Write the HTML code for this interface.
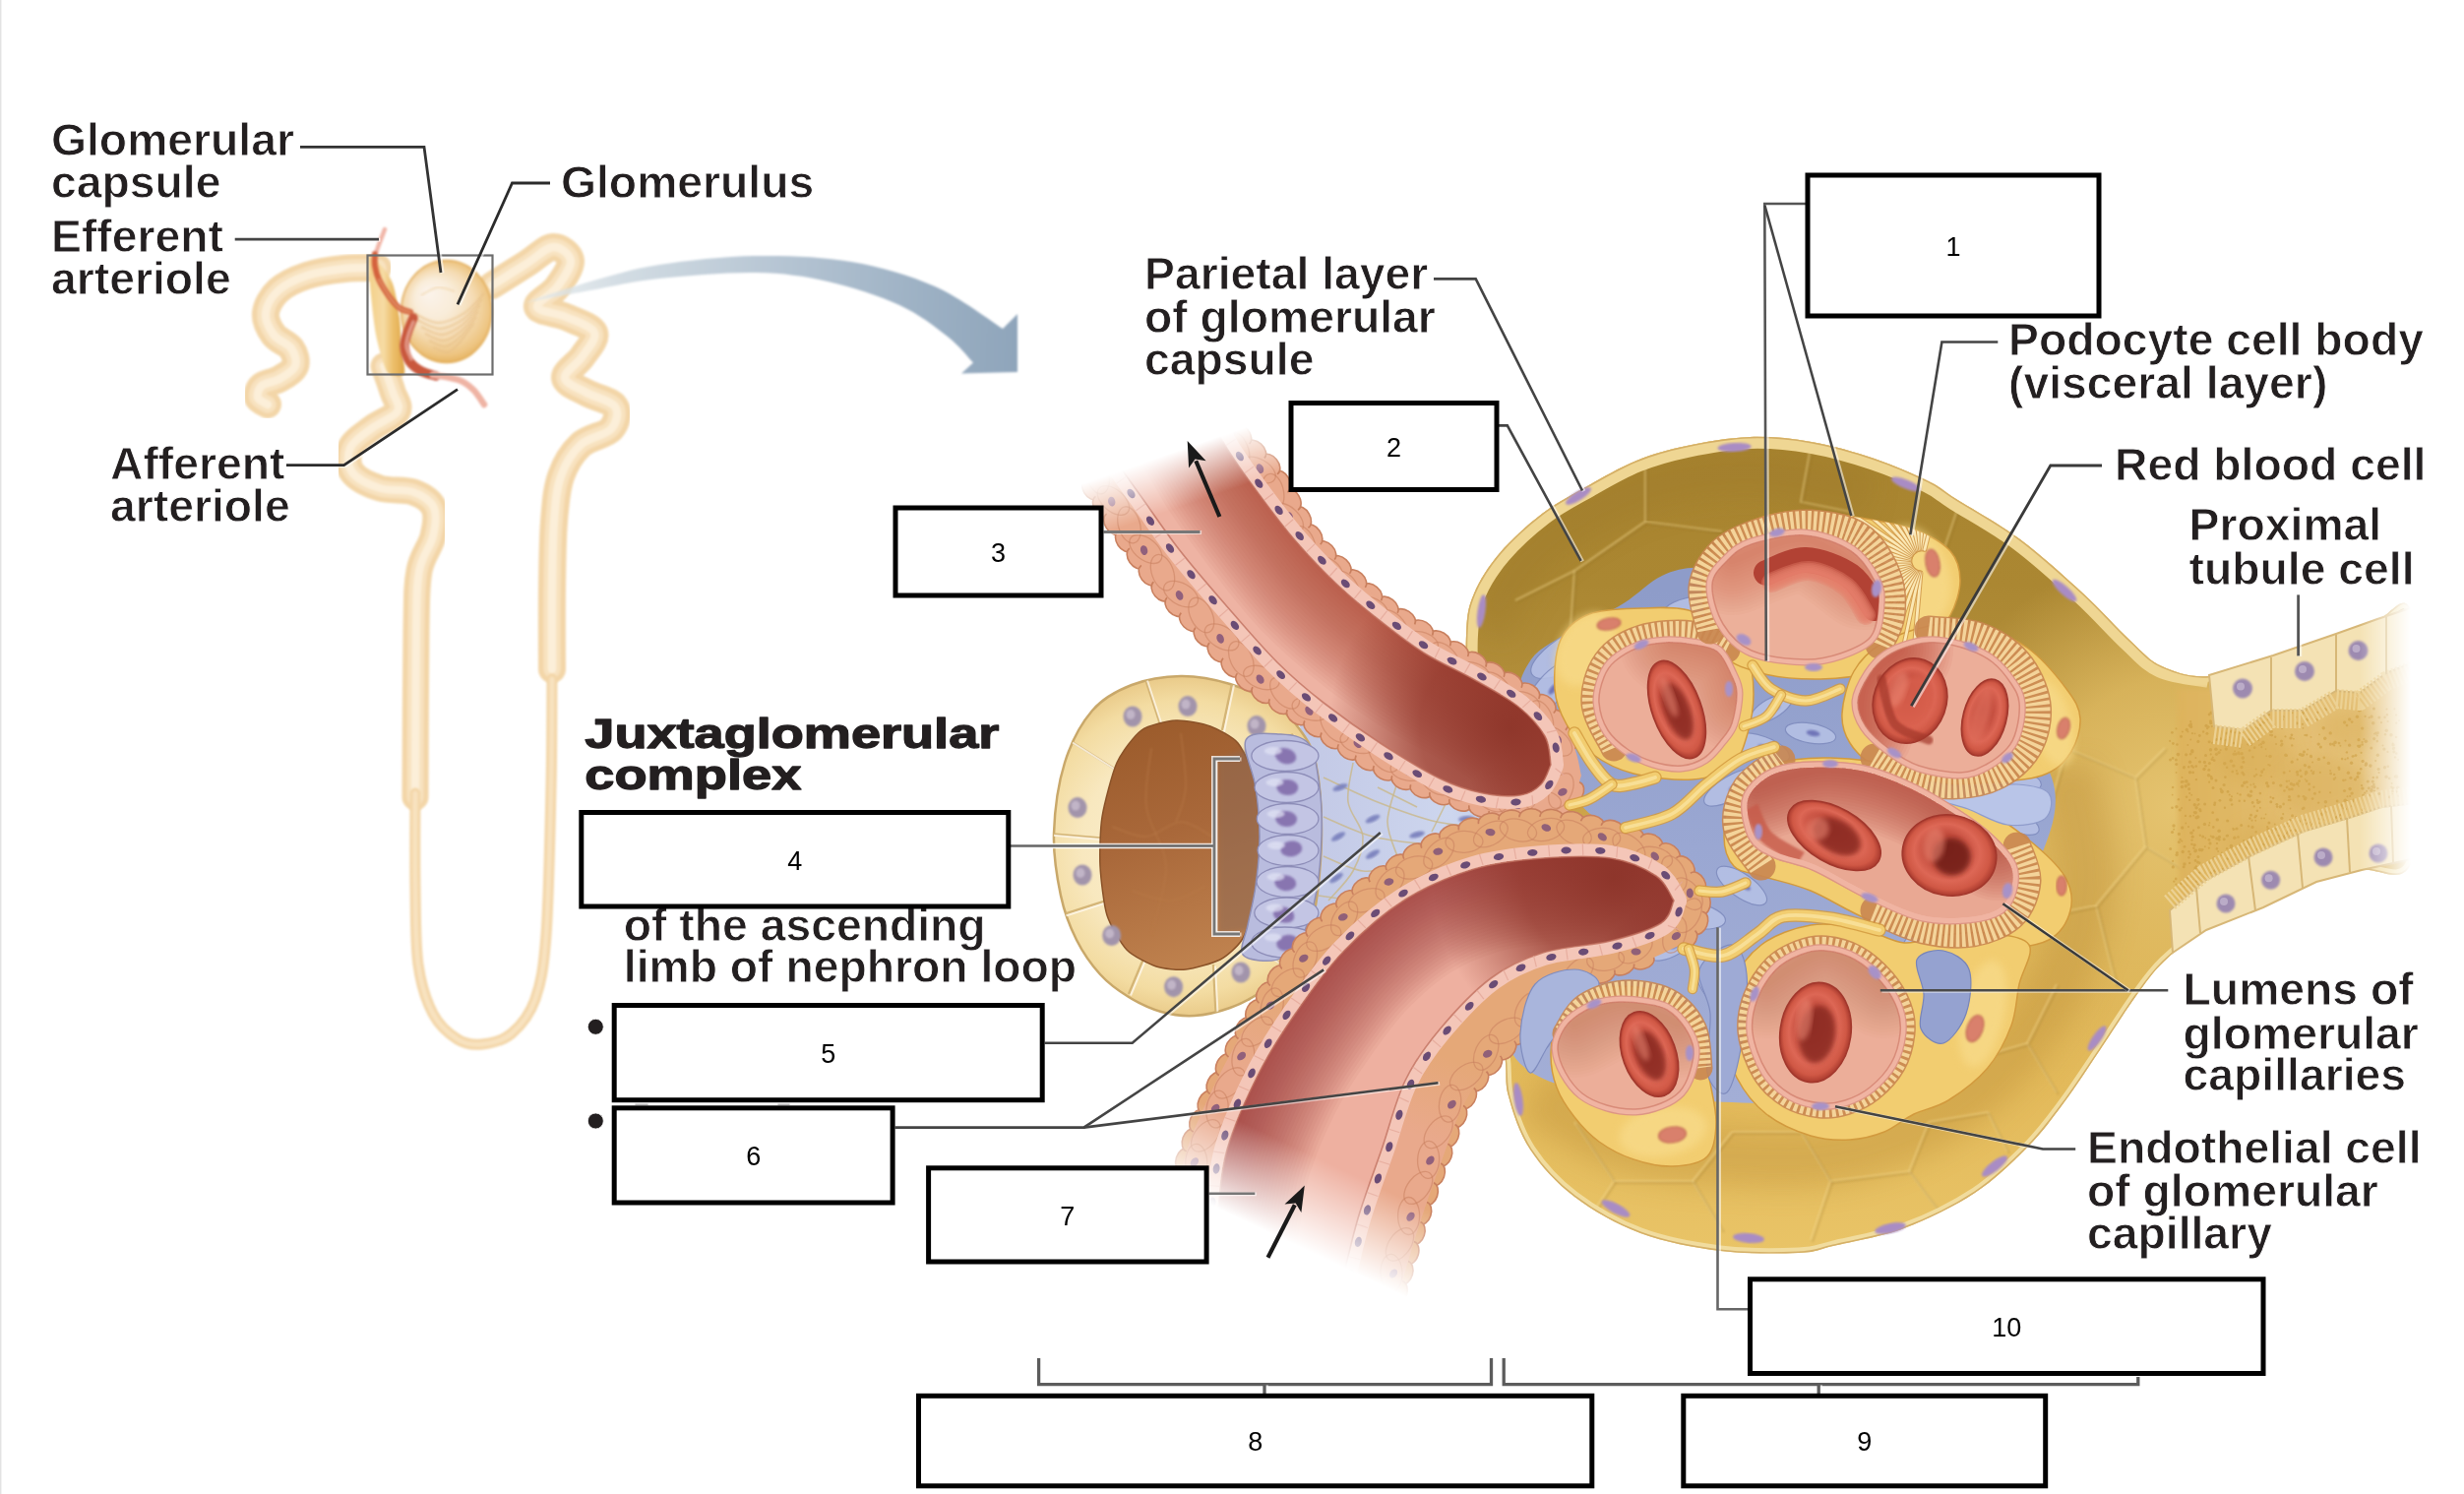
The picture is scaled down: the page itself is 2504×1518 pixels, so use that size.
<!DOCTYPE html><html><head><meta charset="utf-8"><title>Juxtaglomerular complex</title><style>html,body{margin:0;padding:0;background:#fff}svg{display:block}</style></head><body><svg width="2504" height="1518" viewBox="0 0 2504 1518" font-family="'Liberation Sans', Arial, Helvetica, sans-serif"><defs><filter id="b1" x="-10%" y="-10%" width="120%" height="120%"><feGaussianBlur stdDeviation="1.2"/></filter><filter id="b2" x="-10%" y="-10%" width="120%" height="120%"><feGaussianBlur stdDeviation="2.5"/></filter><filter id="b4" x="-20%" y="-20%" width="140%" height="140%"><feGaussianBlur stdDeviation="4"/></filter><filter id="b8" x="-30%" y="-30%" width="160%" height="160%"><feGaussianBlur stdDeviation="8"/></filter><filter id="b14" x="-40%" y="-40%" width="180%" height="180%"><feGaussianBlur stdDeviation="14"/></filter><linearGradient id="bladeg" gradientUnits="userSpaceOnUse" x1="376" y1="300" x2="410" y2="300"><stop offset="0" stop-color="#f3d08a"/><stop offset="0.4" stop-color="#f6dba4"/><stop offset="0.7" stop-color="#ecbe6a"/><stop offset="1" stop-color="#e0a94c"/></linearGradient><radialGradient id="sphg" gradientUnits="userSpaceOnUse" cx="454" cy="316" r="56" fx="434" fy="296"><stop offset="0" stop-color="#fbf4ec"/><stop offset="0.35" stop-color="#f9ecd9"/><stop offset="0.62" stop-color="#f5dcb4"/><stop offset="0.85" stop-color="#eec582"/><stop offset="1" stop-color="#e2ab52"/></radialGradient><linearGradient id="arrg" gradientUnits="userSpaceOnUse" x1="532" y1="300" x2="1034" y2="330"><stop offset="0" stop-color="#dfe6ea" stop-opacity="0.6"/><stop offset="0.2" stop-color="#d2dce3"/><stop offset="0.5" stop-color="#b7c6d4"/><stop offset="0.8" stop-color="#9db1c4"/><stop offset="1" stop-color="#8fa5bb"/></linearGradient><clipPath id="capclip"><path d="M1490,645C1491,622.2 1492.3,616.8 1498,603C1503.7,589.2 1512.5,575.5 1524,562C1535.5,548.5 1552.2,533.3 1567,522C1581.8,510.7 1597,503 1613,494C1629,485 1646.2,474.8 1663,468C1679.8,461.2 1694.8,457 1714,453C1733.2,449 1756.8,444.7 1778,444C1799.2,443.3 1819.8,445.3 1841,449C1862.2,452.7 1885.2,459.3 1905,466C1924.8,472.7 1946.2,482.2 1960,489C1973.8,495.8 1972.5,497.2 1988,507C2003.5,516.8 2031.5,532 2053,548C2074.5,564 2098.3,585.8 2117,603C2135.7,620.2 2151.7,638.7 2165,651C2178.3,663.3 2183.7,671 2197,677C2210.3,683 2226.2,688.7 2245,687C2263.8,685.3 2288.5,674 2310,667C2331.5,660 2356.3,651.2 2374,645C2391.7,638.8 2403.3,634.2 2416,630C2428.7,625.8 2442.7,600 2450,620C2457.3,640 2460,707 2460,750C2460,793 2460,855.7 2450,878C2440,900.3 2416,881 2400,884C2384,887 2370.7,889.7 2354,896C2337.3,902.3 2318.7,914 2300,922C2281.3,930 2258.8,934.8 2242,944C2225.2,953.2 2211,965.5 2199,977C2187,988.5 2180.8,998 2170,1013C2159.2,1028 2146.2,1049 2134,1067C2121.8,1085 2109.2,1104.7 2097,1121C2084.8,1137.3 2076,1149.8 2061,1165C2046,1180.2 2028,1198.2 2007,1212C1986,1225.8 1959,1239 1935,1248C1911,1257 1880.8,1261.8 1863,1266C1845.2,1270.2 1847.2,1272.2 1828,1273C1808.8,1273.8 1774.8,1274.3 1748,1271C1721.2,1267.7 1691.7,1262.2 1667,1253C1642.3,1243.8 1618.7,1230.2 1600,1216C1581.3,1201.8 1566.2,1185 1555,1168C1543.8,1151 1537.3,1130.2 1533,1114C1528.7,1097.8 1532,1093.3 1529,1071C1526,1048.7 1519.8,1015.2 1515,980C1510.2,944.8 1503.8,900 1500,860C1496.2,820 1493.7,775.8 1492,740C1490.3,704.2 1489,667.8 1490,645Z"/></clipPath><linearGradient id="capg" gradientUnits="userSpaceOnUse" x1="0" y1="445" x2="0" y2="1275"><stop offset="0" stop-color="#a8842f"/><stop offset="0.18" stop-color="#ab8732"/><stop offset="0.32" stop-color="#b38f3b"/><stop offset="0.46" stop-color="#cda449"/><stop offset="0.62" stop-color="#deb557"/><stop offset="0.8" stop-color="#e3ba5b"/><stop offset="1" stop-color="#e9c467"/></linearGradient><linearGradient id="fadeR" gradientUnits="userSpaceOnUse" x1="2398" y1="0" x2="2450" y2="0"><stop offset="0" stop-color="#fff" stop-opacity="1"/><stop offset="1" stop-color="#000" stop-opacity="1"/></linearGradient><mask id="mfadeR" maskUnits="userSpaceOnUse" x="1400" y="400" width="1104" height="950"><rect x="1400" y="400" width="1104" height="950" fill="url(#fadeR)"/></mask><radialGradient id="capR" gradientUnits="userSpaceOnUse" cx="2210" cy="820" r="260"><stop offset="0" stop-color="#e6c572" stop-opacity="0.95"/><stop offset="0.5" stop-color="#e0bb62" stop-opacity="0.8"/><stop offset="1" stop-color="#dcb65c" stop-opacity="0"/></radialGradient><linearGradient id="ptg" gradientUnits="userSpaceOnUse" x1="2200" y1="0" x2="2450" y2="0"><stop offset="0" stop-color="#ddb25a"/><stop offset="0.3" stop-color="#e0b866"/><stop offset="1" stop-color="#e8c886"/></linearGradient><linearGradient id="wedgeg" gradientUnits="userSpaceOnUse" x1="1330" y1="0" x2="1620" y2="0"><stop offset="0" stop-color="#c3c9e6"/><stop offset="0.5" stop-color="#cdd6ee"/><stop offset="1" stop-color="#a9b5da"/></linearGradient><radialGradient id="dtcell" gradientUnits="userSpaceOnUse" cx="1205" cy="860" r="175"><stop offset="0" stop-color="#fbf1d4"/><stop offset="0.6" stop-color="#f8e8bf"/><stop offset="0.85" stop-color="#f3dca2"/><stop offset="1" stop-color="#e9c987"/></radialGradient><clipPath id="dtclip"><path d="M1200,687C1183.3,687.2 1165,690.2 1150,696C1135,701.8 1121.3,708.8 1110,722C1098.7,735.2 1088.5,754.2 1082,775C1075.5,795.8 1071.7,824.5 1071,847C1070.3,869.5 1074.2,892 1078,910C1081.8,928 1087.3,941.7 1094,955C1100.7,968.3 1109.2,980.3 1118,990C1126.8,999.7 1136.7,1006.7 1147,1013C1157.3,1019.3 1168.8,1024.8 1180,1028C1191.2,1031.2 1202.3,1032.7 1214,1032C1225.7,1031.3 1238.8,1028 1250,1024C1261.2,1020 1271.8,1014.5 1281,1008C1290.2,1001.5 1298.5,993 1305,985C1311.5,977 1314.8,970 1320,960C1325.2,950 1332.2,943.8 1336,925C1339.8,906.2 1342.8,872 1343,847C1343.2,822 1340.8,792.8 1337,775C1333.2,757.2 1327,749.8 1320,740C1313,730.2 1306.7,723.5 1295,716C1283.3,708.5 1265.8,699.8 1250,695C1234.2,690.2 1216.7,686.8 1200,687Z"/></clipPath><linearGradient id="dtlum" gradientUnits="userSpaceOnUse" x1="1150" y1="732" x2="1240" y2="985"><stop offset="0" stop-color="#9b5b2b"/><stop offset="0.45" stop-color="#a9683a"/><stop offset="1" stop-color="#c18450"/></linearGradient><linearGradient id="tuftg" gradientUnits="userSpaceOnUse" x1="0" y1="600" x2="0" y2="1120"><stop offset="0" stop-color="#8e9cc9"/><stop offset="0.5" stop-color="#9aa7d2"/><stop offset="1" stop-color="#a3aed6"/></linearGradient><linearGradient id="efff" gradientUnits="userSpaceOnUse" x1="1209" y1="512" x2="1191" y2="460"><stop offset="0" stop-color="#fff" stop-opacity="1"/><stop offset="1" stop-color="#000" stop-opacity="1"/></linearGradient><mask id="meff" maskUnits="userSpaceOnUse" x="1000" y="380" width="900" height="1000"><rect x="1000" y="380" width="900" height="1000" fill="url(#efff)"/></mask><clipPath id="ceff"><path d="M1135,470C1139.2,475.8 1149.5,490.3 1160,505C1170.5,519.7 1183.8,539.8 1198,558C1212.2,576.2 1228.3,594.8 1245,614C1261.7,633.2 1281.3,656.3 1298,673C1314.7,689.7 1327.3,700.2 1345,714C1362.7,727.8 1384.3,743.2 1404,756C1423.7,768.8 1445.8,782.7 1463,791C1480.2,799.3 1493.3,803.2 1507,806C1520.7,808.8 1535.2,809.5 1545,808C1554.8,806.5 1560.8,802.2 1566,797C1571.2,791.8 1574.3,780.3 1576,777C1575,772.2 1575.5,757.8 1570,748C1564.5,738.2 1554.8,727.5 1543,718C1531.2,708.5 1514.8,700 1499,691C1483.2,682 1463.8,673.8 1448,664C1432.2,654.2 1418.7,643.5 1404,632C1389.3,620.5 1374.7,608.8 1360,595C1345.3,581.2 1329.3,564.3 1316,549C1302.7,533.7 1290.8,517.5 1280,503C1269.2,488.5 1259,474.2 1251,462C1243,449.8 1235.2,435.3 1232,430Z"/></clipPath><clipPath id="coeff"><path d="M1085,455C1089,462 1100,482.2 1109,497C1118,511.8 1127.7,527.3 1139,544C1150.3,560.7 1163.3,580.3 1177,597C1190.7,613.7 1205.8,627.8 1221,644C1236.2,660.2 1251.3,679.8 1268,694C1284.7,708.2 1303.3,717.2 1321,729C1338.7,740.8 1355.3,753.7 1374,765C1392.7,776.3 1413.3,788.2 1433,797C1452.7,805.8 1474.3,812.7 1492,818C1509.7,823.3 1525.2,827.7 1539,829C1552.8,830.3 1565.2,829.2 1575,826C1584.8,822.8 1592.7,816.3 1598,810C1603.3,803.7 1605.5,791.7 1607,788C1605.5,782.5 1603.7,766.7 1598,755C1592.3,743.3 1582.7,728 1573,718C1563.3,708 1551,702 1540,695C1529,688 1519.8,683.5 1507,676C1494.2,668.5 1478.2,659.3 1463,650C1447.8,640.7 1430.8,630.8 1416,620C1401.2,609.2 1386.8,596.7 1374,585C1361.2,573.3 1349.2,562.8 1339,550C1328.8,537.2 1320.8,520.8 1313,508C1305.2,495.2 1299.5,482.8 1292,473C1284.5,463.2 1275.8,457.8 1268,449C1260.2,440.2 1248.8,424.8 1245,420Z"/></clipPath><path id="ss1" d="M1232,420C1237,428.7 1250.7,454.5 1262,472C1273.3,489.5 1286.2,507 1300,525C1313.8,543 1327.7,562.2 1345,580C1362.3,597.8 1384.8,617 1404,632C1423.2,647 1440.7,658.2 1460,670C1479.3,681.8 1502.3,691.3 1520,703C1537.7,714.7 1555.3,726.3 1566,740C1576.7,753.7 1581,777.5 1584,785"/><radialGradient id="efftip" gradientUnits="userSpaceOnUse" cx="1535" cy="740" r="185"><stop offset="0" stop-color="#8a3126" stop-opacity="0.9"/><stop offset="0.5" stop-color="#8e3328" stop-opacity="0.7"/><stop offset="1" stop-color="#8e3328" stop-opacity="0"/></radialGradient><linearGradient id="afff" gradientUnits="userSpaceOnUse" x1="1330" y1="1172" x2="1291.6" y2="1253.4"><stop offset="0" stop-color="#fff" stop-opacity="1"/><stop offset="1" stop-color="#000" stop-opacity="1"/></linearGradient><mask id="maff" maskUnits="userSpaceOnUse" x="1000" y="380" width="900" height="1000"><rect x="1000" y="380" width="900" height="1000" fill="url(#afff)"/></mask><clipPath id="caff"><path d="M1232,1290C1232.8,1281.3 1234.5,1258.3 1237,1238C1239.5,1217.7 1240,1192.5 1247,1168C1254,1143.5 1267.3,1114.2 1279,1091C1290.7,1067.8 1302.5,1049.8 1317,1029C1331.5,1008.2 1347.5,985.2 1366,966C1384.5,946.8 1406,927.8 1428,914C1450,900.2 1474.7,890 1498,883C1521.3,876 1544.8,873.8 1568,872C1591.2,870.2 1617.8,869 1637,872C1656.2,875 1672.3,882.8 1683,890C1693.7,897.2 1698,910.8 1701,915C1698.8,918.8 1698.7,931.2 1688,938C1677.3,944.8 1657,951 1637,956C1617,961 1588.3,961.7 1568,968C1547.7,974.3 1532.5,981 1515,994C1497.5,1007 1477.5,1028.7 1463,1046C1448.5,1063.3 1437.8,1077.7 1428,1098C1418.2,1118.3 1412,1144.7 1404,1168C1396,1191.3 1387,1214.3 1380,1238C1373,1261.7 1365,1298 1362,1310Z"/></clipPath><clipPath id="coaff"><path d="M1185,1245C1187.8,1234.5 1196.2,1200.7 1202,1182C1207.8,1163.3 1211.3,1152.7 1220,1133C1228.7,1113.3 1241.3,1087.2 1254,1064C1266.7,1040.8 1280.8,1015.5 1296,994C1311.2,972.5 1325.8,953.5 1345,935C1364.2,916.5 1388.3,898.2 1411,883C1433.7,867.8 1457.8,852.8 1481,844C1504.2,835.2 1526.8,831.2 1550,830C1573.2,828.8 1596.7,831.7 1620,837C1643.3,842.3 1672.3,851.5 1690,862C1707.7,872.5 1719.7,887.8 1726,900C1732.3,912.2 1730.3,925.3 1728,935C1725.7,944.7 1714.7,954.2 1712,958C1705.8,960.8 1687.5,970.2 1675,975C1662.5,979.8 1652,980.3 1637,987C1622,993.7 1602.3,1002.2 1585,1015C1567.7,1027.8 1548.7,1047.2 1533,1064C1517.3,1080.8 1502.7,1095.8 1491,1116C1479.3,1136.2 1471.7,1161.8 1463,1185C1454.3,1208.2 1446.2,1232.5 1439,1255C1431.8,1277.5 1423.2,1309.2 1420,1320Z"/></clipPath><linearGradient id="affsm" gradientUnits="userSpaceOnUse" x1="1300" y1="1010" x2="1270" y2="1090"><stop offset="0" stop-color="#e9a98c" stop-opacity="0"/><stop offset="1" stop-color="#e9a98c" stop-opacity="1"/></linearGradient><path id="ss2" d="M1225,1300C1226.7,1288.3 1231.3,1252 1235,1230C1238.7,1208 1239.7,1191.2 1247,1168C1254.3,1144.8 1267.3,1114.2 1279,1091C1290.7,1067.8 1302.5,1049.8 1317,1029C1331.5,1008.2 1347.5,985.2 1366,966C1384.5,946.8 1406,927.8 1428,914C1450,900.2 1474.7,890 1498,883C1521.3,876 1544.8,873.8 1568,872C1591.2,870.2 1616.7,868.7 1637,872C1657.3,875.3 1678.5,883.2 1690,892C1701.5,900.8 1703.3,919.5 1706,925"/><radialGradient id="afftip" gradientUnits="userSpaceOnUse" cx="1640" cy="892" r="185"><stop offset="0" stop-color="#8a3126" stop-opacity="0.9"/><stop offset="0.5" stop-color="#8e3328" stop-opacity="0.7"/><stop offset="1" stop-color="#8e3328" stop-opacity="0"/></radialGradient><clipPath id="p1clip"><path d="M1730,600C1729.5,582.7 1734,567.7 1742,556C1750,544.3 1763.3,536.2 1778,530C1792.7,523.8 1811.3,519.7 1830,519C1848.7,518.3 1870.8,522.8 1890,526C1909.2,529.2 1929.7,532.3 1945,538C1960.3,543.7 1974.2,551.3 1982,560C1989.8,568.7 1992,579.2 1992,590C1992,600.8 1987.3,615.3 1982,625C1976.7,634.7 1968.7,641.3 1960,648C1951.3,654.7 1939.2,659.3 1930,665C1920.8,670.7 1918.3,677.8 1905,682C1891.7,686.2 1869.2,689.7 1850,690C1830.8,690.3 1807.5,689 1790,684C1772.5,679 1755,674 1745,660C1735,646 1730.5,617.3 1730,600Z"/></clipPath><clipPath id="clc2"><path d="M1625,714C1624.3,705 1627.3,695 1630,688C1632.7,681 1635.2,677 1641,672C1646.8,667 1656.5,661.2 1665,658C1673.5,654.8 1682.8,653.5 1692,653C1701.2,652.5 1711.2,653.5 1720,655C1728.8,656.5 1738.5,657 1745,662C1751.5,667 1755.7,678 1759,685C1762.3,692 1764.8,695.7 1765,704C1765.2,712.3 1762.7,727 1760,735C1757.3,743 1753.7,746.2 1749,752C1744.3,757.8 1738.7,765.7 1732,770C1725.3,774.3 1717.7,777.3 1709,778C1700.3,778.7 1689,776.7 1680,774C1671,771.3 1662.7,767.3 1655,762C1647.3,756.7 1639,750 1634,742C1629,734 1625.7,723 1625,714Z"/></clipPath><path id="ss3" d="M1700,652C1708.3,654.7 1738.7,658.3 1750,668C1761.3,677.7 1765,703 1768,710"/><radialGradient id="rbc1" gradientUnits="objectBoundingBox" cx="0.5" cy="0.5" r="0.5" fx="0.4" fy="0.4"><stop offset="0" stop-color="#a83a2f"/><stop offset="0.4" stop-color="#c24c3d"/><stop offset="0.7" stop-color="#dd6755"/><stop offset="0.88" stop-color="#d05845"/><stop offset="1" stop-color="#a93a2e"/></radialGradient><clipPath id="clc1"><path d="M1740,594C1740.7,583.3 1748.3,576.8 1755,570C1761.7,563.2 1766.8,557.3 1780,553C1793.2,548.7 1817.2,542.8 1834,544C1850.8,545.2 1869.2,552.3 1881,560C1892.8,567.7 1900.3,580.8 1905,590C1909.7,599.2 1909.7,605.5 1909,615C1908.3,624.5 1907.5,638.8 1901,647C1894.5,655.2 1881.2,660.2 1870,664C1858.8,667.8 1849,670.5 1834,670C1819,669.5 1793.8,667 1780,661C1766.2,655 1757.7,645.2 1751,634C1744.3,622.8 1739.3,604.7 1740,594Z"/></clipPath><path id="ss4" d="M1760,570C1772.3,566.3 1811.5,545.5 1834,548C1856.5,550.5 1884.8,578.8 1895,585"/><path id="ss5" d="M1800,592C1806.3,590 1825.3,579.3 1838,580C1850.7,580.7 1866.3,588.5 1876,596C1885.7,603.5 1892.7,620.2 1896,625"/><clipPath id="clc3"><path d="M1888,712C1888.7,703.2 1895.2,692.5 1900,685C1904.8,677.5 1910,671.8 1917,667C1924,662.2 1933.5,658.3 1942,656C1950.5,653.7 1958.3,652.3 1968,653C1977.7,653.7 1990.5,656.7 2000,660C2009.5,663.3 2017.7,667.2 2025,673C2032.3,678.8 2039.5,688.2 2044,695C2048.5,701.8 2051.2,706.2 2052,714C2052.8,721.8 2051,734.3 2049,742C2047,749.7 2045.2,754.2 2040,760C2034.8,765.8 2026,772.8 2018,777C2010,781.2 2003.3,784.8 1992,785C1980.7,785.2 1962,782 1950,778C1938,774 1929,767.7 1920,761C1911,754.3 1901.3,746.2 1896,738C1890.7,729.8 1887.3,720.8 1888,712Z"/></clipPath><path id="ss6" d="M1890,740C1890.8,732.5 1888.3,708.3 1895,695C1901.7,681.7 1924.2,665.8 1930,660"/><radialGradient id="rbc2" gradientUnits="objectBoundingBox" cx="0.5" cy="0.5" r="0.5" fx="0.4" fy="0.4"><stop offset="0" stop-color="#a83a2f"/><stop offset="0.4" stop-color="#c24c3d"/><stop offset="0.7" stop-color="#dd6755"/><stop offset="0.88" stop-color="#d05845"/><stop offset="1" stop-color="#a93a2e"/></radialGradient><radialGradient id="rbc3" gradientUnits="objectBoundingBox" cx="0.5" cy="0.5" r="0.5" fx="0.4" fy="0.4"><stop offset="0" stop-color="#a83a2f"/><stop offset="0.4" stop-color="#c24c3d"/><stop offset="0.7" stop-color="#dd6755"/><stop offset="0.88" stop-color="#d05845"/><stop offset="1" stop-color="#a93a2e"/></radialGradient><clipPath id="clc4"><path d="M1776,814C1777.7,804.3 1785.8,797.3 1793,792C1800.2,786.7 1807.8,784 1819,782C1830.2,780 1846.7,779.5 1860,780C1873.3,780.5 1884.8,781.2 1899,785C1913.2,788.8 1930,795.7 1945,803C1960,810.3 1976.5,820.8 1989,829C2001.5,837.2 2011,843.7 2020,852C2029,860.3 2039,870.5 2043,879C2047,887.5 2045.8,895.7 2044,903C2042.2,910.3 2039.3,918.2 2032,923C2024.7,927.8 2013.2,930.8 2000,932C1986.8,933.2 1969.7,934 1953,930C1936.3,926 1918,916.5 1900,908C1882,899.5 1860.8,886 1845,879C1829.2,872 1815.3,870.8 1805,866C1794.7,861.2 1787.8,858.7 1783,850C1778.2,841.3 1774.3,823.7 1776,814Z"/></clipPath><path id="ss7" d="M1785,800C1797.5,797 1832.5,781 1860,782C1887.5,783 1921.7,793 1950,806C1978.3,819 2016.7,851 2030,860"/><path id="ss8" d="M1785,800C1797.5,797 1832.5,781 1860,782C1887.5,783 1921.7,793 1950,806C1978.3,819 2016.7,851 2030,860"/><radialGradient id="rbc4" gradientUnits="objectBoundingBox" cx="0.5" cy="0.5" r="0.5" fx="0.4" fy="0.4"><stop offset="0" stop-color="#a83a2f"/><stop offset="0.4" stop-color="#c24c3d"/><stop offset="0.7" stop-color="#dd6755"/><stop offset="0.88" stop-color="#d05845"/><stop offset="1" stop-color="#a93a2e"/></radialGradient><radialGradient id="rbc5" gradientUnits="objectBoundingBox" cx="0.5" cy="0.5" r="0.5" fx="0.4" fy="0.4"><stop offset="0" stop-color="#a83a2f"/><stop offset="0.4" stop-color="#c24c3d"/><stop offset="0.7" stop-color="#dd6755"/><stop offset="0.88" stop-color="#d05845"/><stop offset="1" stop-color="#a93a2e"/></radialGradient><clipPath id="clc5"><path d="M1781,1049C1779.5,1036.8 1782,1025.7 1786,1015C1790,1004.3 1797.7,992.5 1805,985C1812.3,977.5 1821.7,973.2 1830,970C1838.3,966.8 1845.8,965.2 1855,966C1864.2,966.8 1875.5,969.7 1885,975C1894.5,980.3 1904.8,989.7 1912,998C1919.2,1006.3 1924.8,1016.3 1928,1025C1931.2,1033.7 1932,1040.8 1931,1050C1930,1059.2 1927.2,1070.8 1922,1080C1916.8,1089.2 1907.8,1098.7 1900,1105C1892.2,1111.3 1883.3,1115.3 1875,1118C1866.7,1120.7 1859.2,1122 1850,1121C1840.8,1120 1829.2,1117.5 1820,1112C1810.8,1106.5 1801.5,1098.5 1795,1088C1788.5,1077.5 1782.5,1061.2 1781,1049Z"/></clipPath><path id="ss9" d="M1795,1000C1805,994.7 1835,968 1855,968C1875,968 1905,994.7 1915,1000"/><radialGradient id="rbc6" gradientUnits="objectBoundingBox" cx="0.5" cy="0.5" r="0.5" fx="0.4" fy="0.4"><stop offset="0" stop-color="#a83a2f"/><stop offset="0.4" stop-color="#c24c3d"/><stop offset="0.7" stop-color="#dd6755"/><stop offset="0.88" stop-color="#d05845"/><stop offset="1" stop-color="#a93a2e"/></radialGradient><clipPath id="clc6"><path d="M1583,1066C1582.5,1059 1585.2,1053.3 1588,1048C1590.8,1042.7 1594.3,1038.3 1600,1034C1605.7,1029.7 1614.3,1024.7 1622,1022C1629.7,1019.3 1637.7,1018.3 1646,1018C1654.3,1017.7 1664,1018.7 1672,1020C1680,1021.3 1687.3,1022 1694,1026C1700.7,1030 1707.5,1037.3 1712,1044C1716.5,1050.7 1720.2,1058.3 1721,1066C1721.8,1073.7 1719.3,1082.8 1717,1090C1714.7,1097.2 1711.8,1103.8 1707,1109C1702.2,1114.2 1695.5,1118 1688,1121C1680.5,1124 1671.2,1126.7 1662,1127C1652.8,1127.3 1642,1125.7 1633,1123C1624,1120.3 1615,1116.5 1608,1111C1601,1105.5 1595.2,1097.5 1591,1090C1586.8,1082.5 1583.5,1073 1583,1066Z"/></clipPath><path id="ss10" d="M1600,1040C1608.3,1036.7 1632.5,1020 1650,1020C1667.5,1020 1695.8,1036.7 1705,1040"/><radialGradient id="rbc7" gradientUnits="objectBoundingBox" cx="0.5" cy="0.5" r="0.5" fx="0.4" fy="0.4"><stop offset="0" stop-color="#a83a2f"/><stop offset="0.4" stop-color="#c24c3d"/><stop offset="0.7" stop-color="#dd6755"/><stop offset="0.88" stop-color="#d05845"/><stop offset="1" stop-color="#a93a2e"/></radialGradient></defs><rect x="0" y="0" width="1" height="1518" fill="#e3e3e3"/><rect x="1" y="0" width="1" height="1518" fill="#f3f3f3"/>
<g filter="url(#b1)">
<path d="M384,272C378.3,272.2 362,271.7 350,273C338,274.3 323.2,276.3 312,280C300.8,283.7 290,288.7 283,295C276,301.3 270.8,310.5 270,318C269.2,325.5 273.7,334 278,340C282.3,346 292.3,348.7 296,354C299.7,359.3 302,366.8 300,372C298,377.2 289.7,381.7 284,385C278.3,388.3 269.7,388.8 266,392C262.3,395.2 261,400.8 262,404C263,407.2 270.3,409.8 272,411" fill="none" stroke="#f3d6a8" stroke-width="28" stroke-linecap="round" stroke-linejoin="round"/>
<path d="M384,272C378.3,272.2 362,271.7 350,273C338,274.3 323.2,276.3 312,280C300.8,283.7 290,288.7 283,295C276,301.3 270.8,310.5 270,318C269.2,325.5 273.7,334 278,340C282.3,346 292.3,348.7 296,354C299.7,359.3 302,366.8 300,372C298,377.2 289.7,381.7 284,385C278.3,388.3 269.7,388.8 266,392C262.3,395.2 261,400.8 262,404C263,407.2 270.3,409.8 272,411" fill="none" stroke="#f8e2bf" stroke-width="17.4" stroke-linecap="round" stroke-linejoin="round"/>
<path d="M384,272C378.3,272.2 362,271.7 350,273C338,274.3 323.2,276.3 312,280C300.8,283.7 290,288.7 283,295C276,301.3 270.8,310.5 270,318C269.2,325.5 273.7,334 278,340C282.3,346 292.3,348.7 296,354C299.7,359.3 302,366.8 300,372C298,377.2 289.7,381.7 284,385C278.3,388.3 269.7,388.8 266,392C262.3,395.2 261,400.8 262,404C263,407.2 270.3,409.8 272,411" fill="none" stroke="#fcefd9" stroke-width="8.4" stroke-linecap="round" stroke-linejoin="round"/>
</g>
<g filter="url(#b1)">
<path d="M390,372C391.5,376.3 396.7,390.3 399,398C401.3,405.7 407.5,411.8 404,418C400.5,424.2 386,428.8 378,435C370,441.2 359.3,447.5 356,455C352.7,462.5 353,473.2 358,480C363,486.8 375.7,492.7 386,496C396.3,499.3 410.8,496.7 420,500C429.2,503.3 437.7,508.5 441,516C444.3,523.5 442.5,534.3 440,545C437.5,555.7 428.8,564.2 426,580C423.2,595.8 423.7,601.7 423,640C422.3,678.3 422.2,781.7 422,810" fill="none" stroke="#f3d6a8" stroke-width="27" stroke-linecap="round" stroke-linejoin="round"/>
<path d="M390,372C391.5,376.3 396.7,390.3 399,398C401.3,405.7 407.5,411.8 404,418C400.5,424.2 386,428.8 378,435C370,441.2 359.3,447.5 356,455C352.7,462.5 353,473.2 358,480C363,486.8 375.7,492.7 386,496C396.3,499.3 410.8,496.7 420,500C429.2,503.3 437.7,508.5 441,516C444.3,523.5 442.5,534.3 440,545C437.5,555.7 428.8,564.2 426,580C423.2,595.8 423.7,601.7 423,640C422.3,678.3 422.2,781.7 422,810" fill="none" stroke="#f8e2bf" stroke-width="16.7" stroke-linecap="round" stroke-linejoin="round"/>
<path d="M390,372C391.5,376.3 396.7,390.3 399,398C401.3,405.7 407.5,411.8 404,418C400.5,424.2 386,428.8 378,435C370,441.2 359.3,447.5 356,455C352.7,462.5 353,473.2 358,480C363,486.8 375.7,492.7 386,496C396.3,499.3 410.8,496.7 420,500C429.2,503.3 437.7,508.5 441,516C444.3,523.5 442.5,534.3 440,545C437.5,555.7 428.8,564.2 426,580C423.2,595.8 423.7,601.7 423,640C422.3,678.3 422.2,781.7 422,810" fill="none" stroke="#fcefd9" stroke-width="8.1" stroke-linecap="round" stroke-linejoin="round"/>
</g>
<g filter="url(#b1)">
<path d="M500,290C505.8,286.3 524.7,274.5 535,268C545.3,261.5 554.5,251.5 562,251C569.5,250.5 579.3,258.2 580,265C580.7,271.8 571.7,284.2 566,292C560.3,299.8 544.5,307 546,312C547.5,317 565.3,317.7 575,322C584.7,326.3 601.2,331.3 604,338C606.8,344.7 597,354.3 592,362C587,369.7 573.3,377.8 574,384C574.7,390.2 587.5,394.2 596,399C604.5,403.8 620.8,406.8 625,413C629.2,419.2 626.8,429.5 621,436C615.2,442.5 598.5,444 590,452C581.5,460 574.5,471 570,484C565.5,497 564.5,510.7 563,530C561.5,549.3 561.3,575 561,600C560.7,625 561,666.7 561,680" fill="none" stroke="#f3d6a8" stroke-width="28" stroke-linecap="round" stroke-linejoin="round"/>
<path d="M500,290C505.8,286.3 524.7,274.5 535,268C545.3,261.5 554.5,251.5 562,251C569.5,250.5 579.3,258.2 580,265C580.7,271.8 571.7,284.2 566,292C560.3,299.8 544.5,307 546,312C547.5,317 565.3,317.7 575,322C584.7,326.3 601.2,331.3 604,338C606.8,344.7 597,354.3 592,362C587,369.7 573.3,377.8 574,384C574.7,390.2 587.5,394.2 596,399C604.5,403.8 620.8,406.8 625,413C629.2,419.2 626.8,429.5 621,436C615.2,442.5 598.5,444 590,452C581.5,460 574.5,471 570,484C565.5,497 564.5,510.7 563,530C561.5,549.3 561.3,575 561,600C560.7,625 561,666.7 561,680" fill="none" stroke="#f8e2bf" stroke-width="17.4" stroke-linecap="round" stroke-linejoin="round"/>
<path d="M500,290C505.8,286.3 524.7,274.5 535,268C545.3,261.5 554.5,251.5 562,251C569.5,250.5 579.3,258.2 580,265C580.7,271.8 571.7,284.2 566,292C560.3,299.8 544.5,307 546,312C547.5,317 565.3,317.7 575,322C584.7,326.3 601.2,331.3 604,338C606.8,344.7 597,354.3 592,362C587,369.7 573.3,377.8 574,384C574.7,390.2 587.5,394.2 596,399C604.5,403.8 620.8,406.8 625,413C629.2,419.2 626.8,429.5 621,436C615.2,442.5 598.5,444 590,452C581.5,460 574.5,471 570,484C565.5,497 564.5,510.7 563,530C561.5,549.3 561.3,575 561,600C560.7,625 561,666.7 561,680" fill="none" stroke="#fcefd9" stroke-width="8.4" stroke-linecap="round" stroke-linejoin="round"/>
</g>
<g filter="url(#b1)">
<path d="M422,806C422,821.7 421.5,871 422,900C422.5,929 422,958.3 425,980C428,1001.7 433.3,1017.3 440,1030C446.7,1042.7 456.7,1050.8 465,1056C473.3,1061.2 480.8,1062 490,1061C499.2,1060 511,1057.7 520,1050C529,1042.3 538.2,1031.7 544,1015C549.8,998.3 552.3,985.8 555,950C557.7,914.2 559,843.3 560,800C561,756.7 560.8,708.3 561,690" fill="none" stroke="#f3d6a8" stroke-width="11" stroke-linecap="round"/>
<path d="M422,806C422,821.7 421.5,871 422,900C422.5,929 422,958.3 425,980C428,1001.7 433.3,1017.3 440,1030C446.7,1042.7 456.7,1050.8 465,1056C473.3,1061.2 480.8,1062 490,1061C499.2,1060 511,1057.7 520,1050C529,1042.3 538.2,1031.7 544,1015C549.8,998.3 552.3,985.8 555,950C557.7,914.2 559,843.3 560,800C561,756.7 560.8,708.3 561,690" fill="none" stroke="#f8e2bf" stroke-width="5" stroke-linecap="round"/>
</g>
<path d="M375,263C373.8,267.3 376.1,289.7 377,300C377.9,310.3 380.3,330.7 382,340C383.7,349.3 388.1,364.7 390,370C391.9,375.3 393.2,378.7 396,380C398.8,381.3 409.4,383.7 411,380C412.6,376.3 408.7,359.6 408,352C407.3,344.4 407.2,331.5 406,323C404.8,314.5 401.7,295.3 399,288C396.3,280.7 389.2,271.3 386,268C382.8,264.7 376.2,258.7 375,263Z" fill="url(#bladeg)" filter="url(#b1)"/>
<ellipse cx="453.7" cy="316.5" rx="46" ry="52" fill="url(#sphg)" stroke="#e2ad58" stroke-width="1.6" filter="url(#b1)"/>
<path d="M420,318C424.2,319.7 436.3,328 445,328C453.7,328 464.2,323 472,318C479.8,313 488.7,301.3 492,298" fill="none" stroke="#e6bd84" stroke-width="2" opacity="0.6" filter="url(#b1)"/>
<path d="M424,325C427.8,326.5 439.2,334.2 447,334C454.8,333.8 463.8,329 471,324C478.2,319 486.8,307.3 490,304" fill="none" stroke="#e6bd84" stroke-width="2" opacity="0.6" filter="url(#b1)"/>
<path d="M428,332C431.5,333.3 442,340.3 449,340C456,339.7 463.5,335 470,330C476.5,325 485,313.3 488,310" fill="none" stroke="#e6bd84" stroke-width="2" opacity="0.6" filter="url(#b1)"/>
<path d="M432,339C435.2,340.2 444.8,346.5 451,346C457.2,345.5 463.2,341 469,336C474.8,331 483.2,319.3 486,316" fill="none" stroke="#e6bd84" stroke-width="2" opacity="0.6" filter="url(#b1)"/>
<path d="M436,346C438.8,347 447.7,352.7 453,352C458.3,351.3 462.8,347 468,342C473.2,337 481.3,325.3 484,322" fill="none" stroke="#e6bd84" stroke-width="2" opacity="0.6" filter="url(#b1)"/>
<path d="M440,353C442.5,353.8 450.5,358.8 455,358C459.5,357.2 462.5,353 467,348C471.5,343 479.5,331.3 482,328" fill="none" stroke="#e6bd84" stroke-width="2" opacity="0.6" filter="url(#b1)"/>
<path d="M428,300C430.8,298.7 439.3,292.7 445,292C450.7,291.3 459.2,295.3 462,296" fill="none" stroke="#f0d4a8" stroke-width="2" opacity="0.6" filter="url(#b1)"/>
<g filter="url(#b1)" fill="none" stroke-linecap="round" stroke-linejoin="round">
<path d="M391,233C390.2,235.2 387.7,241.5 386,246C384.3,250.5 381.8,257.7 381,260" fill="none" stroke="#f1b6a8" stroke-width="4.5"/>
<path d="M381,258C381,260 380.3,265.7 381,270C381.7,274.3 382.5,278.7 385,284C387.5,289.3 392.5,297.2 396,302C399.5,306.8 402.5,310.5 406,313C409.5,315.5 415.2,316.3 417,317" fill="none" stroke="#d4623e" stroke-width="6"/>
<path d="M385,284C386.8,287 392.5,297.2 396,302C399.5,306.8 402.5,310.5 406,313C409.5,315.5 415.2,316.3 417,317" fill="none" stroke="#e08a60" stroke-width="2.2"/>
<path d="M420,323C419,325.5 415.5,333.2 414,338C412.5,342.8 410.7,347.2 411,352C411.3,356.8 413.2,362.8 416,367C418.8,371.2 423.5,374.5 428,377C432.5,379.5 440.5,381.2 443,382" fill="none" stroke="#c9583c" stroke-width="9.5"/>
<path d="M420,327C419.2,329.2 416.2,335.8 415,340C413.8,344.2 412.5,347.8 413,352C413.5,356.2 417.2,362.8 418,365" fill="none" stroke="#e39a88" stroke-width="3"/>
<path d="M440,381C444.3,381.8 459.2,383.5 466,386C472.8,388.5 476.7,391.8 481,396C485.3,400.2 490.2,408.5 492,411" fill="none" stroke="#efb4a4" stroke-width="6.5"/>
</g>
<rect x="373.5" y="259.5" width="127" height="121" fill="none" stroke="#6d6d6d" stroke-width="2.2"/>
<path d="M532,308C543.3,304.3 577,292.5 600,286C623,279.5 642,273.3 670,269C698,264.7 735.5,260.5 768,260C800.5,259.5 834.7,260.8 865,266C895.3,271.2 924.3,279.7 950,291C975.7,302.3 1007.5,326.8 1019,334 L1034,319 L1034,378 L977,379.5 L989,368.5C984.7,364.1 975.5,351.8 963,342C950.5,332.2 934.3,319.3 914,310C893.7,300.7 865.3,291.5 841,286C816.7,280.5 796.5,277.5 768,277C739.5,276.5 698,280 670,283C642,286 623,290.8 600,295C577,299.2 543.3,305.8 532,308Z" fill="url(#arrg)" filter="url(#b1)"/>
<g mask="url(#mfadeR)">
<g clip-path="url(#capclip)">
<path d="M1490,645C1491,622.2 1492.3,616.8 1498,603C1503.7,589.2 1512.5,575.5 1524,562C1535.5,548.5 1552.2,533.3 1567,522C1581.8,510.7 1597,503 1613,494C1629,485 1646.2,474.8 1663,468C1679.8,461.2 1694.8,457 1714,453C1733.2,449 1756.8,444.7 1778,444C1799.2,443.3 1819.8,445.3 1841,449C1862.2,452.7 1885.2,459.3 1905,466C1924.8,472.7 1946.2,482.2 1960,489C1973.8,495.8 1972.5,497.2 1988,507C2003.5,516.8 2031.5,532 2053,548C2074.5,564 2098.3,585.8 2117,603C2135.7,620.2 2151.7,638.7 2165,651C2178.3,663.3 2183.7,671 2197,677C2210.3,683 2226.2,688.7 2245,687C2263.8,685.3 2288.5,674 2310,667C2331.5,660 2356.3,651.2 2374,645C2391.7,638.8 2403.3,634.2 2416,630C2428.7,625.8 2442.7,600 2450,620C2457.3,640 2460,707 2460,750C2460,793 2460,855.7 2450,878C2440,900.3 2416,881 2400,884C2384,887 2370.7,889.7 2354,896C2337.3,902.3 2318.7,914 2300,922C2281.3,930 2258.8,934.8 2242,944C2225.2,953.2 2211,965.5 2199,977C2187,988.5 2180.8,998 2170,1013C2159.2,1028 2146.2,1049 2134,1067C2121.8,1085 2109.2,1104.7 2097,1121C2084.8,1137.3 2076,1149.8 2061,1165C2046,1180.2 2028,1198.2 2007,1212C1986,1225.8 1959,1239 1935,1248C1911,1257 1880.8,1261.8 1863,1266C1845.2,1270.2 1847.2,1272.2 1828,1273C1808.8,1273.8 1774.8,1274.3 1748,1271C1721.2,1267.7 1691.7,1262.2 1667,1253C1642.3,1243.8 1618.7,1230.2 1600,1216C1581.3,1201.8 1566.2,1185 1555,1168C1543.8,1151 1537.3,1130.2 1533,1114C1528.7,1097.8 1532,1093.3 1529,1071C1526,1048.7 1519.8,1015.2 1515,980C1510.2,944.8 1503.8,900 1500,860C1496.2,820 1493.7,775.8 1492,740C1490.3,704.2 1489,667.8 1490,645Z" fill="url(#capg)"/>
<rect x="1900" y="500" width="600" height="700" fill="url(#capR)"/>
<path d="M1560,1110C1575,1118.3 1616.7,1149.2 1650,1160C1683.3,1170.8 1721.7,1173.3 1760,1175C1798.3,1176.7 1841.7,1179.2 1880,1170C1918.3,1160.8 1956.7,1145 1990,1120C2023.3,1095 2058.3,1056.7 2080,1020C2101.7,983.3 2116.7,940 2120,900C2123.3,860 2103.3,800 2100,780" fill="none" stroke="#b98a34" stroke-width="60" opacity="0.35" filter="url(#b14)"/>
<path d="M1510,640C1518.3,626.7 1535,583.3 1560,560C1585,536.7 1623.3,513.3 1660,500C1696.7,486.7 1740,480 1780,480C1820,480 1880,496.7 1900,500" fill="none" stroke="#9b782a" stroke-width="50" opacity="0.35" filter="url(#b14)"/>
<path d="M1672,470 L1672,530 L1600,580 L1596,640" fill="none" stroke="#f3d992" stroke-width="2.2" opacity="0.45" stroke-linejoin="round" filter="url(#b1)"/>
<path d="M1674,472 L1674,532 L1602,582 L1598,642" fill="none" stroke="#8a6a24" stroke-width="1.6" opacity="0.25" stroke-linejoin="round" filter="url(#b1)"/>
<path d="M1672,530 L1750,540" fill="none" stroke="#f3d992" stroke-width="2.2" opacity="0.45" stroke-linejoin="round" filter="url(#b1)"/>
<path d="M1674,532 L1752,542" fill="none" stroke="#8a6a24" stroke-width="1.6" opacity="0.25" stroke-linejoin="round" filter="url(#b1)"/>
<path d="M1600,580 L1540,610" fill="none" stroke="#f3d992" stroke-width="2.2" opacity="0.45" stroke-linejoin="round" filter="url(#b1)"/>
<path d="M1602,582 L1542,612" fill="none" stroke="#8a6a24" stroke-width="1.6" opacity="0.25" stroke-linejoin="round" filter="url(#b1)"/>
<path d="M1840,455 L1830,510 L1880,520" fill="none" stroke="#f3d992" stroke-width="2.2" opacity="0.45" stroke-linejoin="round" filter="url(#b1)"/>
<path d="M1842,457 L1832,512 L1882,522" fill="none" stroke="#8a6a24" stroke-width="1.6" opacity="0.25" stroke-linejoin="round" filter="url(#b1)"/>
<path d="M1990,515 L1975,560" fill="none" stroke="#f3d992" stroke-width="2.2" opacity="0.45" stroke-linejoin="round" filter="url(#b1)"/>
<path d="M1992,517 L1977,562" fill="none" stroke="#8a6a24" stroke-width="1.6" opacity="0.25" stroke-linejoin="round" filter="url(#b1)"/>
<path d="M2075,700 L2100,760 L2170,790 L2200,760" fill="none" stroke="#f3d992" stroke-width="2.2" opacity="0.45" stroke-linejoin="round" filter="url(#b1)"/>
<path d="M2077,702 L2102,762 L2172,792 L2202,762" fill="none" stroke="#8a6a24" stroke-width="1.6" opacity="0.25" stroke-linejoin="round" filter="url(#b1)"/>
<path d="M2100,760 L2080,830" fill="none" stroke="#f3d992" stroke-width="2.2" opacity="0.45" stroke-linejoin="round" filter="url(#b1)"/>
<path d="M2102,762 L2082,832" fill="none" stroke="#8a6a24" stroke-width="1.6" opacity="0.25" stroke-linejoin="round" filter="url(#b1)"/>
<path d="M2170,790 L2180,860 L2230,890" fill="none" stroke="#f3d992" stroke-width="2.2" opacity="0.45" stroke-linejoin="round" filter="url(#b1)"/>
<path d="M2172,792 L2182,862 L2232,892" fill="none" stroke="#8a6a24" stroke-width="1.6" opacity="0.25" stroke-linejoin="round" filter="url(#b1)"/>
<path d="M2180,860 L2130,920 L2150,1000" fill="none" stroke="#f3d992" stroke-width="2.2" opacity="0.45" stroke-linejoin="round" filter="url(#b1)"/>
<path d="M2182,862 L2132,922 L2152,1002" fill="none" stroke="#8a6a24" stroke-width="1.6" opacity="0.25" stroke-linejoin="round" filter="url(#b1)"/>
<path d="M2130,920 L2080,930" fill="none" stroke="#f3d992" stroke-width="2.2" opacity="0.45" stroke-linejoin="round" filter="url(#b1)"/>
<path d="M2132,922 L2082,932" fill="none" stroke="#8a6a24" stroke-width="1.6" opacity="0.25" stroke-linejoin="round" filter="url(#b1)"/>
<path d="M2090,1000 L2060,1060 L2090,1110" fill="none" stroke="#f3d992" stroke-width="2.2" opacity="0.45" stroke-linejoin="round" filter="url(#b1)"/>
<path d="M2092,1002 L2062,1062 L2092,1112" fill="none" stroke="#8a6a24" stroke-width="1.6" opacity="0.25" stroke-linejoin="round" filter="url(#b1)"/>
<path d="M2060,1060 L1990,1080" fill="none" stroke="#f3d992" stroke-width="2.2" opacity="0.45" stroke-linejoin="round" filter="url(#b1)"/>
<path d="M2062,1062 L1992,1082" fill="none" stroke="#8a6a24" stroke-width="1.6" opacity="0.25" stroke-linejoin="round" filter="url(#b1)"/>
<path d="M1600,1140 L1640,1200 L1620,1230" fill="none" stroke="#f3d992" stroke-width="2.2" opacity="0.45" stroke-linejoin="round" filter="url(#b1)"/>
<path d="M1602,1142 L1642,1202 L1622,1232" fill="none" stroke="#8a6a24" stroke-width="1.6" opacity="0.25" stroke-linejoin="round" filter="url(#b1)"/>
<path d="M1640,1200 L1720,1200 L1750,1250" fill="none" stroke="#f3d992" stroke-width="2.2" opacity="0.45" stroke-linejoin="round" filter="url(#b1)"/>
<path d="M1642,1202 L1722,1202 L1752,1252" fill="none" stroke="#8a6a24" stroke-width="1.6" opacity="0.25" stroke-linejoin="round" filter="url(#b1)"/>
<path d="M1720,1200 L1760,1150" fill="none" stroke="#f3d992" stroke-width="2.2" opacity="0.45" stroke-linejoin="round" filter="url(#b1)"/>
<path d="M1722,1202 L1762,1152" fill="none" stroke="#8a6a24" stroke-width="1.6" opacity="0.25" stroke-linejoin="round" filter="url(#b1)"/>
<path d="M1760,1150 L1830,1150 L1860,1200 L1840,1260" fill="none" stroke="#f3d992" stroke-width="2.2" opacity="0.45" stroke-linejoin="round" filter="url(#b1)"/>
<path d="M1762,1152 L1832,1152 L1862,1202 L1842,1262" fill="none" stroke="#8a6a24" stroke-width="1.6" opacity="0.25" stroke-linejoin="round" filter="url(#b1)"/>
<path d="M1860,1200 L1940,1190 L1970,1230" fill="none" stroke="#f3d992" stroke-width="2.2" opacity="0.45" stroke-linejoin="round" filter="url(#b1)"/>
<path d="M1862,1202 L1942,1192 L1972,1232" fill="none" stroke="#8a6a24" stroke-width="1.6" opacity="0.25" stroke-linejoin="round" filter="url(#b1)"/>
<path d="M1940,1190 L1960,1140" fill="none" stroke="#f3d992" stroke-width="2.2" opacity="0.45" stroke-linejoin="round" filter="url(#b1)"/>
<path d="M1942,1192 L1962,1142" fill="none" stroke="#8a6a24" stroke-width="1.6" opacity="0.25" stroke-linejoin="round" filter="url(#b1)"/>
<path d="M1960,1140 L2020,1130 L2040,1170" fill="none" stroke="#f3d992" stroke-width="2.2" opacity="0.45" stroke-linejoin="round" filter="url(#b1)"/>
<path d="M1962,1142 L2022,1132 L2042,1172" fill="none" stroke="#8a6a24" stroke-width="1.6" opacity="0.25" stroke-linejoin="round" filter="url(#b1)"/>
<path d="M1490,645C1491,622.2 1492.3,616.8 1498,603C1503.7,589.2 1512.5,575.5 1524,562C1535.5,548.5 1552.2,533.3 1567,522C1581.8,510.7 1597,503 1613,494C1629,485 1646.2,474.8 1663,468C1679.8,461.2 1694.8,457 1714,453C1733.2,449 1756.8,444.7 1778,444C1799.2,443.3 1819.8,445.3 1841,449C1862.2,452.7 1885.2,459.3 1905,466C1924.8,472.7 1946.2,482.2 1960,489C1973.8,495.8 1972.5,497.2 1988,507C2003.5,516.8 2031.5,532 2053,548C2074.5,564 2098.3,585.8 2117,603C2135.7,620.2 2151.7,638.7 2165,651C2178.3,663.3 2183.7,671 2197,677C2210.3,683 2226.2,688.7 2245,687C2263.8,685.3 2288.5,674 2310,667C2331.5,660 2356.3,651.2 2374,645C2391.7,638.8 2403.3,634.2 2416,630C2428.7,625.8 2442.7,600 2450,620C2457.3,640 2460,707 2460,750C2460,793 2460,855.7 2450,878C2440,900.3 2416,881 2400,884C2384,887 2370.7,889.7 2354,896C2337.3,902.3 2318.7,914 2300,922C2281.3,930 2258.8,934.8 2242,944C2225.2,953.2 2211,965.5 2199,977C2187,988.5 2180.8,998 2170,1013C2159.2,1028 2146.2,1049 2134,1067C2121.8,1085 2109.2,1104.7 2097,1121C2084.8,1137.3 2076,1149.8 2061,1165C2046,1180.2 2028,1198.2 2007,1212C1986,1225.8 1959,1239 1935,1248C1911,1257 1880.8,1261.8 1863,1266C1845.2,1270.2 1847.2,1272.2 1828,1273C1808.8,1273.8 1774.8,1274.3 1748,1271C1721.2,1267.7 1691.7,1262.2 1667,1253C1642.3,1243.8 1618.7,1230.2 1600,1216C1581.3,1201.8 1566.2,1185 1555,1168C1543.8,1151 1537.3,1130.2 1533,1114C1528.7,1097.8 1532,1093.3 1529,1071C1526,1048.7 1519.8,1015.2 1515,980C1510.2,944.8 1503.8,900 1500,860C1496.2,820 1493.7,775.8 1492,740C1490.3,704.2 1489,667.8 1490,645Z" fill="none" stroke="#f1dc9e" stroke-width="11"/>
<path d="M1494,800C1493.5,786.7 1491.7,745.8 1491,720C1490.3,694.2 1488.8,664.5 1490,645C1491.2,625.5 1492.3,616.8 1498,603C1503.7,589.2 1512.5,575.5 1524,562C1535.5,548.5 1552.2,533.3 1567,522C1581.8,510.7 1597,503 1613,494C1629,485 1646.2,474.8 1663,468C1679.8,461.2 1694.8,457 1714,453C1733.2,449 1756.8,444.7 1778,444C1799.2,443.3 1819.8,445.3 1841,449C1862.2,452.7 1885.2,459.3 1905,466C1924.8,472.7 1946.2,482.2 1960,489C1973.8,495.8 1972.5,497.2 1988,507C2003.5,516.8 2031.5,532 2053,548C2074.5,564 2098.3,585.8 2117,603C2135.7,620.2 2151.7,638.7 2165,651C2178.3,663.3 2183.7,671 2197,677C2210.3,683 2237,685.3 2245,687" fill="none" stroke="#efd693" stroke-width="24"/>
<path d="M1490,645C1491,622.2 1492.3,616.8 1498,603C1503.7,589.2 1512.5,575.5 1524,562C1535.5,548.5 1552.2,533.3 1567,522C1581.8,510.7 1597,503 1613,494C1629,485 1646.2,474.8 1663,468C1679.8,461.2 1694.8,457 1714,453C1733.2,449 1756.8,444.7 1778,444C1799.2,443.3 1819.8,445.3 1841,449C1862.2,452.7 1885.2,459.3 1905,466C1924.8,472.7 1946.2,482.2 1960,489C1973.8,495.8 1972.5,497.2 1988,507C2003.5,516.8 2031.5,532 2053,548C2074.5,564 2098.3,585.8 2117,603C2135.7,620.2 2151.7,638.7 2165,651C2178.3,663.3 2183.7,671 2197,677C2210.3,683 2226.2,688.7 2245,687C2263.8,685.3 2288.5,674 2310,667C2331.5,660 2356.3,651.2 2374,645C2391.7,638.8 2403.3,634.2 2416,630C2428.7,625.8 2442.7,600 2450,620C2457.3,640 2460,707 2460,750C2460,793 2460,855.7 2450,878C2440,900.3 2416,881 2400,884C2384,887 2370.7,889.7 2354,896C2337.3,902.3 2318.7,914 2300,922C2281.3,930 2258.8,934.8 2242,944C2225.2,953.2 2211,965.5 2199,977C2187,988.5 2180.8,998 2170,1013C2159.2,1028 2146.2,1049 2134,1067C2121.8,1085 2109.2,1104.7 2097,1121C2084.8,1137.3 2076,1149.8 2061,1165C2046,1180.2 2028,1198.2 2007,1212C1986,1225.8 1959,1239 1935,1248C1911,1257 1880.8,1261.8 1863,1266C1845.2,1270.2 1847.2,1272.2 1828,1273C1808.8,1273.8 1774.8,1274.3 1748,1271C1721.2,1267.7 1691.7,1262.2 1667,1253C1642.3,1243.8 1618.7,1230.2 1600,1216C1581.3,1201.8 1566.2,1185 1555,1168C1543.8,1151 1537.3,1130.2 1533,1114C1528.7,1097.8 1532,1093.3 1529,1071C1526,1048.7 1519.8,1015.2 1515,980C1510.2,944.8 1503.8,900 1500,860C1496.2,820 1493.7,775.8 1492,740C1490.3,704.2 1489,667.8 1490,645Z" fill="none" stroke="#d2ab62" stroke-width="3" opacity="0.9"/>
</g>
<path d="M2212,700 L2245,700 L2310,680 L2374,658 L2455,630 L2455,870 L2400,880 L2354,890 L2300,915 L2245,938 L2215,960 Z" fill="url(#ptg)" filter="url(#b2)"/>
<g fill="#c99a3e" opacity="0.55"><circle cx="2260.9" cy="820.7" r="1.2"/><circle cx="2346.9" cy="835.8" r="1"/><circle cx="2208.1" cy="874.9" r="1.1"/><circle cx="2260.1" cy="904.2" r="1.3"/><circle cx="2401.6" cy="808.1" r="1.5"/><circle cx="2240.4" cy="837.4" r="1.7"/><circle cx="2327.9" cy="857.1" r="1.5"/><circle cx="2220" cy="860.3" r="1.4"/><circle cx="2275.8" cy="725.7" r="1.7"/><circle cx="2316.1" cy="853" r="1.7"/><circle cx="2297.8" cy="868.2" r="1.3"/><circle cx="2227.9" cy="745.2" r="1.1"/><circle cx="2431.9" cy="800.7" r="1.5"/><circle cx="2275.7" cy="813.8" r="1.2"/><circle cx="2287.5" cy="828.2" r="1.4"/><circle cx="2417.5" cy="846.2" r="1.7"/><circle cx="2362.7" cy="750.2" r="1.7"/><circle cx="2338.7" cy="852.1" r="1.1"/><circle cx="2400.4" cy="826.1" r="1.2"/><circle cx="2219.9" cy="878" r="1.8"/><circle cx="2225.8" cy="868.1" r="1.3"/><circle cx="2240.4" cy="774.4" r="1.6"/><circle cx="2410.1" cy="728.2" r="1.5"/><circle cx="2215.6" cy="852.9" r="1.2"/><circle cx="2277.8" cy="734.2" r="1.4"/><circle cx="2212.4" cy="756.5" r="1.3"/><circle cx="2348.5" cy="748.9" r="0.9"/><circle cx="2408.9" cy="778.1" r="1.8"/><circle cx="2415.7" cy="789.9" r="1.3"/><circle cx="2327.2" cy="839.1" r="1.4"/><circle cx="2336.4" cy="834.7" r="1.7"/><circle cx="2324.2" cy="799.8" r="1.5"/><circle cx="2260.8" cy="775.7" r="1.8"/><circle cx="2327.5" cy="821.5" r="0.9"/><circle cx="2302.6" cy="827.3" r="0.9"/><circle cx="2349.7" cy="837" r="1"/><circle cx="2352.4" cy="806.3" r="1.5"/><circle cx="2287.9" cy="850.8" r="1.6"/><circle cx="2264" cy="804.4" r="1.4"/><circle cx="2280.2" cy="787.3" r="1.2"/><circle cx="2291.8" cy="830.2" r="1.2"/><circle cx="2293.6" cy="862.9" r="0.9"/><circle cx="2338.8" cy="856" r="1.2"/><circle cx="2257.3" cy="868.7" r="1.1"/><circle cx="2249" cy="800.5" r="1.5"/><circle cx="2228.9" cy="779.6" r="1.2"/><circle cx="2400.9" cy="801.1" r="1.7"/><circle cx="2244.8" cy="782.3" r="1.5"/><circle cx="2413" cy="803.5" r="1.1"/><circle cx="2233.4" cy="818" r="1.1"/><circle cx="2248.1" cy="771.5" r="1.6"/><circle cx="2355.9" cy="869.2" r="1.2"/><circle cx="2235.5" cy="774" r="1.6"/><circle cx="2268.7" cy="784.1" r="1.3"/><circle cx="2303.6" cy="795.8" r="1.7"/><circle cx="2436.9" cy="800.4" r="1.8"/><circle cx="2422.9" cy="761.1" r="1.6"/><circle cx="2401.6" cy="842.7" r="1.4"/><circle cx="2272.9" cy="783.1" r="1.1"/><circle cx="2221" cy="828.9" r="1.2"/><circle cx="2395.4" cy="728.3" r="1.7"/><circle cx="2340.6" cy="722.4" r="1.6"/><circle cx="2245.4" cy="775.5" r="1.5"/><circle cx="2328.4" cy="796.5" r="1.7"/><circle cx="2348.9" cy="783.2" r="1.1"/><circle cx="2407.5" cy="808.3" r="1.6"/><circle cx="2287.7" cy="756.5" r="1.4"/><circle cx="2397" cy="751.7" r="1.6"/><circle cx="2398.5" cy="721.4" r="1.5"/><circle cx="2407.7" cy="729.2" r="1.1"/><circle cx="2268.1" cy="817.5" r="1.3"/><circle cx="2316.1" cy="863.7" r="0.9"/><circle cx="2217.9" cy="743.5" r="1"/><circle cx="2221.1" cy="900.3" r="1.7"/><circle cx="2225.2" cy="812.9" r="1.2"/><circle cx="2278.9" cy="785" r="1.5"/><circle cx="2342.9" cy="786.8" r="1.1"/><circle cx="2282.3" cy="742.9" r="1.4"/><circle cx="2373.3" cy="790.3" r="1"/><circle cx="2247" cy="789.1" r="1.4"/><circle cx="2388.9" cy="790.3" r="1.6"/><circle cx="2351.4" cy="799.8" r="1.2"/><circle cx="2321.6" cy="850" r="1.3"/><circle cx="2368.1" cy="805.3" r="1.1"/><circle cx="2330.9" cy="848.6" r="1"/><circle cx="2304.8" cy="798.8" r="1.7"/><circle cx="2425.1" cy="789.2" r="1.7"/><circle cx="2390.9" cy="768.5" r="1.3"/><circle cx="2233.9" cy="870.4" r="1.5"/><circle cx="2361.9" cy="855.7" r="1.4"/><circle cx="2229.2" cy="828.7" r="0.9"/><circle cx="2238.7" cy="863.2" r="0.9"/><circle cx="2226.6" cy="738.4" r="1.7"/><circle cx="2247.1" cy="724.3" r="1.7"/><circle cx="2233.5" cy="876.1" r="1.5"/><circle cx="2341.1" cy="867.8" r="0.9"/><circle cx="2385.3" cy="814.6" r="1.5"/><circle cx="2230.1" cy="858.6" r="1.7"/><circle cx="2219.4" cy="780" r="1.4"/><circle cx="2399.6" cy="764.8" r="1.1"/><circle cx="2263.7" cy="834" r="1.6"/><circle cx="2297.5" cy="788" r="1.3"/><circle cx="2287.3" cy="797.4" r="1"/><circle cx="2302" cy="858.3" r="1"/><circle cx="2367.3" cy="859.9" r="1.5"/><circle cx="2326.5" cy="809.5" r="1.5"/><circle cx="2415.9" cy="747.6" r="1"/><circle cx="2326.6" cy="802" r="1.5"/><circle cx="2248.7" cy="769.5" r="1.1"/><circle cx="2342.6" cy="778.2" r="1.1"/><circle cx="2274.5" cy="850.5" r="1.3"/><circle cx="2405.6" cy="828.2" r="1.1"/><circle cx="2256.1" cy="724.3" r="1.3"/><circle cx="2294.9" cy="751.9" r="1.2"/><circle cx="2280.7" cy="863.2" r="1"/><circle cx="2437.9" cy="808.7" r="1.4"/><circle cx="2315" cy="874.4" r="1.6"/><circle cx="2335.9" cy="809" r="1.5"/><circle cx="2406.3" cy="794" r="1.6"/><circle cx="2430.7" cy="806.5" r="1.1"/><circle cx="2260.2" cy="852.8" r="1.5"/><circle cx="2261.9" cy="755.1" r="1.1"/><circle cx="2249" cy="850.4" r="1.7"/><circle cx="2416.4" cy="767.2" r="1.7"/><circle cx="2278.7" cy="798.3" r="1.6"/><circle cx="2225.2" cy="737.1" r="1.7"/><circle cx="2273.6" cy="786" r="1.4"/><circle cx="2363.7" cy="721.3" r="1.2"/><circle cx="2307.5" cy="809.9" r="1.1"/><circle cx="2296.9" cy="820.7" r="1"/><circle cx="2269.6" cy="843.1" r="1"/><circle cx="2227.8" cy="894.1" r="1.2"/><circle cx="2386.5" cy="860.1" r="1.2"/><circle cx="2363.8" cy="841" r="1.6"/><circle cx="2267.4" cy="859.5" r="1.8"/><circle cx="2363.1" cy="819.2" r="1"/><circle cx="2321.1" cy="785.1" r="1.5"/><circle cx="2364.5" cy="824.8" r="1.1"/><circle cx="2356.7" cy="836.7" r="1.1"/><circle cx="2414.1" cy="841.2" r="1"/><circle cx="2424" cy="746.2" r="1.2"/><circle cx="2374.3" cy="830.5" r="1.4"/><circle cx="2357.2" cy="804.7" r="1.2"/><circle cx="2246.4" cy="732.7" r="1.5"/><circle cx="2382.3" cy="820.5" r="1.6"/><circle cx="2289.4" cy="769.2" r="1.2"/><circle cx="2410" cy="727.8" r="1.4"/><circle cx="2263.1" cy="862.2" r="1.2"/><circle cx="2283.2" cy="794.6" r="1.4"/><circle cx="2386.4" cy="785.3" r="1.7"/><circle cx="2231.4" cy="770" r="1"/><circle cx="2231.5" cy="864.1" r="1.6"/><circle cx="2248.4" cy="755" r="1.3"/><circle cx="2379.7" cy="870.9" r="1.6"/><circle cx="2344.1" cy="747.1" r="1.3"/><circle cx="2250.5" cy="817.6" r="1.4"/><circle cx="2252.5" cy="766.3" r="1.6"/><circle cx="2212.1" cy="868.6" r="1.7"/><circle cx="2428.1" cy="790.9" r="1.4"/><circle cx="2342" cy="837.2" r="1.8"/><circle cx="2366.4" cy="775.4" r="1.7"/><circle cx="2318.8" cy="831.3" r="1.6"/><circle cx="2205.6" cy="862.5" r="1.5"/><circle cx="2320.6" cy="816.9" r="1.3"/><circle cx="2250.5" cy="818" r="0.9"/><circle cx="2322.6" cy="839.5" r="1.3"/><circle cx="2414.6" cy="745.1" r="1.6"/><circle cx="2351.5" cy="729.4" r="1.2"/><circle cx="2259.9" cy="734.4" r="1.4"/><circle cx="2423.5" cy="779.8" r="1.7"/><circle cx="2368.2" cy="744.9" r="1.7"/><circle cx="2373.2" cy="856.8" r="1.2"/><circle cx="2407.4" cy="800.8" r="1.6"/><circle cx="2319" cy="740.2" r="0.9"/><circle cx="2223.3" cy="757.1" r="1"/><circle cx="2321.8" cy="849.4" r="1.4"/><circle cx="2304.2" cy="840.1" r="1.2"/><circle cx="2314.1" cy="860.1" r="1.3"/><circle cx="2247.4" cy="886.4" r="1.5"/><circle cx="2291.2" cy="788.6" r="1.4"/><circle cx="2345.2" cy="761.4" r="0.9"/><circle cx="2254.1" cy="864.9" r="1"/><circle cx="2313.1" cy="756.1" r="1.1"/><circle cx="2245.1" cy="794.7" r="1.1"/><circle cx="2211.5" cy="740.4" r="1.1"/><circle cx="2320.2" cy="731" r="0.9"/><circle cx="2310.3" cy="795.4" r="1.5"/><circle cx="2217" cy="794.6" r="1.3"/><circle cx="2211.3" cy="898.6" r="1.1"/><circle cx="2227.2" cy="807.8" r="1"/><circle cx="2351.3" cy="784.1" r="1"/><circle cx="2217.2" cy="854.6" r="1.1"/><circle cx="2390.1" cy="806.1" r="1.7"/><circle cx="2275.6" cy="766.2" r="1.1"/><circle cx="2396.4" cy="836.4" r="1.2"/><circle cx="2227" cy="846.2" r="1.8"/><circle cx="2344.2" cy="720.7" r="0.9"/><circle cx="2226.3" cy="751.5" r="0.9"/><circle cx="2217.7" cy="841" r="1.7"/><circle cx="2252.2" cy="900.2" r="1.3"/><circle cx="2425.9" cy="726.3" r="1.2"/><circle cx="2225.6" cy="774.3" r="1.7"/><circle cx="2231.9" cy="792.1" r="1.2"/><circle cx="2246" cy="856.9" r="1.6"/><circle cx="2401.4" cy="822.4" r="1.7"/><circle cx="2290.3" cy="796.7" r="1.1"/><circle cx="2388.2" cy="808.9" r="1.1"/><circle cx="2244.9" cy="853.3" r="1.4"/><circle cx="2372" cy="791.6" r="1.3"/><circle cx="2241.2" cy="851.5" r="0.9"/><circle cx="2314.7" cy="860.3" r="1.5"/><circle cx="2227.8" cy="763.9" r="1.7"/><circle cx="2410" cy="803.2" r="1.7"/><circle cx="2377.2" cy="781.7" r="1.2"/><circle cx="2221.9" cy="793.9" r="1.8"/><circle cx="2229.7" cy="825.2" r="1"/><circle cx="2224" cy="840.1" r="1.1"/><circle cx="2216.5" cy="748.2" r="1.5"/><circle cx="2342.6" cy="722.2" r="1.1"/><circle cx="2432.3" cy="760.7" r="1.4"/><circle cx="2303.6" cy="864.5" r="1.4"/><circle cx="2390.3" cy="819" r="1.1"/><circle cx="2246.7" cy="734.6" r="1.6"/><circle cx="2432.1" cy="756.9" r="1.7"/><circle cx="2225.2" cy="806.1" r="1.1"/><circle cx="2399.9" cy="833.9" r="1.5"/><circle cx="2286.3" cy="831.6" r="1.3"/><circle cx="2231.1" cy="874.5" r="1.4"/><circle cx="2396.5" cy="758.1" r="1.4"/><circle cx="2314.1" cy="854.7" r="1"/><circle cx="2286.3" cy="809.6" r="1"/><circle cx="2334.9" cy="856" r="1.3"/><circle cx="2357.4" cy="832.1" r="1.1"/><circle cx="2283.8" cy="799.7" r="1"/><circle cx="2256.2" cy="750.6" r="1.7"/><circle cx="2436.8" cy="833.2" r="1.7"/><circle cx="2330.9" cy="797.5" r="1.8"/><circle cx="2318.8" cy="863.1" r="1.3"/><circle cx="2273.6" cy="892.8" r="1.1"/><circle cx="2227.5" cy="853.6" r="1.2"/><circle cx="2327.1" cy="838.3" r="0.9"/><circle cx="2380.1" cy="771.1" r="1.3"/><circle cx="2286" cy="857.3" r="1.6"/><circle cx="2272.5" cy="739.1" r="1.2"/><circle cx="2301.6" cy="734.3" r="1"/><circle cx="2384.2" cy="849.6" r="1.8"/><circle cx="2292.6" cy="749.8" r="1.2"/><circle cx="2313.8" cy="817.3" r="1.4"/><circle cx="2289.5" cy="877.7" r="1.2"/><circle cx="2313.8" cy="884.1" r="1.6"/><circle cx="2274.9" cy="764.9" r="1.6"/><circle cx="2207.4" cy="744.3" r="1.4"/><circle cx="2330.9" cy="750.7" r="0.9"/><circle cx="2252.9" cy="862.4" r="1.3"/><circle cx="2435.1" cy="726.5" r="1.1"/><circle cx="2208.1" cy="800" r="1.2"/><circle cx="2217" cy="821" r="1"/><circle cx="2278.2" cy="765.7" r="1.6"/><circle cx="2303.3" cy="768.2" r="0.9"/><circle cx="2305.9" cy="836.1" r="1.5"/><circle cx="2263.1" cy="745.1" r="1.6"/><circle cx="2390.5" cy="814.1" r="1.6"/><circle cx="2334.7" cy="771.7" r="1.1"/><circle cx="2209" cy="839" r="1.7"/><circle cx="2417.9" cy="806.5" r="1.5"/><circle cx="2346.6" cy="796.7" r="1.4"/><circle cx="2245.1" cy="753.8" r="1.5"/><circle cx="2438.1" cy="821.2" r="1.3"/><circle cx="2287.7" cy="804.2" r="1.6"/><circle cx="2241.5" cy="778.3" r="1.4"/><circle cx="2301.8" cy="877.4" r="1.6"/><circle cx="2423.9" cy="833.3" r="0.9"/><circle cx="2340" cy="821.7" r="1.3"/><circle cx="2270.8" cy="851.2" r="1.7"/><circle cx="2229.1" cy="843.7" r="1.2"/><circle cx="2326" cy="885.7" r="1.8"/><circle cx="2356.2" cy="756.1" r="1.7"/><circle cx="2247.6" cy="790.9" r="1.6"/><circle cx="2279.3" cy="770.1" r="1.8"/><circle cx="2426.8" cy="778.7" r="1.3"/><circle cx="2271.3" cy="744.3" r="1.1"/><circle cx="2435.3" cy="734.7" r="1.1"/><circle cx="2252" cy="734.7" r="1.4"/><circle cx="2353.3" cy="871.3" r="0.9"/><circle cx="2271.3" cy="897.8" r="1"/><circle cx="2267.9" cy="809.3" r="1.1"/><circle cx="2333.3" cy="728.7" r="1.1"/><circle cx="2430" cy="746.7" r="1.7"/><circle cx="2246.8" cy="903.7" r="1.5"/><circle cx="2357" cy="746.3" r="0.9"/><circle cx="2383.5" cy="752.6" r="1.1"/><circle cx="2216.5" cy="897.7" r="1.4"/><circle cx="2294.9" cy="739.8" r="1.3"/><circle cx="2437.1" cy="771.9" r="1"/><circle cx="2239.1" cy="743.5" r="1.2"/><circle cx="2420" cy="734.2" r="1.1"/><circle cx="2435.3" cy="765.5" r="1.2"/><circle cx="2428.4" cy="809.7" r="1.5"/><circle cx="2278.6" cy="723.9" r="1.2"/><circle cx="2380.8" cy="864.7" r="1.4"/><circle cx="2314.1" cy="819.6" r="1.3"/><circle cx="2330.6" cy="874.1" r="1.1"/><circle cx="2404.4" cy="753.2" r="1.8"/><circle cx="2402.4" cy="751.1" r="1.1"/><circle cx="2252.6" cy="729.8" r="1.8"/><circle cx="2301.2" cy="881.4" r="1"/><circle cx="2208.3" cy="880.9" r="1.6"/><circle cx="2438" cy="846.8" r="1.4"/><circle cx="2385" cy="737.1" r="1.4"/><circle cx="2308.7" cy="747.1" r="1.4"/><circle cx="2280.9" cy="813.7" r="1.2"/><circle cx="2279.8" cy="786.3" r="1.4"/><circle cx="2272.4" cy="900.7" r="1.1"/><circle cx="2233.9" cy="812.6" r="1.6"/><circle cx="2285.1" cy="839.4" r="1.2"/><circle cx="2432.2" cy="803.8" r="1.3"/><circle cx="2329.9" cy="881.9" r="1.8"/><circle cx="2329.2" cy="801.7" r="1.5"/><circle cx="2221.3" cy="798.7" r="1.7"/><circle cx="2387.7" cy="731" r="1.7"/><circle cx="2291.2" cy="759.7" r="1.4"/><circle cx="2412.7" cy="799.8" r="1.7"/><circle cx="2372.2" cy="786.9" r="1.2"/><circle cx="2323.8" cy="793.8" r="1.2"/><circle cx="2342.3" cy="747" r="1.1"/><circle cx="2292.2" cy="833.7" r="1"/><circle cx="2224.2" cy="779.3" r="1.2"/><circle cx="2211.9" cy="819.7" r="1.7"/><circle cx="2330.6" cy="856.4" r="1.6"/><circle cx="2308.7" cy="846.3" r="1"/><circle cx="2411.8" cy="790" r="1.3"/><circle cx="2414.2" cy="773.1" r="1.1"/><circle cx="2398.5" cy="830.8" r="1"/><circle cx="2211.6" cy="785" r="0.9"/><circle cx="2400.6" cy="754" r="1.1"/><circle cx="2296.4" cy="814.7" r="1.3"/><circle cx="2352.7" cy="842.1" r="1.3"/><circle cx="2227.8" cy="901.1" r="1.5"/><circle cx="2224.6" cy="801.7" r="1.6"/><circle cx="2438.1" cy="732.2" r="0.9"/><circle cx="2317.8" cy="798.1" r="1.7"/><circle cx="2399.2" cy="781.3" r="1.3"/><circle cx="2342" cy="883.6" r="1.1"/><circle cx="2297.1" cy="736.4" r="1.5"/><circle cx="2211.2" cy="893" r="1.4"/><circle cx="2339.9" cy="735.8" r="1.1"/><circle cx="2315.2" cy="878.6" r="1.4"/><circle cx="2271.9" cy="901.7" r="1.5"/><circle cx="2329.2" cy="757.4" r="1.2"/><circle cx="2416.5" cy="744.6" r="1.4"/><circle cx="2350.7" cy="785.6" r="1.6"/><circle cx="2378.4" cy="757.7" r="1"/><circle cx="2306.7" cy="777.7" r="1.1"/><circle cx="2409.8" cy="760" r="1.6"/><circle cx="2425.3" cy="742.2" r="1.7"/><circle cx="2298.3" cy="759.2" r="1.1"/><circle cx="2213.9" cy="812.3" r="1.2"/><circle cx="2218.4" cy="794.2" r="1.3"/><circle cx="2246.7" cy="766.4" r="1.1"/><circle cx="2368.1" cy="782.9" r="1"/><circle cx="2256.8" cy="801.8" r="1.4"/><circle cx="2262.7" cy="849.4" r="1.1"/><circle cx="2362.6" cy="832.7" r="1.1"/><circle cx="2381.5" cy="792.9" r="1.4"/><circle cx="2345.5" cy="836.2" r="1.3"/><circle cx="2218.2" cy="865.5" r="1.7"/><circle cx="2320.2" cy="827.1" r="1.1"/><circle cx="2416.2" cy="846.8" r="1.1"/><circle cx="2318.5" cy="753.1" r="1.5"/><circle cx="2284.6" cy="855.5" r="1.4"/><circle cx="2230.3" cy="817.7" r="1.7"/><circle cx="2317.3" cy="819.8" r="1.7"/><circle cx="2310" cy="811.1" r="1.4"/><circle cx="2398.6" cy="757.6" r="1"/><circle cx="2383.9" cy="822.2" r="1.2"/><circle cx="2401.5" cy="858.4" r="1.2"/><circle cx="2207.5" cy="845.5" r="1.6"/><circle cx="2287.4" cy="808.6" r="1.4"/><circle cx="2263.7" cy="849.1" r="1.4"/><circle cx="2295.6" cy="740.3" r="1.4"/><circle cx="2280.1" cy="854.1" r="1.1"/><circle cx="2297.7" cy="756.3" r="1.3"/><circle cx="2340.4" cy="739.8" r="0.9"/><circle cx="2318.3" cy="757.3" r="1.4"/><circle cx="2244.3" cy="738.6" r="1.4"/><circle cx="2326.1" cy="793.5" r="1"/><circle cx="2269.9" cy="778.1" r="1.7"/><circle cx="2232.5" cy="895.4" r="1.3"/><circle cx="2307" cy="768.5" r="1.8"/><circle cx="2248.7" cy="825.7" r="1.4"/><circle cx="2251.9" cy="761.2" r="1.8"/><circle cx="2390.8" cy="855.7" r="1.7"/><circle cx="2228.2" cy="850.2" r="1.6"/><circle cx="2258" cy="804.6" r="1.8"/><circle cx="2281.8" cy="861" r="1"/><circle cx="2361.8" cy="769.8" r="1.4"/><circle cx="2292.5" cy="881" r="1.6"/><circle cx="2323.5" cy="847.1" r="1.3"/><circle cx="2394" cy="767.6" r="1.4"/><circle cx="2342.6" cy="791.8" r="0.9"/><circle cx="2244.9" cy="838.5" r="1.1"/><circle cx="2383.2" cy="813.4" r="1.8"/><circle cx="2404.2" cy="854.6" r="1.2"/><circle cx="2215.2" cy="823" r="1.6"/><circle cx="2421.5" cy="757.5" r="1"/><circle cx="2318.9" cy="856.6" r="1"/><circle cx="2332.9" cy="843.7" r="1.4"/><circle cx="2242.9" cy="745.3" r="1.5"/><circle cx="2412.8" cy="745.6" r="0.9"/><circle cx="2224.5" cy="865.3" r="1.3"/><circle cx="2348.6" cy="768.7" r="1.5"/><circle cx="2205.5" cy="772.1" r="1.5"/><circle cx="2245.1" cy="726" r="1.4"/><circle cx="2282" cy="899.7" r="1"/><circle cx="2393.5" cy="791.9" r="1.6"/><circle cx="2309.6" cy="843.5" r="1.2"/><circle cx="2257.8" cy="803.7" r="1.6"/><circle cx="2286.1" cy="762.5" r="1.3"/><circle cx="2227.5" cy="778.4" r="1.4"/><circle cx="2333.2" cy="830.5" r="1.2"/><circle cx="2284.7" cy="756.3" r="1.4"/><circle cx="2267.4" cy="861" r="1.4"/><circle cx="2360.6" cy="856.1" r="1.4"/><circle cx="2305.2" cy="777.1" r="1"/><circle cx="2391.7" cy="812.5" r="1"/><circle cx="2422.8" cy="827.7" r="1.5"/><circle cx="2308.1" cy="743.3" r="1.8"/><circle cx="2244.5" cy="787.8" r="1.8"/><circle cx="2233.7" cy="812.4" r="1.3"/><circle cx="2263.2" cy="891.1" r="1.3"/><circle cx="2207.7" cy="807.6" r="0.9"/><circle cx="2417.8" cy="728.9" r="1.5"/><circle cx="2276.6" cy="807.4" r="1.2"/><circle cx="2276.7" cy="744.6" r="1.5"/><circle cx="2225.8" cy="898.4" r="0.9"/><circle cx="2431.6" cy="755.4" r="1"/><circle cx="2380" cy="818.2" r="1.6"/><circle cx="2324.5" cy="836.7" r="1"/><circle cx="2363.4" cy="814.8" r="1.8"/><circle cx="2304.1" cy="851.5" r="1.4"/><circle cx="2296.9" cy="806.1" r="1.4"/><circle cx="2211.8" cy="776.5" r="1.6"/><circle cx="2265.7" cy="807.5" r="1.1"/><circle cx="2289" cy="840.4" r="1.6"/><circle cx="2429.9" cy="808.2" r="1.1"/><circle cx="2284.2" cy="730.8" r="1.1"/><circle cx="2342.4" cy="833.1" r="1.1"/><circle cx="2247.7" cy="738.1" r="1.1"/><circle cx="2322.8" cy="767.2" r="1.7"/><circle cx="2337.7" cy="782.9" r="1.3"/><circle cx="2214.4" cy="855.6" r="1.6"/><circle cx="2290.5" cy="854.2" r="1.1"/><circle cx="2256.6" cy="762.2" r="1.1"/><circle cx="2347.4" cy="838.8" r="1.6"/><circle cx="2229.4" cy="861.8" r="1.3"/><circle cx="2293.9" cy="813.1" r="1.3"/><circle cx="2252" cy="793.1" r="1.5"/><circle cx="2250.7" cy="884.8" r="1.6"/><circle cx="2237.4" cy="863.7" r="1.7"/><circle cx="2233.7" cy="830" r="1.8"/><circle cx="2273.9" cy="878.2" r="1.7"/><circle cx="2307.2" cy="746.9" r="1.1"/><circle cx="2400" cy="798.1" r="1.2"/><circle cx="2309.1" cy="891.7" r="1.1"/><circle cx="2209.3" cy="895.6" r="1.2"/><circle cx="2271.2" cy="735.9" r="1.7"/><circle cx="2262.3" cy="761" r="1.7"/><circle cx="2258.9" cy="886.7" r="1.2"/><circle cx="2276.3" cy="759.9" r="1.4"/><circle cx="2336.6" cy="793.7" r="1.4"/><circle cx="2275.1" cy="875" r="1.7"/><circle cx="2382" cy="871.7" r="1"/><circle cx="2263.8" cy="757.7" r="1"/><circle cx="2419.8" cy="823.2" r="1"/><circle cx="2305.4" cy="730.4" r="1.7"/><circle cx="2267.4" cy="773.3" r="1.8"/><circle cx="2252.1" cy="890.7" r="1.2"/><circle cx="2361.2" cy="739.7" r="1.7"/><circle cx="2298.7" cy="783.8" r="1.5"/><circle cx="2344.4" cy="766.4" r="1"/><circle cx="2340.2" cy="724.6" r="1.7"/><circle cx="2285.8" cy="751.4" r="1.2"/><circle cx="2231.7" cy="778.6" r="1.4"/><circle cx="2300.6" cy="781.8" r="1.2"/><circle cx="2319.3" cy="864.1" r="1.3"/><circle cx="2385.5" cy="809.3" r="1"/><circle cx="2245" cy="876.8" r="1.3"/><circle cx="2294.9" cy="815.4" r="1.7"/><circle cx="2293.2" cy="786.9" r="1.2"/><circle cx="2207.5" cy="820.8" r="1.3"/><circle cx="2321.5" cy="803.5" r="1.3"/><circle cx="2373.1" cy="754.4" r="1.8"/><circle cx="2231.9" cy="880.3" r="1.1"/><circle cx="2391.9" cy="768.2" r="1"/><circle cx="2332.1" cy="875.2" r="1.7"/><circle cx="2217.5" cy="790.1" r="1"/><circle cx="2382.5" cy="803.5" r="1.6"/><circle cx="2333.9" cy="734.9" r="1.7"/><circle cx="2226.4" cy="735.9" r="1.6"/><circle cx="2270.9" cy="842.5" r="0.9"/><circle cx="2254.5" cy="852.4" r="0.9"/><circle cx="2255.4" cy="850.4" r="1.6"/><circle cx="2350.7" cy="861.8" r="1.5"/><circle cx="2208.4" cy="755.5" r="1.4"/><circle cx="2432.9" cy="760.1" r="1.4"/><circle cx="2235.2" cy="876.7" r="1.3"/><circle cx="2327.7" cy="843.8" r="1"/><circle cx="2376.3" cy="868" r="1.7"/><circle cx="2271.1" cy="763.3" r="1"/><circle cx="2416.4" cy="801" r="1.3"/><circle cx="2327.3" cy="849.2" r="1.2"/><circle cx="2284" cy="861.8" r="1.6"/><circle cx="2274.6" cy="733.6" r="1.7"/><circle cx="2376.5" cy="829.9" r="1.3"/><circle cx="2430.3" cy="799.7" r="1.1"/><circle cx="2228.6" cy="784.9" r="1.4"/><circle cx="2290.7" cy="895.2" r="1.5"/><circle cx="2312.7" cy="842.2" r="1.4"/><circle cx="2350.1" cy="811.6" r="1.4"/><circle cx="2320.4" cy="873.8" r="1.1"/><circle cx="2389.6" cy="775.2" r="1.7"/><circle cx="2222.1" cy="809.7" r="1.3"/><circle cx="2372.2" cy="757.4" r="1.1"/><circle cx="2236.2" cy="823.9" r="1.4"/><circle cx="2205.1" cy="752.9" r="1.1"/><circle cx="2429.9" cy="804.2" r="1.4"/><circle cx="2273.1" cy="842" r="1.6"/><circle cx="2362.7" cy="720.3" r="1.3"/><circle cx="2319.9" cy="728.2" r="1.6"/><circle cx="2279.9" cy="774.3" r="1.5"/><circle cx="2342.4" cy="811.8" r="1.7"/><circle cx="2326.9" cy="783.5" r="1"/><circle cx="2334.9" cy="787.2" r="1.4"/><circle cx="2286.6" cy="721.3" r="0.9"/><circle cx="2242.1" cy="737.4" r="1.7"/><circle cx="2341.5" cy="764.1" r="1.5"/><circle cx="2354.1" cy="731.5" r="1.6"/><circle cx="2258.8" cy="904.5" r="1"/><circle cx="2272.2" cy="766.1" r="1.7"/><circle cx="2397.4" cy="827.2" r="1"/><circle cx="2305.7" cy="849.9" r="1"/><circle cx="2423.9" cy="849.2" r="1.5"/><circle cx="2434.1" cy="769.4" r="1.2"/><circle cx="2233.9" cy="753.4" r="1.6"/><circle cx="2227.4" cy="857.7" r="1.3"/><circle cx="2411.2" cy="860.5" r="1.5"/><circle cx="2403.6" cy="727.9" r="1.1"/><circle cx="2291.6" cy="799.4" r="1.5"/><circle cx="2411.6" cy="856.9" r="1.7"/><circle cx="2368.6" cy="785.9" r="1.4"/><circle cx="2380.9" cy="870.8" r="1.2"/><circle cx="2288.5" cy="833.7" r="1.1"/><circle cx="2412.5" cy="720" r="1.5"/><circle cx="2319.1" cy="756.1" r="1.4"/><circle cx="2412.9" cy="828.5" r="1.7"/><circle cx="2412.7" cy="750.6" r="1.6"/><circle cx="2383.5" cy="792.5" r="1.1"/><circle cx="2358.4" cy="759" r="1.6"/><circle cx="2340" cy="872.8" r="1.2"/><circle cx="2276.2" cy="887.3" r="1.5"/><circle cx="2293.9" cy="823.7" r="1.3"/><circle cx="2356.1" cy="815.6" r="1.2"/><circle cx="2383.3" cy="771.5" r="1.1"/><circle cx="2376.8" cy="872.1" r="1.5"/><circle cx="2255.2" cy="853.3" r="1.4"/><circle cx="2292.7" cy="829" r="1.3"/><circle cx="2357.5" cy="859.1" r="1.8"/><circle cx="2231.1" cy="825.7" r="1.8"/><circle cx="2359.4" cy="827.2" r="1.7"/><circle cx="2212.4" cy="866.6" r="1.5"/><circle cx="2342.3" cy="777.5" r="1.5"/><circle cx="2234.5" cy="817.2" r="1.1"/><circle cx="2316.1" cy="859.7" r="1.2"/><circle cx="2328" cy="749.9" r="1.7"/><circle cx="2384.6" cy="860.6" r="1"/><circle cx="2397.6" cy="722.2" r="1.4"/><circle cx="2319.6" cy="731" r="1.3"/><circle cx="2413.5" cy="835.5" r="1.2"/><circle cx="2396.4" cy="785.8" r="1.7"/><circle cx="2299.2" cy="734.4" r="1.8"/><circle cx="2221.7" cy="766.8" r="1.6"/><circle cx="2232.1" cy="820.7" r="1.7"/><circle cx="2343.6" cy="784.4" r="1.6"/><circle cx="2399" cy="827.2" r="1.5"/><circle cx="2280.8" cy="795.4" r="1.8"/><circle cx="2433.4" cy="720.3" r="1.1"/><circle cx="2257.9" cy="866.7" r="1.1"/><circle cx="2244.8" cy="861.7" r="1.1"/><circle cx="2434.7" cy="804.2" r="1.7"/><circle cx="2397.6" cy="758.3" r="1.6"/><circle cx="2302.5" cy="761.1" r="0.9"/><circle cx="2370.3" cy="823.8" r="1.2"/><circle cx="2400.7" cy="756.5" r="1.3"/><circle cx="2225.5" cy="784.8" r="1.7"/><circle cx="2322.5" cy="748.4" r="1.1"/><circle cx="2356.4" cy="771.4" r="1.7"/><circle cx="2219.2" cy="880.7" r="1.5"/><circle cx="2398.2" cy="785.5" r="1"/><circle cx="2245.5" cy="836" r="0.9"/><circle cx="2230.9" cy="864.7" r="1.7"/><circle cx="2335.4" cy="881.9" r="1.5"/><circle cx="2336" cy="798.8" r="0.9"/><circle cx="2226.1" cy="766.2" r="1.3"/><circle cx="2233.4" cy="899.5" r="1.4"/><circle cx="2258.2" cy="883.9" r="1.8"/><circle cx="2267.9" cy="743.2" r="1.6"/><circle cx="2301" cy="831.4" r="1"/><circle cx="2260.1" cy="797.5" r="1.6"/><circle cx="2225.9" cy="891.7" r="0.9"/><circle cx="2432.9" cy="763.8" r="1.6"/><circle cx="2315.5" cy="849.3" r="1.2"/><circle cx="2400.7" cy="740.1" r="1.7"/><circle cx="2344.2" cy="731.5" r="1.7"/><circle cx="2279.3" cy="732.6" r="1.1"/><circle cx="2211.4" cy="772" r="1.5"/><circle cx="2437.3" cy="836.8" r="1.7"/><circle cx="2398.2" cy="852.2" r="1.2"/><circle cx="2264.2" cy="748.9" r="1.4"/><circle cx="2253" cy="856.9" r="1.2"/><circle cx="2341.1" cy="821.1" r="1.5"/><circle cx="2241.5" cy="767.4" r="1.5"/><circle cx="2255.1" cy="844.2" r="1.8"/><circle cx="2328.7" cy="859.3" r="1.5"/><circle cx="2250.9" cy="815.8" r="1.4"/><circle cx="2314" cy="842.1" r="1.7"/><circle cx="2238.7" cy="850.1" r="1.5"/><circle cx="2425.5" cy="720.5" r="1.1"/><circle cx="2434.3" cy="788.9" r="1.5"/><circle cx="2344.1" cy="793.6" r="1.3"/><circle cx="2330.3" cy="866.2" r="1.2"/><circle cx="2372.3" cy="831.9" r="1.6"/><circle cx="2411.7" cy="734.8" r="1.8"/><circle cx="2348.4" cy="768.1" r="1.3"/><circle cx="2227.8" cy="762.8" r="1.7"/><circle cx="2243.2" cy="740" r="1.2"/><circle cx="2321.5" cy="851.5" r="1.2"/><circle cx="2378.3" cy="828.1" r="1.2"/><circle cx="2390.1" cy="733.6" r="1.4"/><circle cx="2249.1" cy="727.9" r="1.3"/><circle cx="2327.2" cy="833.3" r="1.2"/><circle cx="2430.7" cy="796" r="1"/><circle cx="2246.8" cy="849.5" r="1.1"/><circle cx="2292.7" cy="845.2" r="1.2"/><circle cx="2391.3" cy="836.2" r="1.5"/><circle cx="2277.7" cy="838.5" r="1.5"/><circle cx="2343" cy="810.8" r="1.6"/><circle cx="2253" cy="852" r="1.8"/><circle cx="2213.4" cy="766.6" r="1.8"/><circle cx="2224.4" cy="871.3" r="1.4"/><circle cx="2221.3" cy="836.5" r="0.9"/><circle cx="2404.6" cy="775.9" r="1.7"/><circle cx="2415.9" cy="745.3" r="1.3"/><circle cx="2240.8" cy="860.2" r="1"/><circle cx="2222.3" cy="741.5" r="1.7"/><circle cx="2263.1" cy="779.8" r="1.3"/><circle cx="2334.7" cy="796.4" r="1.8"/><circle cx="2285" cy="808" r="1.7"/><circle cx="2262.2" cy="752.2" r="1.7"/><circle cx="2279.2" cy="885" r="1.6"/><circle cx="2292.6" cy="781.6" r="1"/><circle cx="2410.3" cy="801.9" r="1.2"/><circle cx="2246.5" cy="761.8" r="1.7"/><circle cx="2235.7" cy="822.6" r="1.5"/><circle cx="2327.3" cy="812.9" r="1.3"/><circle cx="2250" cy="871.9" r="1.7"/><circle cx="2337.5" cy="766.6" r="1.7"/><circle cx="2252.4" cy="751.6" r="1.5"/><circle cx="2400.4" cy="825.9" r="1"/><circle cx="2435.1" cy="748.9" r="1.2"/><circle cx="2382.6" cy="734" r="1.7"/><circle cx="2299" cy="722" r="1.6"/><circle cx="2423.6" cy="728.8" r="1.3"/><circle cx="2416.9" cy="781.5" r="1.2"/><circle cx="2388.1" cy="801.6" r="1.8"/><circle cx="2371.1" cy="756" r="1.5"/><circle cx="2341" cy="809.3" r="1.4"/><circle cx="2276.7" cy="756.6" r="1.7"/><circle cx="2291.2" cy="739.6" r="1.8"/><circle cx="2325" cy="845" r="1.2"/><circle cx="2240" cy="781.5" r="1.7"/><circle cx="2269.4" cy="888.8" r="1.2"/><circle cx="2415.8" cy="753.1" r="1.3"/><circle cx="2235.3" cy="747.5" r="1.4"/><circle cx="2290.8" cy="819.4" r="1.1"/><circle cx="2278" cy="779.5" r="1.7"/><circle cx="2224" cy="797" r="1.7"/><circle cx="2339.5" cy="767.3" r="1.8"/><circle cx="2230.5" cy="745.3" r="0.9"/><circle cx="2308.2" cy="878.9" r="1.2"/><circle cx="2272.1" cy="867.7" r="1"/><circle cx="2209.1" cy="842.7" r="1"/><circle cx="2328.9" cy="746.8" r="1.4"/><circle cx="2405.1" cy="803.8" r="1.1"/><circle cx="2351.5" cy="849.5" r="1"/><circle cx="2261.4" cy="789.7" r="1.4"/><circle cx="2269.3" cy="841.8" r="1.1"/><circle cx="2417.6" cy="785.1" r="1.1"/><circle cx="2223.4" cy="743.4" r="1.1"/><circle cx="2412.4" cy="797.1" r="1.3"/><circle cx="2384.9" cy="764.4" r="1.2"/><circle cx="2323.7" cy="767.8" r="1.2"/><circle cx="2255" cy="764.6" r="1.6"/><circle cx="2346.8" cy="802.4" r="1.3"/><circle cx="2349.2" cy="846.7" r="0.9"/><circle cx="2403.2" cy="805.6" r="1.2"/><circle cx="2287.4" cy="724.5" r="1.3"/><circle cx="2308.3" cy="789.3" r="1"/><circle cx="2340.5" cy="767.1" r="1.6"/><circle cx="2329.2" cy="774.2" r="1.6"/><circle cx="2310.2" cy="735.6" r="1.2"/><circle cx="2217.4" cy="799.5" r="1.7"/><circle cx="2426" cy="840.6" r="1"/><circle cx="2261.3" cy="757.6" r="1.2"/><circle cx="2355" cy="724.1" r="1.3"/><circle cx="2305" cy="842.3" r="1.6"/><circle cx="2298.3" cy="831.5" r="1.1"/><circle cx="2311.8" cy="837.5" r="0.9"/><circle cx="2325.8" cy="812.9" r="1.1"/><circle cx="2263.5" cy="872.5" r="1.2"/><circle cx="2250.2" cy="772.7" r="1.4"/><circle cx="2298.7" cy="784.9" r="1.2"/><circle cx="2255.9" cy="813.3" r="1.4"/><circle cx="2225.9" cy="829.3" r="1.2"/><circle cx="2235.8" cy="848.8" r="1.2"/><circle cx="2231.1" cy="882" r="1.7"/><circle cx="2389.9" cy="837.8" r="1.8"/><circle cx="2335.6" cy="845" r="1.5"/><circle cx="2276.5" cy="758.5" r="1.4"/><circle cx="2343.6" cy="785.3" r="1.7"/><circle cx="2404.4" cy="847.1" r="1.4"/><circle cx="2368.4" cy="756.1" r="1.6"/><circle cx="2234.9" cy="887.1" r="1.5"/><circle cx="2270.2" cy="755.2" r="1.4"/><circle cx="2314" cy="848.9" r="1"/><circle cx="2410.7" cy="799.4" r="1.3"/><circle cx="2378.6" cy="832.2" r="1.3"/><circle cx="2273.8" cy="806.2" r="0.9"/><circle cx="2265.1" cy="872.8" r="1"/><circle cx="2225.2" cy="876.9" r="1.2"/><circle cx="2329.5" cy="828.7" r="1.5"/><circle cx="2279.9" cy="862.5" r="0.9"/><circle cx="2404.2" cy="777.3" r="1.5"/><circle cx="2276.4" cy="858.6" r="1.2"/><circle cx="2346.6" cy="779.3" r="1.6"/><circle cx="2387.6" cy="757.2" r="1.6"/><circle cx="2426.5" cy="763.9" r="1.1"/><circle cx="2235.5" cy="863.5" r="1.7"/><circle cx="2266.9" cy="864.4" r="1.2"/><circle cx="2390" cy="814.1" r="1.3"/><circle cx="2234.3" cy="840.7" r="1.5"/><circle cx="2273.3" cy="728.3" r="1"/><circle cx="2266" cy="904.4" r="1.6"/><circle cx="2415.6" cy="858.7" r="1"/><circle cx="2295.7" cy="895.7" r="1.7"/><circle cx="2372.1" cy="861.2" r="1.7"/><circle cx="2305.9" cy="726.2" r="1.2"/><circle cx="2208.1" cy="770.4" r="1.4"/><circle cx="2269.7" cy="765.9" r="1"/><circle cx="2289.2" cy="815.5" r="1.4"/><circle cx="2426.6" cy="733" r="1.1"/><circle cx="2223.1" cy="892.1" r="1.5"/><circle cx="2359.3" cy="870.5" r="0.9"/><circle cx="2417.3" cy="781.5" r="1.5"/><circle cx="2299.9" cy="858" r="1.2"/><circle cx="2270.2" cy="766.2" r="1.6"/><circle cx="2312.2" cy="748.7" r="1.2"/><circle cx="2338.5" cy="788.9" r="1.4"/><circle cx="2403.1" cy="838.4" r="1.6"/><circle cx="2276.3" cy="880.9" r="1.7"/><circle cx="2329.5" cy="724.3" r="1"/><circle cx="2375.2" cy="814" r="1.4"/><circle cx="2232.2" cy="830.7" r="1.8"/><circle cx="2253.3" cy="832.9" r="1.7"/><circle cx="2357.8" cy="784.9" r="1.1"/><circle cx="2411.3" cy="794.1" r="1.6"/><circle cx="2395.7" cy="789.4" r="1.6"/><circle cx="2295.7" cy="757.1" r="0.9"/><circle cx="2375.3" cy="859.2" r="0.9"/><circle cx="2219.6" cy="779" r="1.1"/><circle cx="2377" cy="755.1" r="1.4"/><circle cx="2334.5" cy="784.5" r="1.7"/><circle cx="2307.8" cy="814.7" r="1.5"/><circle cx="2300" cy="754.4" r="1.8"/><circle cx="2381.7" cy="820.9" r="1.3"/><circle cx="2350.1" cy="774.6" r="1"/><circle cx="2333.1" cy="886.5" r="1"/><circle cx="2435.6" cy="789.1" r="1.8"/><circle cx="2385.8" cy="770.4" r="1.1"/><circle cx="2394.2" cy="828.1" r="1.4"/><circle cx="2401.1" cy="773.4" r="1.6"/><circle cx="2429.1" cy="826.3" r="0.9"/><circle cx="2249.3" cy="840.4" r="1.3"/><circle cx="2420.7" cy="838.7" r="1.5"/><circle cx="2240.6" cy="817.1" r="1.5"/><circle cx="2267" cy="812.8" r="1.8"/><circle cx="2226.2" cy="733.1" r="1.1"/><circle cx="2376.9" cy="780.1" r="1.5"/><circle cx="2214.4" cy="847.4" r="1.6"/></g>
<ellipse cx="2290" cy="770" rx="40" ry="28" fill="#d6a94f" opacity="0.35" filter="url(#b8)"/>
<ellipse cx="2360" cy="800" rx="45" ry="31.5" fill="#d6a94f" opacity="0.35" filter="url(#b8)"/>
<ellipse cx="2300" cy="860" rx="35" ry="24.5" fill="#d6a94f" opacity="0.35" filter="url(#b8)"/>
<ellipse cx="2390" cy="740" rx="30" ry="21" fill="#d6a94f" opacity="0.35" filter="url(#b8)"/>
<path d="M2245,686 L2310,666 L2374,644 L2416,629 L2455,616 L2455,672 L2425,684 L2398,704 L2374,702 L2340,722 L2308,722 L2280,742 L2250,738 Z" fill="#f4e2b4" stroke="#d7b777" stroke-width="2"/>
<path d="M2250,746 L2280,750 L2308,730 L2340,730 L2374,710 L2398,712 L2425,692 L2455,680" fill="none" stroke="#ecd193" stroke-width="20" stroke-dasharray="2.2 2.2" stroke-linejoin="round"/>
<path d="M2308,668 L2308,722" fill="none" stroke="#d7b777" stroke-width="2"/>
<path d="M2374,645 L2374,702" fill="none" stroke="#d7b777" stroke-width="2"/>
<path d="M2425,627 L2425,684" fill="none" stroke="#d7b777" stroke-width="2"/>
<ellipse cx="2279" cy="699.5" rx="10" ry="10" fill="#9d8ab0" filter="url(#b1)"/>
<ellipse cx="2277" cy="697.5" rx="4" ry="4" fill="#c8bad3" opacity="0.7"/>
<ellipse cx="2342" cy="682" rx="10" ry="10" fill="#9d8ab0" filter="url(#b1)"/>
<ellipse cx="2340" cy="680" rx="4" ry="4" fill="#c8bad3" opacity="0.7"/>
<ellipse cx="2396.5" cy="661" rx="10" ry="10" fill="#9d8ab0" filter="url(#b1)"/>
<ellipse cx="2394.5" cy="659" rx="4" ry="4" fill="#c8bad3" opacity="0.7"/>
<path d="M2208,968 L2242,945 L2300,922 L2354,896 L2400,884 L2455,872 L2455,816 L2420,820 L2390,830 L2340,845 L2290,868 L2240,895 L2205,925 Z" fill="#f4e2b4" stroke="#d7b777" stroke-width="2"/>
<path d="M2205,917 L2240,887 L2290,860 L2340,837 L2390,822 L2420,812 L2455,808" fill="none" stroke="#ecd193" stroke-width="18" stroke-dasharray="2.2 2.2" stroke-linejoin="round"/>
<path d="M2232,902 L2236,948" fill="none" stroke="#d7b777" stroke-width="2"/>
<path d="M2285,870 L2292,925" fill="none" stroke="#d7b777" stroke-width="2"/>
<path d="M2335,847 L2340,902" fill="none" stroke="#d7b777" stroke-width="2"/>
<path d="M2385,831 L2388,886" fill="none" stroke="#d7b777" stroke-width="2"/>
<path d="M2430,819 L2432,876" fill="none" stroke="#d7b777" stroke-width="2"/>
<ellipse cx="2262" cy="918" rx="9.5" ry="9.5" fill="#9d8ab0" filter="url(#b1)"/>
<ellipse cx="2260" cy="916" rx="4" ry="4" fill="#c8bad3" opacity="0.7"/>
<ellipse cx="2307.6" cy="894.3" rx="9.5" ry="9.5" fill="#9d8ab0" filter="url(#b1)"/>
<ellipse cx="2305.6" cy="892.3" rx="4" ry="4" fill="#c8bad3" opacity="0.7"/>
<ellipse cx="2361" cy="871" rx="9.5" ry="9.5" fill="#9d8ab0" filter="url(#b1)"/>
<ellipse cx="2359" cy="869" rx="4" ry="4" fill="#c8bad3" opacity="0.7"/>
<ellipse cx="2417" cy="867" rx="9.5" ry="9.5" fill="#9d8ab0" filter="url(#b1)"/>
<ellipse cx="2415" cy="865" rx="4" ry="4" fill="#c8bad3" opacity="0.7"/>
</g>
<ellipse cx="1505.5" cy="621" rx="4" ry="17" fill="#a98cc4" transform="rotate(8 1505.5 621)" filter="url(#b1)"/>
<ellipse cx="1604" cy="504" rx="15" ry="4.5" fill="#a98cc4" transform="rotate(-32 1604 504)" filter="url(#b1)"/>
<ellipse cx="1762.6" cy="454.5" rx="17" ry="4.5" fill="#a98cc4" transform="rotate(-3 1762.6 454.5)" filter="url(#b1)"/>
<ellipse cx="1937" cy="492" rx="16" ry="4.5" fill="#a98cc4" transform="rotate(22 1937 492)" filter="url(#b1)"/>
<ellipse cx="2098" cy="600" rx="16" ry="4.5" fill="#a98cc4" transform="rotate(42 2098 600)" filter="url(#b1)"/>
<ellipse cx="1543" cy="1117" rx="4.5" ry="17" fill="#a98cc4" transform="rotate(-8 1543 1117)" filter="url(#b1)"/>
<ellipse cx="1642" cy="1228" rx="16" ry="5" fill="#a98cc4" transform="rotate(28 1642 1228)" filter="url(#b1)"/>
<ellipse cx="1777" cy="1258" rx="16" ry="5" fill="#a98cc4" transform="rotate(5 1777 1258)" filter="url(#b1)"/>
<ellipse cx="1921" cy="1248" rx="16" ry="5" fill="#a98cc4" transform="rotate(-12 1921 1248)" filter="url(#b1)"/>
<ellipse cx="2027" cy="1185" rx="16" ry="5" fill="#a98cc4" transform="rotate(-38 2027 1185)" filter="url(#b1)"/>
<ellipse cx="2131" cy="1055" rx="15" ry="4.5" fill="#a98cc4" transform="rotate(-55 2131 1055)" filter="url(#b1)"/>
<path d="M1315,725 L1374,762 L1433,795 L1492,816 L1560,826 L1640,835 L1640,860 L1550,858 L1481,872 L1411,912 L1345,965 L1300,1012 L1285,985 L1335,925 L1343,847 L1337,775Z" fill="url(#wedgeg)"/>
<path d="M1350,930C1355.8,929.2 1373.3,931.7 1385,925C1396.7,918.3 1409.2,899.2 1420,890C1430.8,880.8 1445,873.3 1450,870" fill="none" stroke="#c9b889" stroke-width="1.6" opacity="0.8"/>
<path d="M1320,975C1325,971.7 1339.2,963.3 1350,955C1360.8,946.7 1379.2,930 1385,925" fill="none" stroke="#c9b889" stroke-width="1.6" opacity="0.8"/>
<path d="M1400,800C1406.7,803.3 1433.3,816.7 1440,820" fill="none" stroke="#c9b889" stroke-width="1.6" opacity="0.8"/>
<path d="M1345,790C1354.2,794.2 1380.8,807.5 1400,815C1419.2,822.5 1440,830.5 1460,835C1480,839.5 1510,840.8 1520,842" fill="none" stroke="#c9b889" stroke-width="1.6" opacity="0.8"/>
<path d="M1345,830C1353.3,833.3 1377.5,845.3 1395,850C1412.5,854.7 1440.8,856.7 1450,858" fill="none" stroke="#c9b889" stroke-width="1.6" opacity="0.8"/>
<path d="M1345,870C1351.7,872.5 1372.5,883.3 1385,885C1397.5,886.7 1414.2,880.8 1420,880" fill="none" stroke="#c9b889" stroke-width="1.6" opacity="0.8"/>
<path d="M1340,910C1345.8,910.8 1369.2,914.2 1375,915" fill="none" stroke="#c9b889" stroke-width="1.6" opacity="0.8"/>
<path d="M1375,775C1374.2,781.7 1368.3,802.5 1370,815C1371.7,827.5 1384.2,838.3 1385,850C1385.8,861.7 1380.8,874.2 1375,885C1369.2,895.8 1354.2,910 1350,915" fill="none" stroke="#c9b889" stroke-width="1.6" opacity="0.8"/>
<path d="M1420,795C1418.3,801.7 1410,822.5 1410,835C1410,847.5 1418.3,864.2 1420,870" fill="none" stroke="#c9b889" stroke-width="1.6" opacity="0.8"/>
<path d="M1470,815C1467.5,820 1457.5,840 1455,845" fill="none" stroke="#c9b889" stroke-width="1.6" opacity="0.8"/>
<path d="M1335,945C1340,942.5 1355.8,937.5 1365,930C1374.2,922.5 1385.8,905 1390,900" fill="none" stroke="#c9b889" stroke-width="1.6" opacity="0.8"/>
<ellipse cx="1362" cy="800" rx="8" ry="3" fill="#7f86c0" transform="rotate(-20 1362 800)" filter="url(#b1)"/>
<ellipse cx="1395" cy="832" rx="8" ry="3" fill="#7f86c0" transform="rotate(-25 1395 832)" filter="url(#b1)"/>
<ellipse cx="1440" cy="848" rx="8" ry="3" fill="#7f86c0" transform="rotate(-15 1440 848)" filter="url(#b1)"/>
<ellipse cx="1360" cy="850" rx="8" ry="3" fill="#7f86c0" transform="rotate(-30 1360 850)" filter="url(#b1)"/>
<ellipse cx="1395" cy="868" rx="8" ry="3" fill="#7f86c0" transform="rotate(-30 1395 868)" filter="url(#b1)"/>
<ellipse cx="1358" cy="892" rx="8" ry="3" fill="#7f86c0" transform="rotate(-35 1358 892)" filter="url(#b1)"/>
<ellipse cx="1490" cy="832" rx="8" ry="3" fill="#7f86c0" transform="rotate(-5 1490 832)" filter="url(#b1)"/>
<ellipse cx="1330" cy="935" rx="8" ry="3" fill="#7f86c0" transform="rotate(-40 1330 935)" filter="url(#b1)"/>
<ellipse cx="1540" cy="836" rx="8" ry="3" fill="#7f86c0" filter="url(#b1)"/>
<ellipse cx="1585" cy="836" rx="8" ry="3" fill="#7f86c0" transform="rotate(5 1585 836)" filter="url(#b1)"/>
<path d="M1200,687C1183.3,687.2 1165,690.2 1150,696C1135,701.8 1121.3,708.8 1110,722C1098.7,735.2 1088.5,754.2 1082,775C1075.5,795.8 1071.7,824.5 1071,847C1070.3,869.5 1074.2,892 1078,910C1081.8,928 1087.3,941.7 1094,955C1100.7,968.3 1109.2,980.3 1118,990C1126.8,999.7 1136.7,1006.7 1147,1013C1157.3,1019.3 1168.8,1024.8 1180,1028C1191.2,1031.2 1202.3,1032.7 1214,1032C1225.7,1031.3 1238.8,1028 1250,1024C1261.2,1020 1271.8,1014.5 1281,1008C1290.2,1001.5 1298.5,993 1305,985C1311.5,977 1314.8,970 1320,960C1325.2,950 1332.2,943.8 1336,925C1339.8,906.2 1342.8,872 1343,847C1343.2,822 1340.8,792.8 1337,775C1333.2,757.2 1327,749.8 1320,740C1313,730.2 1306.7,723.5 1295,716C1283.3,708.5 1265.8,699.8 1250,695C1234.2,690.2 1216.7,686.8 1200,687Z" fill="url(#dtcell)" stroke="#c9a86a" stroke-width="2.5"/>
<g clip-path="url(#dtclip)">
<path d="M1164,690 L1181,742" fill="none" stroke="#d2b273" stroke-width="2.4" opacity="0.95"/>
<path d="M1166,691.5 L1183,743.5" fill="none" stroke="#fffaf0" stroke-width="2" opacity="0.75"/>
<path d="M1253,690 L1242,742" fill="none" stroke="#d2b273" stroke-width="2.4" opacity="0.95"/>
<path d="M1255,691.5 L1244,743.5" fill="none" stroke="#fffaf0" stroke-width="2" opacity="0.75"/>
<path d="M1088,753 L1134,782" fill="none" stroke="#d2b273" stroke-width="2.4" opacity="0.95"/>
<path d="M1090,754.5 L1136,783.5" fill="none" stroke="#fffaf0" stroke-width="2" opacity="0.75"/>
<path d="M1066,847 L1124,852" fill="none" stroke="#d2b273" stroke-width="2.4" opacity="0.95"/>
<path d="M1068,848.5 L1126,853.5" fill="none" stroke="#fffaf0" stroke-width="2" opacity="0.75"/>
<path d="M1078,930 L1134,912" fill="none" stroke="#d2b273" stroke-width="2.4" opacity="0.95"/>
<path d="M1080,931.5 L1136,913.5" fill="none" stroke="#fffaf0" stroke-width="2" opacity="0.75"/>
<path d="M1147,1010 L1168,960" fill="none" stroke="#d2b273" stroke-width="2.4" opacity="0.95"/>
<path d="M1149,1011.5 L1170,961.5" fill="none" stroke="#fffaf0" stroke-width="2" opacity="0.75"/>
<path d="M1236,1038 L1233,980" fill="none" stroke="#d2b273" stroke-width="2.4" opacity="0.95"/>
<path d="M1238,1039.5 L1235,981.5" fill="none" stroke="#fffaf0" stroke-width="2" opacity="0.75"/>
<path d="M1300,978 L1268,960" fill="none" stroke="#d2b273" stroke-width="2.4" opacity="0.95"/>
<path d="M1302,979.5 L1270,961.5" fill="none" stroke="#fffaf0" stroke-width="2" opacity="0.75"/>
<path d="M1314,746 L1270,770" fill="none" stroke="#d2b273" stroke-width="2.4" opacity="0.95"/>
<path d="M1316,747.5 L1272,771.5" fill="none" stroke="#fffaf0" stroke-width="2" opacity="0.75"/>
</g>
<path d="M1195,732C1186.8,732.5 1167,737 1160,742C1153,747 1139.7,764.7 1135,775C1130.3,785.3 1122,817.8 1120,830C1118,842.2 1117.4,868.3 1118,880C1118.6,891.7 1121.8,920.1 1125,930C1128.2,939.9 1139.2,958.9 1145,965C1150.8,971.1 1168,979.7 1175,982C1182,984.3 1197.4,985.8 1205,985C1212.6,984.2 1233.3,978.5 1240,975C1246.7,971.5 1258,961.4 1262,955C1266,948.6 1271.9,932.2 1274,920C1276.1,907.8 1280,865.2 1280,850C1280,834.8 1276.6,801.1 1274,790C1271.4,778.9 1263.1,761.1 1258,755C1252.9,748.9 1237.3,740.7 1230,738C1222.7,735.3 1203.2,731.5 1195,732Z" fill="url(#dtlum)" stroke="#8a5228" stroke-width="1.5"/>
<path d="M1170,760C1169.2,770 1162.5,800 1165,820C1167.5,840 1184.2,858.3 1185,880C1185.8,901.7 1172.5,938.3 1170,950" fill="none" stroke="#b97a48" stroke-width="1.5" opacity="0.55" filter="url(#b1)"/>
<path d="M1130,840C1135.8,841.7 1153.3,850.8 1165,850C1176.7,849.2 1188.8,835 1200,835C1211.2,835 1226.7,847.5 1232,850" fill="none" stroke="#b97a48" stroke-width="1.5" opacity="0.55" filter="url(#b1)"/>
<path d="M1150,905C1156.7,906.7 1177.5,915.8 1190,915C1202.5,914.2 1219.2,902.5 1225,900" fill="none" stroke="#b97a48" stroke-width="1.5" opacity="0.55" filter="url(#b1)"/>
<path d="M1200,745C1200.8,754.2 1205.8,785 1205,800C1204.2,815 1196.7,829.2 1195,835" fill="none" stroke="#b97a48" stroke-width="1.5" opacity="0.55" filter="url(#b1)"/>
<ellipse cx="1151" cy="728" rx="9.5" ry="10.5" fill="#a294ab" filter="url(#b1)"/>
<ellipse cx="1149" cy="726" rx="4.5" ry="5" fill="#cfc3d3" opacity="0.7" filter="url(#b1)"/>
<ellipse cx="1207" cy="717.6" rx="9.5" ry="10.5" fill="#a294ab" filter="url(#b1)"/>
<ellipse cx="1205" cy="715.6" rx="4.5" ry="5" fill="#cfc3d3" opacity="0.7" filter="url(#b1)"/>
<ellipse cx="1277" cy="737.6" rx="9.5" ry="10.5" fill="#a294ab" filter="url(#b1)"/>
<ellipse cx="1275" cy="735.6" rx="4.5" ry="5" fill="#cfc3d3" opacity="0.7" filter="url(#b1)"/>
<ellipse cx="1095" cy="820.6" rx="9.5" ry="10.5" fill="#a294ab" filter="url(#b1)"/>
<ellipse cx="1093" cy="818.6" rx="4.5" ry="5" fill="#cfc3d3" opacity="0.7" filter="url(#b1)"/>
<ellipse cx="1100" cy="889" rx="9.5" ry="10.5" fill="#a294ab" filter="url(#b1)"/>
<ellipse cx="1098" cy="887" rx="4.5" ry="5" fill="#cfc3d3" opacity="0.7" filter="url(#b1)"/>
<ellipse cx="1129.7" cy="950.5" rx="9.5" ry="10.5" fill="#a294ab" filter="url(#b1)"/>
<ellipse cx="1127.7" cy="948.5" rx="4.5" ry="5" fill="#cfc3d3" opacity="0.7" filter="url(#b1)"/>
<ellipse cx="1192.6" cy="1002.7" rx="9.5" ry="10.5" fill="#a294ab" filter="url(#b1)"/>
<ellipse cx="1190.6" cy="1000.7" rx="4.5" ry="5" fill="#cfc3d3" opacity="0.7" filter="url(#b1)"/>
<ellipse cx="1261" cy="988" rx="9.5" ry="10.5" fill="#a294ab" filter="url(#b1)"/>
<ellipse cx="1259" cy="986" rx="4.5" ry="5" fill="#cfc3d3" opacity="0.7" filter="url(#b1)"/>
<path d="M1238,771 L1272,760 L1282,850 L1274,945 L1238,949Z" fill="#8f6a55" opacity="0.55" filter="url(#b2)"/>
<path d="M1266,752C1270,743 1289.3,745.3 1300,746C1310.7,746.7 1323.2,747 1330,756C1336.8,765 1338.8,784.3 1341,800C1343.2,815.7 1343.5,832.5 1343,850C1342.5,867.5 1340.8,889.2 1338,905C1335.2,920.8 1331.5,933.8 1326,945C1320.5,956.2 1312.7,966.8 1305,972C1297.3,977.2 1287.2,976.7 1280,976C1272.8,975.3 1264,974 1262,968C1260,962 1265.7,951.3 1268,940C1270.3,928.7 1274,915 1276,900C1278,885 1280,866.7 1280,850C1280,833.3 1278.3,816.3 1276,800C1273.7,783.7 1262,761 1266,752Z" fill="#b9bcde" stroke="#8f8fb5" stroke-width="1.5"/>
<ellipse cx="1305.9" cy="768" rx="34.1" ry="15.5" fill="#c3c5e4" stroke="#8d8db8" stroke-width="1.3"/>
<ellipse cx="1306.5" cy="768.2" rx="11" ry="8" fill="#7e68a8" transform="rotate(17 1306.5 768.2)" opacity="0.85" filter="url(#b1)"/>
<ellipse cx="1293.9" cy="763" rx="9" ry="4" fill="#e2e4f5" opacity="0.7" filter="url(#b1)"/>
<ellipse cx="1307.5" cy="800" rx="32.5" ry="15.5" fill="#c3c5e4" stroke="#8d8db8" stroke-width="1.3"/>
<ellipse cx="1308.3" cy="800" rx="11" ry="8" fill="#7e68a8" transform="rotate(3.5 1308.3 800)" opacity="0.85" filter="url(#b1)"/>
<ellipse cx="1295.5" cy="795" rx="9" ry="4" fill="#e2e4f5" opacity="0.7" filter="url(#b1)"/>
<ellipse cx="1308.6" cy="832" rx="31.4" ry="15.5" fill="#c3c5e4" stroke="#8d8db8" stroke-width="1.3"/>
<ellipse cx="1307.1" cy="832" rx="11" ry="8" fill="#7e68a8" transform="rotate(5.2 1307.1 832)" opacity="0.85" filter="url(#b1)"/>
<ellipse cx="1296.6" cy="827" rx="9" ry="4" fill="#e2e4f5" opacity="0.7" filter="url(#b1)"/>
<ellipse cx="1309" cy="864" rx="31" ry="15.5" fill="#c3c5e4" stroke="#8d8db8" stroke-width="1.3"/>
<ellipse cx="1312.3" cy="862.4" rx="11" ry="8" fill="#7e68a8" transform="rotate(-7.9 1312.3 862.4)" opacity="0.85" filter="url(#b1)"/>
<ellipse cx="1297" cy="859" rx="9" ry="4" fill="#e2e4f5" opacity="0.7" filter="url(#b1)"/>
<ellipse cx="1308.5" cy="896" rx="31.5" ry="15.5" fill="#c3c5e4" stroke="#8d8db8" stroke-width="1.3"/>
<ellipse cx="1306.3" cy="897.2" rx="11" ry="8" fill="#7e68a8" transform="rotate(7.7 1306.3 897.2)" opacity="0.85" filter="url(#b1)"/>
<ellipse cx="1296.5" cy="891" rx="9" ry="4" fill="#e2e4f5" opacity="0.7" filter="url(#b1)"/>
<ellipse cx="1307.4" cy="927.5" rx="32.6" ry="15.5" fill="#c3c5e4" stroke="#8d8db8" stroke-width="1.3"/>
<ellipse cx="1304.7" cy="929.4" rx="11" ry="8" fill="#7e68a8" transform="rotate(18.6 1304.7 929.4)" opacity="0.85" filter="url(#b1)"/>
<ellipse cx="1295.4" cy="922.5" rx="9" ry="4" fill="#e2e4f5" opacity="0.7" filter="url(#b1)"/>
<ellipse cx="1305.8" cy="957.5" rx="34.2" ry="15.5" fill="#c3c5e4" stroke="#8d8db8" stroke-width="1.3"/>
<ellipse cx="1308.1" cy="958" rx="11" ry="8" fill="#7e68a8" transform="rotate(-13.7 1308.1 958)" opacity="0.85" filter="url(#b1)"/>
<ellipse cx="1293.8" cy="952.5" rx="9" ry="4" fill="#e2e4f5" opacity="0.7" filter="url(#b1)"/>
<path d="M1545,720C1539.3,700 1546.8,683.3 1556,670C1565.2,656.7 1584.3,649.5 1600,640C1615.7,630.5 1635.2,622.2 1650,613C1664.8,603.8 1676.2,591 1689,585C1701.8,579 1715.2,576.2 1727,577C1738.8,577.8 1731.2,579.5 1760,590C1788.8,600.5 1858.3,621.7 1900,640C1941.7,658.3 1979.2,675 2010,700C2040.8,725 2075,760 2085,790C2095,820 2084.2,845 2070,880C2055.8,915 2018.3,966.7 2000,1000C1981.7,1033.3 1976.7,1060 1960,1080C1943.3,1100 1933.3,1113.3 1900,1120C1866.7,1126.7 1806.7,1121.7 1760,1120C1713.3,1118.3 1655,1115.8 1620,1110C1585,1104.2 1565,1096.7 1550,1085C1535,1073.3 1528.3,1057.5 1530,1040C1531.7,1022.5 1541.7,998.3 1560,980C1578.3,961.7 1616.7,943.3 1640,930C1663.3,916.7 1691.7,911.7 1700,900C1708.3,888.3 1703.3,871.7 1690,860C1676.7,848.3 1636.7,841.7 1620,830C1603.3,818.3 1602.5,808.3 1590,790C1577.5,771.7 1550.7,740 1545,720Z" fill="url(#tuftg)"/>
<ellipse cx="1600" cy="660" rx="50" ry="18" fill="#b7c2e6" transform="rotate(-30 1600 660)" stroke="#7f8cbe" stroke-width="1.2" opacity="0.85"/>
<ellipse cx="1605" cy="660" rx="7" ry="3" fill="#6f74b8" transform="rotate(-30 1605 660)" filter="url(#b1)"/>
<ellipse cx="1660" cy="640" rx="45" ry="16" fill="#b7c2e6" transform="rotate(-15 1660 640)" stroke="#7f8cbe" stroke-width="1.2" opacity="0.85"/>
<ellipse cx="1664.5" cy="640" rx="7" ry="3" fill="#6f74b8" transform="rotate(-15 1664.5 640)" filter="url(#b1)"/>
<ellipse cx="1730" cy="620" rx="40" ry="15" fill="#b7c2e6" transform="rotate(-5 1730 620)" stroke="#7f8cbe" stroke-width="1.2" opacity="0.85"/>
<ellipse cx="1734" cy="620" rx="7" ry="3" fill="#6f74b8" transform="rotate(-5 1734 620)" filter="url(#b1)"/>
<ellipse cx="1575" cy="700" rx="35" ry="14" fill="#b7c2e6" transform="rotate(-50 1575 700)" stroke="#7f8cbe" stroke-width="1.2" opacity="0.85"/>
<ellipse cx="1578.5" cy="700" rx="7" ry="3" fill="#6f74b8" transform="rotate(-50 1578.5 700)" filter="url(#b1)"/>
<ellipse cx="1790" cy="760" rx="30" ry="12" fill="#b7c2e6" transform="rotate(20 1790 760)" stroke="#7f8cbe" stroke-width="1.2" opacity="0.85"/>
<ellipse cx="1793" cy="760" rx="7" ry="3" fill="#6f74b8" transform="rotate(20 1793 760)" filter="url(#b1)"/>
<ellipse cx="1760" cy="800" rx="32" ry="12" fill="#b7c2e6" transform="rotate(-30 1760 800)" stroke="#7f8cbe" stroke-width="1.2" opacity="0.85"/>
<ellipse cx="1763.2" cy="800" rx="7" ry="3" fill="#6f74b8" transform="rotate(-30 1763.2 800)" filter="url(#b1)"/>
<ellipse cx="1740" cy="1000" rx="30" ry="12" fill="#b7c2e6" transform="rotate(60 1740 1000)" stroke="#7f8cbe" stroke-width="1.2" opacity="0.85"/>
<ellipse cx="1743" cy="1000" rx="7" ry="3" fill="#6f74b8" transform="rotate(60 1743 1000)" filter="url(#b1)"/>
<ellipse cx="1760" cy="1060" rx="26" ry="12" fill="#b7c2e6" transform="rotate(80 1760 1060)" stroke="#7f8cbe" stroke-width="1.2" opacity="0.85"/>
<ellipse cx="1762.6" cy="1060" rx="7" ry="3" fill="#6f74b8" transform="rotate(80 1762.6 1060)" filter="url(#b1)"/>
<ellipse cx="1960" cy="1010" rx="30" ry="12" fill="#b7c2e6" transform="rotate(-50 1960 1010)" stroke="#7f8cbe" stroke-width="1.2" opacity="0.85"/>
<ellipse cx="1963" cy="1010" rx="7" ry="3" fill="#6f74b8" transform="rotate(-50 1963 1010)" filter="url(#b1)"/>
<ellipse cx="1945" cy="960" rx="26" ry="10" fill="#b7c2e6" transform="rotate(-60 1945 960)" stroke="#7f8cbe" stroke-width="1.2" opacity="0.85"/>
<ellipse cx="1947.6" cy="960" rx="7" ry="3" fill="#6f74b8" transform="rotate(-60 1947.6 960)" filter="url(#b1)"/>
<ellipse cx="2030" cy="790" rx="45" ry="14" fill="#b7c2e6" transform="rotate(10 2030 790)" stroke="#7f8cbe" stroke-width="1.2" opacity="0.85"/>
<ellipse cx="2034.5" cy="790" rx="7" ry="3" fill="#6f74b8" transform="rotate(10 2034.5 790)" filter="url(#b1)"/>
<ellipse cx="2040" cy="830" rx="35" ry="12" fill="#b7c2e6" transform="rotate(25 2040 830)" stroke="#7f8cbe" stroke-width="1.2" opacity="0.85"/>
<ellipse cx="2043.5" cy="830" rx="7" ry="3" fill="#6f74b8" transform="rotate(25 2043.5 830)" filter="url(#b1)"/>
<ellipse cx="1560" cy="1040" rx="28" ry="14" fill="#b7c2e6" transform="rotate(70 1560 1040)" stroke="#7f8cbe" stroke-width="1.2" opacity="0.85"/>
<ellipse cx="1562.8" cy="1040" rx="7" ry="3" fill="#6f74b8" transform="rotate(70 1562.8 1040)" filter="url(#b1)"/>
<ellipse cx="1600" cy="1000" rx="30" ry="12" fill="#b7c2e6" transform="rotate(-20 1600 1000)" stroke="#7f8cbe" stroke-width="1.2" opacity="0.85"/>
<ellipse cx="1603" cy="1000" rx="7" ry="3" fill="#6f74b8" transform="rotate(-20 1603 1000)" filter="url(#b1)"/>
<ellipse cx="1720" cy="930" rx="34" ry="13" fill="#b7c2e6" transform="rotate(10 1720 930)" stroke="#7f8cbe" stroke-width="1.2" opacity="0.85"/>
<ellipse cx="1723.4" cy="930" rx="7" ry="3" fill="#6f74b8" transform="rotate(10 1723.4 930)" filter="url(#b1)"/>
<ellipse cx="1770" cy="900" rx="30" ry="12" fill="#b7c2e6" transform="rotate(35 1770 900)" stroke="#7f8cbe" stroke-width="1.2" opacity="0.85"/>
<ellipse cx="1773" cy="900" rx="7" ry="3" fill="#6f74b8" transform="rotate(35 1773 900)" filter="url(#b1)"/>
<ellipse cx="1700" cy="960" rx="26" ry="11" fill="#b7c2e6" transform="rotate(-30 1700 960)" stroke="#7f8cbe" stroke-width="1.2" opacity="0.85"/>
<ellipse cx="1702.6" cy="960" rx="7" ry="3" fill="#6f74b8" transform="rotate(-30 1702.6 960)" filter="url(#b1)"/>
<ellipse cx="1840" cy="745" rx="26" ry="10" fill="#b7c2e6" transform="rotate(10 1840 745)" stroke="#7f8cbe" stroke-width="1.2" opacity="0.85"/>
<ellipse cx="1842.6" cy="745" rx="7" ry="3" fill="#6f74b8" transform="rotate(10 1842.6 745)" filter="url(#b1)"/>
<ellipse cx="1800" cy="720" rx="24" ry="10" fill="#b7c2e6" transform="rotate(-30 1800 720)" stroke="#7f8cbe" stroke-width="1.2" opacity="0.85"/>
<ellipse cx="1802.4" cy="720" rx="7" ry="3" fill="#6f74b8" transform="rotate(-30 1802.4 720)" filter="url(#b1)"/>
<g mask="url(#meff)">
<ellipse cx="1087.9" cy="460.2" rx="12" ry="8" transform="rotate(60.8 1087.9 460.2)" fill="#e9a98c" stroke="#c9805f" stroke-width="1.6"/>
<ellipse cx="1098.2" cy="478.5" rx="12" ry="8" transform="rotate(60.4 1098.2 478.5)" fill="#e9a98c" stroke="#c9805f" stroke-width="1.6"/>
<ellipse cx="1108.8" cy="496.7" rx="12" ry="8" transform="rotate(59 1108.8 496.7)" fill="#e9a98c" stroke="#c9805f" stroke-width="1.6"/>
<ellipse cx="1119.8" cy="514.6" rx="12" ry="8" transform="rotate(57.9 1119.8 514.6)" fill="#e9a98c" stroke="#c9805f" stroke-width="1.6"/>
<ellipse cx="1131.1" cy="532.2" rx="12" ry="8" transform="rotate(56.6 1131.1 532.2)" fill="#e9a98c" stroke="#c9805f" stroke-width="1.6"/>
<ellipse cx="1142.9" cy="549.7" rx="12" ry="8" transform="rotate(55.9 1142.9 549.7)" fill="#e9a98c" stroke="#c9805f" stroke-width="1.6"/>
<ellipse cx="1154.7" cy="567" rx="12" ry="8" transform="rotate(55.3 1154.7 567)" fill="#e9a98c" stroke="#c9805f" stroke-width="1.6"/>
<ellipse cx="1166.9" cy="584.1" rx="12" ry="8" transform="rotate(53 1166.9 584.1)" fill="#e9a98c" stroke="#c9805f" stroke-width="1.6"/>
<ellipse cx="1180" cy="600.5" rx="12" ry="8" transform="rotate(49.4 1180 600.5)" fill="#e9a98c" stroke="#c9805f" stroke-width="1.6"/>
<ellipse cx="1194.1" cy="616.1" rx="12" ry="8" transform="rotate(46.4 1194.1 616.1)" fill="#e9a98c" stroke="#c9805f" stroke-width="1.6"/>
<ellipse cx="1208.7" cy="631.2" rx="12" ry="8" transform="rotate(45.7 1208.7 631.2)" fill="#e9a98c" stroke="#c9805f" stroke-width="1.6"/>
<ellipse cx="1223.2" cy="646.4" rx="12" ry="8" transform="rotate(47.2 1223.2 646.4)" fill="#e9a98c" stroke="#c9805f" stroke-width="1.6"/>
<ellipse cx="1237.1" cy="662.1" rx="12" ry="8" transform="rotate(48.8 1237.1 662.1)" fill="#e9a98c" stroke="#c9805f" stroke-width="1.6"/>
<ellipse cx="1251.2" cy="677.7" rx="12" ry="8" transform="rotate(46.9 1251.2 677.7)" fill="#e9a98c" stroke="#c9805f" stroke-width="1.6"/>
<ellipse cx="1266.2" cy="692.4" rx="12" ry="8" transform="rotate(41.2 1266.2 692.4)" fill="#e9a98c" stroke="#c9805f" stroke-width="1.6"/>
<ellipse cx="1282.8" cy="705.1" rx="12" ry="8" transform="rotate(34.1 1282.8 705.1)" fill="#e9a98c" stroke="#c9805f" stroke-width="1.6"/>
<ellipse cx="1300.6" cy="716.3" rx="12" ry="8" transform="rotate(31.1 1300.6 716.3)" fill="#e9a98c" stroke="#c9805f" stroke-width="1.6"/>
<ellipse cx="1318.5" cy="727.3" rx="12" ry="8" transform="rotate(33.4 1318.5 727.3)" fill="#e9a98c" stroke="#c9805f" stroke-width="1.6"/>
<ellipse cx="1335.8" cy="739.2" rx="12" ry="8" transform="rotate(35.1 1335.8 739.2)" fill="#e9a98c" stroke="#c9805f" stroke-width="1.6"/>
<ellipse cx="1353" cy="751.3" rx="12" ry="8" transform="rotate(34.7 1353 751.3)" fill="#e9a98c" stroke="#c9805f" stroke-width="1.6"/>
<ellipse cx="1370.5" cy="762.8" rx="12" ry="8" transform="rotate(32.3 1370.5 762.8)" fill="#e9a98c" stroke="#c9805f" stroke-width="1.6"/>
<ellipse cx="1388.5" cy="773.6" rx="12" ry="8" transform="rotate(30.1 1388.5 773.6)" fill="#e9a98c" stroke="#c9805f" stroke-width="1.6"/>
<ellipse cx="1406.8" cy="783.9" rx="12" ry="8" transform="rotate(28.6 1406.8 783.9)" fill="#e9a98c" stroke="#c9805f" stroke-width="1.6"/>
<ellipse cx="1425.5" cy="793.5" rx="12" ry="8" transform="rotate(25.9 1425.5 793.5)" fill="#e9a98c" stroke="#c9805f" stroke-width="1.6"/>
<ellipse cx="1444.7" cy="802" rx="12" ry="8" transform="rotate(21.5 1444.7 802)" fill="#e9a98c" stroke="#c9805f" stroke-width="1.6"/>
<ellipse cx="1464.4" cy="809.2" rx="12" ry="8" transform="rotate(18.8 1464.4 809.2)" fill="#e9a98c" stroke="#c9805f" stroke-width="1.6"/>
<ellipse cx="1484.4" cy="815.7" rx="12" ry="8" transform="rotate(17.2 1484.4 815.7)" fill="#e9a98c" stroke="#c9805f" stroke-width="1.6"/>
<ellipse cx="1504.5" cy="821.7" rx="12" ry="8" transform="rotate(16 1504.5 821.7)" fill="#e9a98c" stroke="#c9805f" stroke-width="1.6"/>
<ellipse cx="1524.9" cy="826.8" rx="12" ry="8" transform="rotate(11.9 1524.9 826.8)" fill="#e9a98c" stroke="#c9805f" stroke-width="1.6"/>
<ellipse cx="1545.7" cy="829.5" rx="12" ry="8" transform="rotate(2.4 1545.7 829.5)" fill="#e9a98c" stroke="#c9805f" stroke-width="1.6"/>
<ellipse cx="1566.6" cy="828.1" rx="12" ry="8" transform="rotate(-10.2 1566.6 828.1)" fill="#e9a98c" stroke="#c9805f" stroke-width="1.6"/>
<ellipse cx="1586.1" cy="820.6" rx="12" ry="8" transform="rotate(-33.1 1586.1 820.6)" fill="#e9a98c" stroke="#c9805f" stroke-width="1.6"/>
<ellipse cx="1600.7" cy="805.9" rx="12" ry="8" transform="rotate(-63.4 1600.7 805.9)" fill="#e9a98c" stroke="#c9805f" stroke-width="1.6"/>
<ellipse cx="1594.8" cy="749.9" rx="12" ry="8" transform="rotate(-121 1594.8 749.9)" fill="#e9a98c" stroke="#c9805f" stroke-width="1.6"/>
<ellipse cx="1583.8" cy="732.1" rx="12" ry="8" transform="rotate(-123.9 1583.8 732.1)" fill="#e9a98c" stroke="#c9805f" stroke-width="1.6"/>
<ellipse cx="1570.7" cy="715.7" rx="12" ry="8" transform="rotate(-137.5 1570.7 715.7)" fill="#e9a98c" stroke="#c9805f" stroke-width="1.6"/>
<ellipse cx="1553.7" cy="703.3" rx="12" ry="8" transform="rotate(-148.4 1553.7 703.3)" fill="#e9a98c" stroke="#c9805f" stroke-width="1.6"/>
<ellipse cx="1535.8" cy="692.4" rx="12" ry="8" transform="rotate(-149 1535.8 692.4)" fill="#e9a98c" stroke="#c9805f" stroke-width="1.6"/>
<ellipse cx="1517.6" cy="682" rx="12" ry="8" transform="rotate(-150.9 1517.6 682)" fill="#e9a98c" stroke="#c9805f" stroke-width="1.6"/>
<ellipse cx="1499.4" cy="671.6" rx="12" ry="8" transform="rotate(-149.8 1499.4 671.6)" fill="#e9a98c" stroke="#c9805f" stroke-width="1.6"/>
<ellipse cx="1481.2" cy="661" rx="12" ry="8" transform="rotate(-149.5 1481.2 661)" fill="#e9a98c" stroke="#c9805f" stroke-width="1.6"/>
<ellipse cx="1463.2" cy="650.1" rx="12" ry="8" transform="rotate(-148.5 1463.2 650.1)" fill="#e9a98c" stroke="#c9805f" stroke-width="1.6"/>
<ellipse cx="1445.3" cy="639.2" rx="12" ry="8" transform="rotate(-148.4 1445.3 639.2)" fill="#e9a98c" stroke="#c9805f" stroke-width="1.6"/>
<ellipse cx="1427.5" cy="628" rx="12" ry="8" transform="rotate(-146.8 1427.5 628)" fill="#e9a98c" stroke="#c9805f" stroke-width="1.6"/>
<ellipse cx="1410.4" cy="615.8" rx="12" ry="8" transform="rotate(-142.4 1410.4 615.8)" fill="#e9a98c" stroke="#c9805f" stroke-width="1.6"/>
<ellipse cx="1394.1" cy="602.7" rx="12" ry="8" transform="rotate(-139.7 1394.1 602.7)" fill="#e9a98c" stroke="#c9805f" stroke-width="1.6"/>
<ellipse cx="1378.3" cy="588.9" rx="12" ry="8" transform="rotate(-138 1378.3 588.9)" fill="#e9a98c" stroke="#c9805f" stroke-width="1.6"/>
<ellipse cx="1362.7" cy="574.7" rx="12" ry="8" transform="rotate(-137.4 1362.7 574.7)" fill="#e9a98c" stroke="#c9805f" stroke-width="1.6"/>
<ellipse cx="1347.7" cy="560" rx="12" ry="8" transform="rotate(-133.3 1347.7 560)" fill="#e9a98c" stroke="#c9805f" stroke-width="1.6"/>
<ellipse cx="1334.4" cy="543.8" rx="12" ry="8" transform="rotate(-124.7 1334.4 543.8)" fill="#e9a98c" stroke="#c9805f" stroke-width="1.6"/>
<ellipse cx="1323.4" cy="526" rx="12" ry="8" transform="rotate(-119.8 1323.4 526)" fill="#e9a98c" stroke="#c9805f" stroke-width="1.6"/>
<ellipse cx="1312.9" cy="507.8" rx="12" ry="8" transform="rotate(-121 1312.9 507.8)" fill="#e9a98c" stroke="#c9805f" stroke-width="1.6"/>
<ellipse cx="1302.5" cy="489.5" rx="12" ry="8" transform="rotate(-119.3 1302.5 489.5)" fill="#e9a98c" stroke="#c9805f" stroke-width="1.6"/>
<ellipse cx="1291.1" cy="471.9" rx="12" ry="8" transform="rotate(-128.4 1291.1 471.9)" fill="#e9a98c" stroke="#c9805f" stroke-width="1.6"/>
<ellipse cx="1276.2" cy="457.1" rx="12" ry="8" transform="rotate(-137.9 1276.2 457.1)" fill="#e9a98c" stroke="#c9805f" stroke-width="1.6"/>
<ellipse cx="1261.9" cy="441.8" rx="12" ry="8" transform="rotate(-129.1 1261.9 441.8)" fill="#e9a98c" stroke="#c9805f" stroke-width="1.6"/>
<ellipse cx="1249" cy="425.2" rx="12" ry="8" transform="rotate(-127.4 1249 425.2)" fill="#e9a98c" stroke="#c9805f" stroke-width="1.6"/>
<path d="M1085,455C1089,462 1100,482.2 1109,497C1118,511.8 1127.7,527.3 1139,544C1150.3,560.7 1163.3,580.3 1177,597C1190.7,613.7 1205.8,627.8 1221,644C1236.2,660.2 1251.3,679.8 1268,694C1284.7,708.2 1303.3,717.2 1321,729C1338.7,740.8 1355.3,753.7 1374,765C1392.7,776.3 1413.3,788.2 1433,797C1452.7,805.8 1474.3,812.7 1492,818C1509.7,823.3 1525.2,827.7 1539,829C1552.8,830.3 1565.2,829.2 1575,826C1584.8,822.8 1592.7,816.3 1598,810C1603.3,803.7 1605.5,791.7 1607,788C1605.5,782.5 1603.7,766.7 1598,755C1592.3,743.3 1582.7,728 1573,718C1563.3,708 1551,702 1540,695C1529,688 1519.8,683.5 1507,676C1494.2,668.5 1478.2,659.3 1463,650C1447.8,640.7 1430.8,630.8 1416,620C1401.2,609.2 1386.8,596.7 1374,585C1361.2,573.3 1349.2,562.8 1339,550C1328.8,537.2 1320.8,520.8 1313,508C1305.2,495.2 1299.5,482.8 1292,473C1284.5,463.2 1275.8,457.8 1268,449C1260.2,440.2 1248.8,424.8 1245,420Z" fill="#e9a98c"/>
<ellipse cx="1101.2" cy="457.4" rx="19" ry="11" fill="none" transform="rotate(42.8 1101.2 457.4)" stroke="#c9805f" stroke-width="1.3" opacity="0.55"/>
<ellipse cx="1099.5" cy="458.4" rx="5" ry="3.6" fill="#7a4d78" transform="rotate(80.8 1099.5 458.4)" opacity="0.8"/>
<ellipse cx="1115.9" cy="483.2" rx="19" ry="11" fill="none" transform="rotate(77.6 1115.9 483.2)" stroke="#c9805f" stroke-width="1.3" opacity="0.55"/>
<ellipse cx="1131.4" cy="508.5" rx="19" ry="11" fill="none" transform="rotate(39.9 1131.4 508.5)" stroke="#c9805f" stroke-width="1.3" opacity="0.55"/>
<ellipse cx="1129.7" cy="509.6" rx="5" ry="3.6" fill="#7a4d78" transform="rotate(77.9 1129.7 509.6)" opacity="0.8"/>
<ellipse cx="1147.5" cy="533.3" rx="19" ry="11" fill="none" transform="rotate(74.2 1147.5 533.3)" stroke="#c9805f" stroke-width="1.3" opacity="0.55"/>
<ellipse cx="1164.3" cy="558" rx="19" ry="11" fill="none" transform="rotate(37.3 1164.3 558)" stroke="#c9805f" stroke-width="1.3" opacity="0.55"/>
<ellipse cx="1162.6" cy="559.1" rx="5" ry="3.6" fill="#7a4d78" transform="rotate(75.3 1162.6 559.1)" opacity="0.8"/>
<ellipse cx="1181.5" cy="581.7" rx="19" ry="11" fill="none" transform="rotate(70.4 1181.5 581.7)" stroke="#c9805f" stroke-width="1.3" opacity="0.55"/>
<ellipse cx="1200.1" cy="603.6" rx="19" ry="11" fill="none" transform="rotate(28.8 1200.1 603.6)" stroke="#c9805f" stroke-width="1.3" opacity="0.55"/>
<ellipse cx="1198.6" cy="604.9" rx="5" ry="3.6" fill="#7a4d78" transform="rotate(66.8 1198.6 604.9)" opacity="0.8"/>
<ellipse cx="1220.8" cy="625" rx="19" ry="11" fill="none" transform="rotate(63.8 1220.8 625)" stroke="#c9805f" stroke-width="1.3" opacity="0.55"/>
<ellipse cx="1241.6" cy="647.4" rx="19" ry="11" fill="none" transform="rotate(30.6 1241.6 647.4)" stroke="#c9805f" stroke-width="1.3" opacity="0.55"/>
<ellipse cx="1240.1" cy="648.8" rx="5" ry="3.6" fill="#7a4d78" transform="rotate(68.6 1240.1 648.8)" opacity="0.8"/>
<ellipse cx="1261.3" cy="669.5" rx="19" ry="11" fill="none" transform="rotate(64.9 1261.3 669.5)" stroke="#c9805f" stroke-width="1.3" opacity="0.55"/>
<ellipse cx="1281.9" cy="688.5" rx="19" ry="11" fill="none" transform="rotate(20 1281.9 688.5)" stroke="#c9805f" stroke-width="1.3" opacity="0.55"/>
<ellipse cx="1280.6" cy="690.1" rx="5" ry="3.6" fill="#7a4d78" transform="rotate(58 1280.6 690.1)" opacity="0.8"/>
<ellipse cx="1305.6" cy="704.1" rx="19" ry="11" fill="none" transform="rotate(49.1 1305.6 704.1)" stroke="#c9805f" stroke-width="1.3" opacity="0.55"/>
<ellipse cx="1331.6" cy="720.4" rx="19" ry="11" fill="none" transform="rotate(16 1331.6 720.4)" stroke="#c9805f" stroke-width="1.3" opacity="0.55"/>
<ellipse cx="1330.4" cy="722.1" rx="5" ry="3.6" fill="#7a4d78" transform="rotate(54 1330.4 722.1)" opacity="0.8"/>
<ellipse cx="1356.3" cy="737.8" rx="19" ry="11" fill="none" transform="rotate(52.9 1356.3 737.8)" stroke="#c9805f" stroke-width="1.3" opacity="0.55"/>
<ellipse cx="1380.7" cy="753.9" rx="19" ry="11" fill="none" transform="rotate(13.6 1380.7 753.9)" stroke="#c9805f" stroke-width="1.3" opacity="0.55"/>
<ellipse cx="1379.7" cy="755.6" rx="5" ry="3.6" fill="#7a4d78" transform="rotate(51.6 1379.7 755.6)" opacity="0.8"/>
<ellipse cx="1406.1" cy="768.7" rx="19" ry="11" fill="none" transform="rotate(47 1406.1 768.7)" stroke="#c9805f" stroke-width="1.3" opacity="0.55"/>
<ellipse cx="1432" cy="782.2" rx="19" ry="11" fill="none" transform="rotate(7.3 1432 782.2)" stroke="#c9805f" stroke-width="1.3" opacity="0.55"/>
<ellipse cx="1431.1" cy="784" rx="5" ry="3.6" fill="#7a4d78" transform="rotate(45.3 1431.1 784)" opacity="0.8"/>
<ellipse cx="1458.6" cy="793.3" rx="19" ry="11" fill="none" transform="rotate(38.3 1458.6 793.3)" stroke="#c9805f" stroke-width="1.3" opacity="0.55"/>
<ellipse cx="1486.3" cy="802.7" rx="19" ry="11" fill="none" transform="rotate(-0.8 1486.3 802.7)" stroke="#c9805f" stroke-width="1.3" opacity="0.55"/>
<ellipse cx="1485.7" cy="804.6" rx="5" ry="3.6" fill="#7a4d78" transform="rotate(37.2 1485.7 804.6)" opacity="0.8"/>
<ellipse cx="1514.6" cy="811" rx="19" ry="11" fill="none" transform="rotate(32.7 1514.6 811)" stroke="#c9805f" stroke-width="1.3" opacity="0.55"/>
<ellipse cx="1541.8" cy="816.2" rx="19" ry="11" fill="none" transform="rotate(-13.1 1541.8 816.2)" stroke="#c9805f" stroke-width="1.3" opacity="0.55"/>
<ellipse cx="1541.6" cy="818.2" rx="5" ry="3.6" fill="#7a4d78" transform="rotate(24.9 1541.6 818.2)" opacity="0.8"/>
<ellipse cx="1567.5" cy="814.6" rx="19" ry="11" fill="none" transform="rotate(4.6 1567.5 814.6)" stroke="#c9805f" stroke-width="1.3" opacity="0.55"/>
<ellipse cx="1586.4" cy="803.5" rx="19" ry="11" fill="none" transform="rotate(-65.5 1586.4 803.5)" stroke="#c9805f" stroke-width="1.3" opacity="0.55"/>
<ellipse cx="1587.9" cy="804.8" rx="5" ry="3.6" fill="#7a4d78" transform="rotate(-27.5 1587.9 804.8)" opacity="0.8"/>
<ellipse cx="1581.6" cy="753.2" rx="19" ry="11" fill="none" transform="rotate(-138.9 1581.6 753.2)" stroke="#c9805f" stroke-width="1.3" opacity="0.55"/>
<ellipse cx="1583.3" cy="752.1" rx="5" ry="3.6" fill="#7a4d78" transform="rotate(-100.9 1583.3 752.1)" opacity="0.8"/>
<ellipse cx="1566.2" cy="729.9" rx="19" ry="11" fill="none" transform="rotate(-111.9 1566.2 729.9)" stroke="#c9805f" stroke-width="1.3" opacity="0.55"/>
<ellipse cx="1546.1" cy="713.9" rx="19" ry="11" fill="none" transform="rotate(-166.4 1546.1 713.9)" stroke="#c9805f" stroke-width="1.3" opacity="0.55"/>
<ellipse cx="1547.1" cy="712.2" rx="5" ry="3.6" fill="#7a4d78" transform="rotate(-128.4 1547.1 712.2)" opacity="0.8"/>
<ellipse cx="1520.8" cy="698.7" rx="19" ry="11" fill="none" transform="rotate(-132.6 1520.8 698.7)" stroke="#c9805f" stroke-width="1.3" opacity="0.55"/>
<ellipse cx="1494.6" cy="683.8" rx="19" ry="11" fill="none" transform="rotate(-167.8 1494.6 683.8)" stroke="#c9805f" stroke-width="1.3" opacity="0.55"/>
<ellipse cx="1495.6" cy="682.1" rx="5" ry="3.6" fill="#7a4d78" transform="rotate(-129.8 1495.6 682.1)" opacity="0.8"/>
<ellipse cx="1468.6" cy="668.6" rx="19" ry="11" fill="none" transform="rotate(-131.2 1468.6 668.6)" stroke="#c9805f" stroke-width="1.3" opacity="0.55"/>
<ellipse cx="1442.8" cy="652.9" rx="19" ry="11" fill="none" transform="rotate(-166.7 1442.8 652.9)" stroke="#c9805f" stroke-width="1.3" opacity="0.55"/>
<ellipse cx="1443.9" cy="651.2" rx="5" ry="3.6" fill="#7a4d78" transform="rotate(-128.7 1443.9 651.2)" opacity="0.8"/>
<ellipse cx="1416.9" cy="636.5" rx="19" ry="11" fill="none" transform="rotate(-127.6 1416.9 636.5)" stroke="#c9805f" stroke-width="1.3" opacity="0.55"/>
<ellipse cx="1392" cy="617.9" rx="19" ry="11" fill="none" transform="rotate(-158.9 1392 617.9)" stroke="#c9805f" stroke-width="1.3" opacity="0.55"/>
<ellipse cx="1393.3" cy="616.3" rx="5" ry="3.6" fill="#7a4d78" transform="rotate(-120.9 1393.3 616.3)" opacity="0.8"/>
<ellipse cx="1368.8" cy="597.8" rx="19" ry="11" fill="none" transform="rotate(-120 1368.8 597.8)" stroke="#c9805f" stroke-width="1.3" opacity="0.55"/>
<ellipse cx="1346.3" cy="577.2" rx="19" ry="11" fill="none" transform="rotate(-153.6 1346.3 577.2)" stroke="#c9805f" stroke-width="1.3" opacity="0.55"/>
<ellipse cx="1347.7" cy="575.7" rx="5" ry="3.6" fill="#7a4d78" transform="rotate(-115.6 1347.7 575.7)" opacity="0.8"/>
<ellipse cx="1325.1" cy="553.1" rx="19" ry="11" fill="none" transform="rotate(-108.1 1325.1 553.1)" stroke="#c9805f" stroke-width="1.3" opacity="0.55"/>
<ellipse cx="1308.6" cy="526.3" rx="19" ry="11" fill="none" transform="rotate(-137.6 1308.6 526.3)" stroke="#c9805f" stroke-width="1.3" opacity="0.55"/>
<ellipse cx="1310.3" cy="525.3" rx="5" ry="3.6" fill="#7a4d78" transform="rotate(-99.6 1310.3 525.3)" opacity="0.8"/>
<ellipse cx="1293.5" cy="500.2" rx="19" ry="11" fill="none" transform="rotate(-101.1 1293.5 500.2)" stroke="#c9805f" stroke-width="1.3" opacity="0.55"/>
<ellipse cx="1278.9" cy="477.6" rx="19" ry="11" fill="none" transform="rotate(-150.2 1278.9 477.6)" stroke="#c9805f" stroke-width="1.3" opacity="0.55"/>
<ellipse cx="1280.4" cy="476.2" rx="5" ry="3.6" fill="#7a4d78" transform="rotate(-112.2 1280.4 476.2)" opacity="0.8"/>
<ellipse cx="1257.3" cy="456.5" rx="19" ry="11" fill="none" transform="rotate(-113.1 1257.3 456.5)" stroke="#c9805f" stroke-width="1.3" opacity="0.55"/>
<ellipse cx="1238.1" cy="432.3" rx="19" ry="11" fill="none" transform="rotate(-145.4 1238.1 432.3)" stroke="#c9805f" stroke-width="1.3" opacity="0.55"/>
<ellipse cx="1239.7" cy="431.1" rx="5" ry="3.6" fill="#7a4d78" transform="rotate(-107.4 1239.7 431.1)" opacity="0.8"/>
<path d="M1135,470C1139.2,475.8 1149.5,490.3 1160,505C1170.5,519.7 1183.8,539.8 1198,558C1212.2,576.2 1228.3,594.8 1245,614C1261.7,633.2 1281.3,656.3 1298,673C1314.7,689.7 1327.3,700.2 1345,714C1362.7,727.8 1384.3,743.2 1404,756C1423.7,768.8 1445.8,782.7 1463,791C1480.2,799.3 1493.3,803.2 1507,806C1520.7,808.8 1535.2,809.5 1545,808C1554.8,806.5 1560.8,802.2 1566,797C1571.2,791.8 1574.3,780.3 1576,777C1575,772.2 1575.5,757.8 1570,748C1564.5,738.2 1554.8,727.5 1543,718C1531.2,708.5 1514.8,700 1499,691C1483.2,682 1463.8,673.8 1448,664C1432.2,654.2 1418.7,643.5 1404,632C1389.3,620.5 1374.7,608.8 1360,595C1345.3,581.2 1329.3,564.3 1316,549C1302.7,533.7 1290.8,517.5 1280,503C1269.2,488.5 1259,474.2 1251,462C1243,449.8 1235.2,435.3 1232,430Z" fill="#f4c6b8" stroke="#f4c6b8" stroke-width="26" stroke-linejoin="round"/>
<path d="M1135,470C1139.2,475.8 1149.5,490.3 1160,505C1170.5,519.7 1183.8,539.8 1198,558C1212.2,576.2 1228.3,594.8 1245,614C1261.7,633.2 1281.3,656.3 1298,673C1314.7,689.7 1327.3,700.2 1345,714C1362.7,727.8 1384.3,743.2 1404,756C1423.7,768.8 1445.8,782.7 1463,791C1480.2,799.3 1493.3,803.2 1507,806C1520.7,808.8 1535.2,809.5 1545,808C1554.8,806.5 1560.8,802.2 1566,797C1571.2,791.8 1574.3,780.3 1576,777C1575,772.2 1575.5,757.8 1570,748C1564.5,738.2 1554.8,727.5 1543,718C1531.2,708.5 1514.8,700 1499,691C1483.2,682 1463.8,673.8 1448,664C1432.2,654.2 1418.7,643.5 1404,632C1389.3,620.5 1374.7,608.8 1360,595C1345.3,581.2 1329.3,564.3 1316,549C1302.7,533.7 1290.8,517.5 1280,503C1269.2,488.5 1259,474.2 1251,462C1243,449.8 1235.2,435.3 1232,430Z" fill="none" stroke="#d99383" stroke-width="28.5" stroke-linejoin="round" opacity="0" />
<g clip-path="url(#ceff)">
<path d="M1135,470C1139.2,475.8 1149.5,490.3 1160,505C1170.5,519.7 1183.8,539.8 1198,558C1212.2,576.2 1228.3,594.8 1245,614C1261.7,633.2 1281.3,656.3 1298,673C1314.7,689.7 1327.3,700.2 1345,714C1362.7,727.8 1384.3,743.2 1404,756C1423.7,768.8 1445.8,782.7 1463,791C1480.2,799.3 1493.3,803.2 1507,806C1520.7,808.8 1535.2,809.5 1545,808C1554.8,806.5 1560.8,802.2 1566,797C1571.2,791.8 1574.3,780.3 1576,777C1575,772.2 1575.5,757.8 1570,748C1564.5,738.2 1554.8,727.5 1543,718C1531.2,708.5 1514.8,700 1499,691C1483.2,682 1463.8,673.8 1448,664C1432.2,654.2 1418.7,643.5 1404,632C1389.3,620.5 1374.7,608.8 1360,595C1345.3,581.2 1329.3,564.3 1316,549C1302.7,533.7 1290.8,517.5 1280,503C1269.2,488.5 1259,474.2 1251,462C1243,449.8 1235.2,435.3 1232,430Z" fill="#eeb3a3"/>
<g fill="none" stroke="#a8463a" stroke-opacity="0.050" stroke-linecap="round" stroke-linejoin="round"><use href="#ss1" stroke-width="175"/><use href="#ss1" stroke-width="168.3"/><use href="#ss1" stroke-width="161.5"/><use href="#ss1" stroke-width="154.8"/><use href="#ss1" stroke-width="148.1"/><use href="#ss1" stroke-width="141.3"/><use href="#ss1" stroke-width="134.6"/><use href="#ss1" stroke-width="127.9"/><use href="#ss1" stroke-width="121.2"/><use href="#ss1" stroke-width="114.4"/><use href="#ss1" stroke-width="107.7"/><use href="#ss1" stroke-width="101"/><use href="#ss1" stroke-width="94.2"/><use href="#ss1" stroke-width="87.5"/><use href="#ss1" stroke-width="80.8"/><use href="#ss1" stroke-width="74"/><use href="#ss1" stroke-width="67.3"/><use href="#ss1" stroke-width="60.6"/><use href="#ss1" stroke-width="53.8"/><use href="#ss1" stroke-width="47.1"/><use href="#ss1" stroke-width="40.4"/><use href="#ss1" stroke-width="33.7"/><use href="#ss1" stroke-width="26.9"/><use href="#ss1" stroke-width="20.2"/><use href="#ss1" stroke-width="13.5"/><use href="#ss1" stroke-width="6.7"/></g>
<circle cx="1535" cy="740" r="185" fill="url(#efftip)"/>
</g>
<path d="M1135,470C1139.2,475.8 1149.5,490.3 1160,505C1170.5,519.7 1183.8,539.8 1198,558C1212.2,576.2 1228.3,594.8 1245,614C1261.7,633.2 1281.3,656.3 1298,673C1314.7,689.7 1327.3,700.2 1345,714C1362.7,727.8 1384.3,743.2 1404,756C1423.7,768.8 1445.8,782.7 1463,791C1480.2,799.3 1493.3,803.2 1507,806C1520.7,808.8 1535.2,809.5 1545,808C1554.8,806.5 1560.8,802.2 1566,797C1571.2,791.8 1574.3,780.3 1576,777C1575,772.2 1575.5,757.8 1570,748C1564.5,738.2 1554.8,727.5 1543,718C1531.2,708.5 1514.8,700 1499,691C1483.2,682 1463.8,673.8 1448,664C1432.2,654.2 1418.7,643.5 1404,632C1389.3,620.5 1374.7,608.8 1360,595C1345.3,581.2 1329.3,564.3 1316,549C1302.7,533.7 1290.8,517.5 1280,503C1269.2,488.5 1259,474.2 1251,462C1243,449.8 1235.2,435.3 1232,430Z" fill="none" stroke="#c0705f" stroke-width="1.6" opacity="0.8"/>
<ellipse cx="1129.7" cy="473.8" rx="5.2" ry="3.4" fill="#5b3e6e" transform="rotate(54.5 1129.7 473.8)" opacity="0.9"/>
<path d="M1144.1,484.4 L1134.7,491.1" fill="none" stroke="#e3a898" stroke-width="1.2" opacity="0.8"/>
<ellipse cx="1149.5" cy="501.5" rx="5.2" ry="3.4" fill="#5b3e6e" transform="rotate(54.4 1149.5 501.5)" opacity="0.9"/>
<path d="M1163.8,512.1 L1154.5,518.8" fill="none" stroke="#e3a898" stroke-width="1.2" opacity="0.8"/>
<ellipse cx="1169" cy="529.2" rx="5.2" ry="3.4" fill="#5b3e6e" transform="rotate(55.1 1169 529.2)" opacity="0.9"/>
<path d="M1183.2,540 L1173.8,546.6" fill="none" stroke="#e3a898" stroke-width="1.2" opacity="0.8"/>
<ellipse cx="1189" cy="557" rx="5.2" ry="3.4" fill="#5b3e6e" transform="rotate(52.9 1189 557)" opacity="0.9"/>
<path d="M1203.7,567.2 L1194.5,574.2" fill="none" stroke="#e3a898" stroke-width="1.2" opacity="0.8"/>
<ellipse cx="1210.5" cy="583.7" rx="5.2" ry="3.4" fill="#5b3e6e" transform="rotate(50.1 1210.5 583.7)" opacity="0.9"/>
<path d="M1225.6,593.3 L1216.8,600.6" fill="none" stroke="#e3a898" stroke-width="1.2" opacity="0.8"/>
<ellipse cx="1232.6" cy="609.7" rx="5.2" ry="3.4" fill="#5b3e6e" transform="rotate(49.1 1232.6 609.7)" opacity="0.9"/>
<path d="M1247.9,618.9 L1239.2,626.5" fill="none" stroke="#e3a898" stroke-width="1.2" opacity="0.8"/>
<ellipse cx="1254.9" cy="635.4" rx="5.2" ry="3.4" fill="#5b3e6e" transform="rotate(49 1254.9 635.4)" opacity="0.9"/>
<path d="M1270.2,644.6 L1261.5,652.1" fill="none" stroke="#e3a898" stroke-width="1.2" opacity="0.8"/>
<ellipse cx="1277.6" cy="661" rx="5.2" ry="3.4" fill="#5b3e6e" transform="rotate(47.5 1277.6 661)" opacity="0.9"/>
<path d="M1293.1,669.8 L1284.7,677.5" fill="none" stroke="#e3a898" stroke-width="1.2" opacity="0.8"/>
<ellipse cx="1301.6" cy="685.6" rx="5.2" ry="3.4" fill="#5b3e6e" transform="rotate(43.8 1301.6 685.6)" opacity="0.9"/>
<path d="M1317.7,693.4 L1309.7,701.7" fill="none" stroke="#e3a898" stroke-width="1.2" opacity="0.8"/>
<ellipse cx="1327.5" cy="708.4" rx="5.2" ry="3.4" fill="#5b3e6e" transform="rotate(39.2 1327.5 708.4)" opacity="0.9"/>
<path d="M1344.2,714.9 L1336.9,723.8" fill="none" stroke="#e3a898" stroke-width="1.2" opacity="0.8"/>
<ellipse cx="1354.6" cy="729.5" rx="5.2" ry="3.4" fill="#5b3e6e" transform="rotate(36.8 1354.6 729.5)" opacity="0.9"/>
<path d="M1371.5,735.2 L1364.6,744.4" fill="none" stroke="#e3a898" stroke-width="1.2" opacity="0.8"/>
<ellipse cx="1382.4" cy="749.4" rx="5.2" ry="3.4" fill="#5b3e6e" transform="rotate(34.4 1382.4 749.4)" opacity="0.9"/>
<path d="M1399.6,754.4 L1393.1,763.9" fill="none" stroke="#e3a898" stroke-width="1.2" opacity="0.8"/>
<ellipse cx="1411" cy="768.2" rx="5.2" ry="3.4" fill="#5b3e6e" transform="rotate(32.7 1411 768.2)" opacity="0.9"/>
<path d="M1428.2,772.8 L1422,782.5" fill="none" stroke="#e3a898" stroke-width="1.2" opacity="0.8"/>
<ellipse cx="1440.2" cy="786.1" rx="5.2" ry="3.4" fill="#5b3e6e" transform="rotate(29.9 1440.2 786.1)" opacity="0.9"/>
<path d="M1457.7,789.9 L1452,799.8" fill="none" stroke="#e3a898" stroke-width="1.2" opacity="0.8"/>
<ellipse cx="1471.3" cy="801.9" rx="5.2" ry="3.4" fill="#5b3e6e" transform="rotate(22.7 1471.3 801.9)" opacity="0.9"/>
<path d="M1489.1,803.3 L1484.6,814" fill="none" stroke="#e3a898" stroke-width="1.2" opacity="0.8"/>
<ellipse cx="1504.9" cy="812.2" rx="5.2" ry="3.4" fill="#5b3e6e" transform="rotate(12 1504.9 812.2)" opacity="0.9"/>
<path d="M1522.6,810.3 L1520.3,821.6" fill="none" stroke="#e3a898" stroke-width="1.2" opacity="0.8"/>
<ellipse cx="1540.5" cy="815" rx="5.2" ry="3.4" fill="#5b3e6e" transform="rotate(-4.2 1540.5 815)" opacity="0.9"/>
<path d="M1557,808.3 L1557.9,819.8" fill="none" stroke="#e3a898" stroke-width="1.2" opacity="0.8"/>
<ellipse cx="1574.3" cy="797.4" rx="5.2" ry="3.4" fill="#5b3e6e" transform="rotate(-51.6 1574.3 797.4)" opacity="0.9"/>
<path d="M1580.5,780.7 L1589.6,787.8" fill="none" stroke="#e3a898" stroke-width="1.2" opacity="0.8"/>
<ellipse cx="1581.2" cy="759.6" rx="5.2" ry="3.4" fill="#5b3e6e" transform="rotate(-103.3 1581.2 759.6)" opacity="0.9"/>
<path d="M1572,744.3 L1583.2,741.7" fill="none" stroke="#e3a898" stroke-width="1.2" opacity="0.8"/>
<ellipse cx="1562.9" cy="727.6" rx="5.2" ry="3.4" fill="#5b3e6e" transform="rotate(-132.7 1562.9 727.6)" opacity="0.9"/>
<path d="M1547.3,718.9 L1555.8,711.1" fill="none" stroke="#e3a898" stroke-width="1.2" opacity="0.8"/>
<ellipse cx="1535.7" cy="704.8" rx="5.2" ry="3.4" fill="#5b3e6e" transform="rotate(-147 1535.7 704.8)" opacity="0.9"/>
<path d="M1518.4,700.2 L1524.7,690.5" fill="none" stroke="#e3a898" stroke-width="1.2" opacity="0.8"/>
<ellipse cx="1505.9" cy="687.5" rx="5.2" ry="3.4" fill="#5b3e6e" transform="rotate(-150.7 1505.9 687.5)" opacity="0.9"/>
<path d="M1488.4,683.9 L1494.1,673.9" fill="none" stroke="#e3a898" stroke-width="1.2" opacity="0.8"/>
<ellipse cx="1475.6" cy="671.6" rx="5.2" ry="3.4" fill="#5b3e6e" transform="rotate(-153.3 1475.6 671.6)" opacity="0.9"/>
<path d="M1457.9,668.9 L1463.1,658.6" fill="none" stroke="#e3a898" stroke-width="1.2" opacity="0.8"/>
<ellipse cx="1446.5" cy="655.3" rx="5.2" ry="3.4" fill="#5b3e6e" transform="rotate(-147.1 1446.5 655.3)" opacity="0.9"/>
<path d="M1429.3,650.7 L1435.5,641.1" fill="none" stroke="#e3a898" stroke-width="1.2" opacity="0.8"/>
<ellipse cx="1419.4" cy="635.8" rx="5.2" ry="3.4" fill="#5b3e6e" transform="rotate(-142.3 1419.4 635.8)" opacity="0.9"/>
<path d="M1402.6,629.7 L1409.6,620.6" fill="none" stroke="#e3a898" stroke-width="1.2" opacity="0.8"/>
<ellipse cx="1392.8" cy="614.8" rx="5.2" ry="3.4" fill="#5b3e6e" transform="rotate(-141.1 1392.8 614.8)" opacity="0.9"/>
<path d="M1376.1,608.4 L1383.3,599.5" fill="none" stroke="#e3a898" stroke-width="1.2" opacity="0.8"/>
<ellipse cx="1367.3" cy="592.9" rx="5.2" ry="3.4" fill="#5b3e6e" transform="rotate(-137.5 1367.3 592.9)" opacity="0.9"/>
<path d="M1351.1,585.5 L1358.8,577" fill="none" stroke="#e3a898" stroke-width="1.2" opacity="0.8"/>
<ellipse cx="1343.4" cy="569.3" rx="5.2" ry="3.4" fill="#5b3e6e" transform="rotate(-133.8 1343.4 569.3)" opacity="0.9"/>
<path d="M1327.7,560.9 L1336,552.9" fill="none" stroke="#e3a898" stroke-width="1.2" opacity="0.8"/>
<ellipse cx="1320.7" cy="544.5" rx="5.2" ry="3.4" fill="#5b3e6e" transform="rotate(-130.7 1320.7 544.5)" opacity="0.9"/>
<path d="M1305.5,535.2 L1314.2,527.7" fill="none" stroke="#e3a898" stroke-width="1.2" opacity="0.8"/>
<ellipse cx="1299.6" cy="518.4" rx="5.2" ry="3.4" fill="#5b3e6e" transform="rotate(-127.2 1299.6 518.4)" opacity="0.9"/>
<path d="M1285,508.1 L1294.1,501.2" fill="none" stroke="#e3a898" stroke-width="1.2" opacity="0.8"/>
<ellipse cx="1279.3" cy="491.2" rx="5.2" ry="3.4" fill="#5b3e6e" transform="rotate(-126.3 1279.3 491.2)" opacity="0.9"/>
<path d="M1264.8,480.8 L1274.1,473.9" fill="none" stroke="#e3a898" stroke-width="1.2" opacity="0.8"/>
<ellipse cx="1259.9" cy="463.6" rx="5.2" ry="3.4" fill="#5b3e6e" transform="rotate(-124 1259.9 463.6)" opacity="0.9"/>
<path d="M1245.8,452.6 L1255.4,446.2" fill="none" stroke="#e3a898" stroke-width="1.2" opacity="0.8"/>
<ellipse cx="1242.4" cy="435.1" rx="5.2" ry="3.4" fill="#5b3e6e" transform="rotate(-119.6 1242.4 435.1)" opacity="0.9"/>
<path d="M1229.2,423 L1239.2,417.3" fill="none" stroke="#e3a898" stroke-width="1.2" opacity="0.8"/>
</g>
<g mask="url(#maff)">
<ellipse cx="1186.5" cy="1239.2" rx="12" ry="8" transform="rotate(-75.5 1186.5 1239.2)" fill="#e5a878" stroke="#c9805f" stroke-width="1.6"/>
<ellipse cx="1191.8" cy="1218.9" rx="12" ry="8" transform="rotate(-75.4 1191.8 1218.9)" fill="#e5a878" stroke="#c9805f" stroke-width="1.6"/>
<ellipse cx="1197.2" cy="1198.6" rx="12" ry="8" transform="rotate(-74.7 1197.2 1198.6)" fill="#e5a878" stroke="#c9805f" stroke-width="1.6"/>
<ellipse cx="1203.1" cy="1178.4" rx="12" ry="8" transform="rotate(-72.5 1203.1 1178.4)" fill="#e5a878" stroke="#c9805f" stroke-width="1.6"/>
<ellipse cx="1209.7" cy="1158.5" rx="12" ry="8" transform="rotate(-70.4 1209.7 1158.5)" fill="#e5a878" stroke="#c9805f" stroke-width="1.6"/>
<ellipse cx="1217.4" cy="1139" rx="12" ry="8" transform="rotate(-66.8 1217.4 1139)" fill="#e5a878" stroke="#c9805f" stroke-width="1.6"/>
<ellipse cx="1226" cy="1119.8" rx="12" ry="8" transform="rotate(-65.1 1226 1119.8)" fill="#e5a878" stroke="#c9805f" stroke-width="1.6"/>
<ellipse cx="1235" cy="1100.8" rx="12" ry="8" transform="rotate(-64 1235 1100.8)" fill="#e5a878" stroke="#c9805f" stroke-width="1.6"/>
<ellipse cx="1244.4" cy="1082.1" rx="12" ry="8" transform="rotate(-62.9 1244.4 1082.1)" fill="#e5a878" stroke="#c9805f" stroke-width="1.6"/>
<ellipse cx="1254.3" cy="1063.5" rx="12" ry="8" transform="rotate(-61.3 1254.3 1063.5)" fill="#e5a878" stroke="#c9805f" stroke-width="1.6"/>
<ellipse cx="1264.4" cy="1045.1" rx="12" ry="8" transform="rotate(-60.6 1264.4 1045.1)" fill="#e5a878" stroke="#c9805f" stroke-width="1.6"/>
<ellipse cx="1274.9" cy="1026.9" rx="12" ry="8" transform="rotate(-59.3 1274.9 1026.9)" fill="#e5a878" stroke="#c9805f" stroke-width="1.6"/>
<ellipse cx="1285.9" cy="1009" rx="12" ry="8" transform="rotate(-57.3 1285.9 1009)" fill="#e5a878" stroke="#c9805f" stroke-width="1.6"/>
<ellipse cx="1297.7" cy="991.6" rx="12" ry="8" transform="rotate(-54.7 1297.7 991.6)" fill="#e5a878" stroke="#c9805f" stroke-width="1.6"/>
<ellipse cx="1310.1" cy="974.7" rx="12" ry="8" transform="rotate(-53 1310.1 974.7)" fill="#e5a878" stroke="#c9805f" stroke-width="1.6"/>
<ellipse cx="1323.2" cy="958.3" rx="12" ry="8" transform="rotate(-49.7 1323.2 958.3)" fill="#e5a878" stroke="#c9805f" stroke-width="1.6"/>
<ellipse cx="1337.3" cy="942.7" rx="12" ry="8" transform="rotate(-46.3 1337.3 942.7)" fill="#e5a878" stroke="#c9805f" stroke-width="1.6"/>
<ellipse cx="1352.4" cy="928.1" rx="12" ry="8" transform="rotate(-42.6 1352.4 928.1)" fill="#e5a878" stroke="#c9805f" stroke-width="1.6"/>
<ellipse cx="1368.3" cy="914.5" rx="12" ry="8" transform="rotate(-39.5 1368.3 914.5)" fill="#e5a878" stroke="#c9805f" stroke-width="1.6"/>
<ellipse cx="1384.8" cy="901.5" rx="12" ry="8" transform="rotate(-37.1 1384.8 901.5)" fill="#e5a878" stroke="#c9805f" stroke-width="1.6"/>
<ellipse cx="1401.9" cy="889.2" rx="12" ry="8" transform="rotate(-35 1401.9 889.2)" fill="#e5a878" stroke="#c9805f" stroke-width="1.6"/>
<ellipse cx="1419.3" cy="877.5" rx="12" ry="8" transform="rotate(-33.3 1419.3 877.5)" fill="#e5a878" stroke="#c9805f" stroke-width="1.6"/>
<ellipse cx="1437" cy="866.3" rx="12" ry="8" transform="rotate(-30.9 1437 866.3)" fill="#e5a878" stroke="#c9805f" stroke-width="1.6"/>
<ellipse cx="1455.3" cy="855.9" rx="12" ry="8" transform="rotate(-27.7 1455.3 855.9)" fill="#e5a878" stroke="#c9805f" stroke-width="1.6"/>
<ellipse cx="1474.2" cy="846.8" rx="12" ry="8" transform="rotate(-23.1 1474.2 846.8)" fill="#e5a878" stroke="#c9805f" stroke-width="1.6"/>
<ellipse cx="1493.9" cy="839.6" rx="12" ry="8" transform="rotate(-17.7 1493.9 839.6)" fill="#e5a878" stroke="#c9805f" stroke-width="1.6"/>
<ellipse cx="1514.2" cy="834.4" rx="12" ry="8" transform="rotate(-11.7 1514.2 834.4)" fill="#e5a878" stroke="#c9805f" stroke-width="1.6"/>
<ellipse cx="1535" cy="831.2" rx="12" ry="8" transform="rotate(-6.2 1535 831.2)" fill="#e5a878" stroke="#c9805f" stroke-width="1.6"/>
<ellipse cx="1555.9" cy="829.8" rx="12" ry="8" transform="rotate(-1.1 1555.9 829.8)" fill="#e5a878" stroke="#c9805f" stroke-width="1.6"/>
<ellipse cx="1576.9" cy="830.4" rx="12" ry="8" transform="rotate(4.5 1576.9 830.4)" fill="#e5a878" stroke="#c9805f" stroke-width="1.6"/>
<ellipse cx="1597.8" cy="832.7" rx="12" ry="8" transform="rotate(8.4 1597.8 832.7)" fill="#e5a878" stroke="#c9805f" stroke-width="1.6"/>
<ellipse cx="1618.4" cy="836.6" rx="12" ry="8" transform="rotate(12.5 1618.4 836.6)" fill="#e5a878" stroke="#c9805f" stroke-width="1.6"/>
<ellipse cx="1638.8" cy="841.8" rx="12" ry="8" transform="rotate(16.2 1638.8 841.8)" fill="#e5a878" stroke="#c9805f" stroke-width="1.6"/>
<ellipse cx="1658.8" cy="848.1" rx="12" ry="8" transform="rotate(19.5 1658.8 848.1)" fill="#e5a878" stroke="#c9805f" stroke-width="1.6"/>
<ellipse cx="1678.3" cy="855.9" rx="12" ry="8" transform="rotate(24.2 1678.3 855.9)" fill="#e5a878" stroke="#c9805f" stroke-width="1.6"/>
<ellipse cx="1696.5" cy="866.3" rx="12" ry="8" transform="rotate(36.6 1696.5 866.3)" fill="#e5a878" stroke="#c9805f" stroke-width="1.6"/>
<ellipse cx="1712.1" cy="880.2" rx="12" ry="8" transform="rotate(47 1712.1 880.2)" fill="#e5a878" stroke="#c9805f" stroke-width="1.6"/>
<ellipse cx="1724.5" cy="897.2" rx="12" ry="8" transform="rotate(59.8 1724.5 897.2)" fill="#e5a878" stroke="#c9805f" stroke-width="1.6"/>
<ellipse cx="1730.2" cy="917.1" rx="12" ry="8" transform="rotate(88.7 1730.2 917.1)" fill="#e5a878" stroke="#c9805f" stroke-width="1.6"/>
<ellipse cx="1727.1" cy="937.8" rx="12" ry="8" transform="rotate(111.6 1727.1 937.8)" fill="#e5a878" stroke="#c9805f" stroke-width="1.6"/>
<ellipse cx="1714.8" cy="954.7" rx="12" ry="8" transform="rotate(132.3 1714.8 954.7)" fill="#e5a878" stroke="#c9805f" stroke-width="1.6"/>
<ellipse cx="1669.2" cy="976.6" rx="12" ry="8" transform="rotate(165.4 1669.2 976.6)" fill="#e5a878" stroke="#c9805f" stroke-width="1.6"/>
<ellipse cx="1649" cy="982.4" rx="12" ry="8" transform="rotate(161.7 1649 982.4)" fill="#e5a878" stroke="#c9805f" stroke-width="1.6"/>
<ellipse cx="1629.6" cy="990.3" rx="12" ry="8" transform="rotate(155.9 1629.6 990.3)" fill="#e5a878" stroke="#c9805f" stroke-width="1.6"/>
<ellipse cx="1610.6" cy="999.3" rx="12" ry="8" transform="rotate(152.6 1610.6 999.3)" fill="#e5a878" stroke="#c9805f" stroke-width="1.6"/>
<ellipse cx="1592.5" cy="1009.8" rx="12" ry="8" transform="rotate(147.2 1592.5 1009.8)" fill="#e5a878" stroke="#c9805f" stroke-width="1.6"/>
<ellipse cx="1575.7" cy="1022.4" rx="12" ry="8" transform="rotate(140.4 1575.7 1022.4)" fill="#e5a878" stroke="#c9805f" stroke-width="1.6"/>
<ellipse cx="1560" cy="1036.4" rx="12" ry="8" transform="rotate(136.4 1560 1036.4)" fill="#e5a878" stroke="#c9805f" stroke-width="1.6"/>
<ellipse cx="1545.1" cy="1051.2" rx="12" ry="8" transform="rotate(134 1545.1 1051.2)" fill="#e5a878" stroke="#c9805f" stroke-width="1.6"/>
<ellipse cx="1530.7" cy="1066.5" rx="12" ry="8" transform="rotate(133 1530.7 1066.5)" fill="#e5a878" stroke="#c9805f" stroke-width="1.6"/>
<ellipse cx="1516.5" cy="1081.9" rx="12" ry="8" transform="rotate(131.9 1516.5 1081.9)" fill="#e5a878" stroke="#c9805f" stroke-width="1.6"/>
<ellipse cx="1503" cy="1098" rx="12" ry="8" transform="rotate(127.7 1503 1098)" fill="#e5a878" stroke="#c9805f" stroke-width="1.6"/>
<ellipse cx="1491.3" cy="1115.5" rx="12" ry="8" transform="rotate(120.8 1491.3 1115.5)" fill="#e5a878" stroke="#c9805f" stroke-width="1.6"/>
<ellipse cx="1482" cy="1134.2" rx="12" ry="8" transform="rotate(113.4 1482 1134.2)" fill="#e5a878" stroke="#c9805f" stroke-width="1.6"/>
<ellipse cx="1474.2" cy="1153.8" rx="12" ry="8" transform="rotate(110.4 1474.2 1153.8)" fill="#e5a878" stroke="#c9805f" stroke-width="1.6"/>
<ellipse cx="1467.2" cy="1173.5" rx="12" ry="8" transform="rotate(109.6 1467.2 1173.5)" fill="#e5a878" stroke="#c9805f" stroke-width="1.6"/>
<ellipse cx="1459.9" cy="1193.3" rx="12" ry="8" transform="rotate(110.1 1459.9 1193.3)" fill="#e5a878" stroke="#c9805f" stroke-width="1.6"/>
<ellipse cx="1452.9" cy="1213" rx="12" ry="8" transform="rotate(109.1 1452.9 1213)" fill="#e5a878" stroke="#c9805f" stroke-width="1.6"/>
<ellipse cx="1446.2" cy="1232.9" rx="12" ry="8" transform="rotate(108.4 1446.2 1232.9)" fill="#e5a878" stroke="#c9805f" stroke-width="1.6"/>
<ellipse cx="1439.7" cy="1252.9" rx="12" ry="8" transform="rotate(107.7 1439.7 1252.9)" fill="#e5a878" stroke="#c9805f" stroke-width="1.6"/>
<ellipse cx="1433.5" cy="1273" rx="12" ry="8" transform="rotate(106.6 1433.5 1273)" fill="#e5a878" stroke="#c9805f" stroke-width="1.6"/>
<ellipse cx="1427.6" cy="1293.1" rx="12" ry="8" transform="rotate(105.9 1427.6 1293.1)" fill="#e5a878" stroke="#c9805f" stroke-width="1.6"/>
<ellipse cx="1421.9" cy="1313.3" rx="12" ry="8" transform="rotate(105.8 1421.9 1313.3)" fill="#e5a878" stroke="#c9805f" stroke-width="1.6"/>
<path d="M1185,1245C1187.8,1234.5 1196.2,1200.7 1202,1182C1207.8,1163.3 1211.3,1152.7 1220,1133C1228.7,1113.3 1241.3,1087.2 1254,1064C1266.7,1040.8 1280.8,1015.5 1296,994C1311.2,972.5 1325.8,953.5 1345,935C1364.2,916.5 1388.3,898.2 1411,883C1433.7,867.8 1457.8,852.8 1481,844C1504.2,835.2 1526.8,831.2 1550,830C1573.2,828.8 1596.7,831.7 1620,837C1643.3,842.3 1672.3,851.5 1690,862C1707.7,872.5 1719.7,887.8 1726,900C1732.3,912.2 1730.3,925.3 1728,935C1725.7,944.7 1714.7,954.2 1712,958C1705.8,960.8 1687.5,970.2 1675,975C1662.5,979.8 1652,980.3 1637,987C1622,993.7 1602.3,1002.2 1585,1015C1567.7,1027.8 1548.7,1047.2 1533,1064C1517.3,1080.8 1502.7,1095.8 1491,1116C1479.3,1136.2 1471.7,1161.8 1463,1185C1454.3,1208.2 1446.2,1232.5 1439,1255C1431.8,1277.5 1423.2,1309.2 1420,1320Z" fill="#e5a878"/>
<g clip-path="url(#coaff)"><rect x="1100" y="950" width="500" height="400" fill="url(#affsm)"/></g>
<ellipse cx="1200.1" cy="1238.6" rx="19" ry="11" fill="none" transform="rotate(-93.6 1200.1 1238.6)" stroke="#c9805f" stroke-width="1.3" opacity="0.55"/>
<ellipse cx="1198.2" cy="1238.1" rx="5" ry="3.6" fill="#7a4d78" transform="rotate(-55.6 1198.2 1238.1)" opacity="0.8"/>
<ellipse cx="1207.6" cy="1209.7" rx="19" ry="11" fill="none" transform="rotate(-56.9 1207.6 1209.7)" stroke="#c9805f" stroke-width="1.3" opacity="0.55"/>
<ellipse cx="1215.8" cy="1181.4" rx="19" ry="11" fill="none" transform="rotate(-90.5 1215.8 1181.4)" stroke="#c9805f" stroke-width="1.3" opacity="0.55"/>
<ellipse cx="1213.9" cy="1180.8" rx="5" ry="3.6" fill="#7a4d78" transform="rotate(-52.5 1213.9 1180.8)" opacity="0.8"/>
<ellipse cx="1225.3" cy="1153.9" rx="19" ry="11" fill="none" transform="rotate(-50.3 1225.3 1153.9)" stroke="#c9805f" stroke-width="1.3" opacity="0.55"/>
<ellipse cx="1237" cy="1127" rx="19" ry="11" fill="none" transform="rotate(-83.4 1237 1127)" stroke="#c9805f" stroke-width="1.3" opacity="0.55"/>
<ellipse cx="1235.1" cy="1126.2" rx="5" ry="3.6" fill="#7a4d78" transform="rotate(-45.4 1235.1 1126.2)" opacity="0.8"/>
<ellipse cx="1249.7" cy="1100.4" rx="19" ry="11" fill="none" transform="rotate(-45.5 1249.7 1100.4)" stroke="#c9805f" stroke-width="1.3" opacity="0.55"/>
<ellipse cx="1263.3" cy="1074.1" rx="19" ry="11" fill="none" transform="rotate(-79.5 1263.3 1074.1)" stroke="#c9805f" stroke-width="1.3" opacity="0.55"/>
<ellipse cx="1261.6" cy="1073.1" rx="5" ry="3.6" fill="#7a4d78" transform="rotate(-41.5 1261.6 1073.1)" opacity="0.8"/>
<ellipse cx="1277.7" cy="1048.1" rx="19" ry="11" fill="none" transform="rotate(-42.3 1277.7 1048.1)" stroke="#c9805f" stroke-width="1.3" opacity="0.55"/>
<ellipse cx="1292.7" cy="1022.6" rx="19" ry="11" fill="none" transform="rotate(-76.4 1292.7 1022.6)" stroke="#c9805f" stroke-width="1.3" opacity="0.55"/>
<ellipse cx="1291" cy="1021.6" rx="5" ry="3.6" fill="#7a4d78" transform="rotate(-38.4 1291 1021.6)" opacity="0.8"/>
<ellipse cx="1308.8" cy="998.4" rx="19" ry="11" fill="none" transform="rotate(-36.7 1308.8 998.4)" stroke="#c9805f" stroke-width="1.3" opacity="0.55"/>
<ellipse cx="1326.3" cy="975" rx="19" ry="11" fill="none" transform="rotate(-69.1 1326.3 975)" stroke="#c9805f" stroke-width="1.3" opacity="0.55"/>
<ellipse cx="1324.8" cy="973.7" rx="5" ry="3.6" fill="#7a4d78" transform="rotate(-31.1 1324.8 973.7)" opacity="0.8"/>
<ellipse cx="1345.3" cy="953.2" rx="19" ry="11" fill="none" transform="rotate(-28.3 1345.3 953.2)" stroke="#c9805f" stroke-width="1.3" opacity="0.55"/>
<ellipse cx="1366.1" cy="933.3" rx="19" ry="11" fill="none" transform="rotate(-59 1366.1 933.3)" stroke="#c9805f" stroke-width="1.3" opacity="0.55"/>
<ellipse cx="1364.8" cy="931.8" rx="5" ry="3.6" fill="#7a4d78" transform="rotate(-21 1364.8 931.8)" opacity="0.8"/>
<ellipse cx="1388.8" cy="914.8" rx="19" ry="11" fill="none" transform="rotate(-19.7 1388.8 914.8)" stroke="#c9805f" stroke-width="1.3" opacity="0.55"/>
<ellipse cx="1412.5" cy="897.7" rx="19" ry="11" fill="none" transform="rotate(-52.5 1412.5 897.7)" stroke="#c9805f" stroke-width="1.3" opacity="0.55"/>
<ellipse cx="1411.4" cy="896" rx="5" ry="3.6" fill="#7a4d78" transform="rotate(-14.5 1411.4 896)" opacity="0.8"/>
<ellipse cx="1437.1" cy="881.5" rx="19" ry="11" fill="none" transform="rotate(-14.1 1437.1 881.5)" stroke="#c9805f" stroke-width="1.3" opacity="0.55"/>
<ellipse cx="1462.2" cy="866.9" rx="19" ry="11" fill="none" transform="rotate(-45.7 1462.2 866.9)" stroke="#c9805f" stroke-width="1.3" opacity="0.55"/>
<ellipse cx="1461.3" cy="865.2" rx="5" ry="3.6" fill="#7a4d78" transform="rotate(-7.7 1461.3 865.2)" opacity="0.8"/>
<ellipse cx="1488" cy="855.3" rx="19" ry="11" fill="none" transform="rotate(-2.2 1488 855.3)" stroke="#c9805f" stroke-width="1.3" opacity="0.55"/>
<ellipse cx="1514.9" cy="847.5" rx="19" ry="11" fill="none" transform="rotate(-29.7 1514.9 847.5)" stroke="#c9805f" stroke-width="1.3" opacity="0.55"/>
<ellipse cx="1514.5" cy="845.6" rx="5" ry="3.6" fill="#7a4d78" transform="rotate(8.3 1514.5 845.6)" opacity="0.8"/>
<ellipse cx="1542.9" cy="843.5" rx="19" ry="11" fill="none" transform="rotate(13.7 1542.9 843.5)" stroke="#c9805f" stroke-width="1.3" opacity="0.55"/>
<ellipse cx="1571.1" cy="843" rx="19" ry="11" fill="none" transform="rotate(-14.6 1571.1 843)" stroke="#c9805f" stroke-width="1.3" opacity="0.55"/>
<ellipse cx="1571.3" cy="841" rx="5" ry="3.6" fill="#7a4d78" transform="rotate(23.4 1571.3 841)" opacity="0.8"/>
<ellipse cx="1599.6" cy="846.2" rx="19" ry="11" fill="none" transform="rotate(27.2 1599.6 846.2)" stroke="#c9805f" stroke-width="1.3" opacity="0.55"/>
<ellipse cx="1627.7" cy="852.3" rx="19" ry="11" fill="none" transform="rotate(-3.3 1627.7 852.3)" stroke="#c9805f" stroke-width="1.3" opacity="0.55"/>
<ellipse cx="1628.3" cy="850.4" rx="5" ry="3.6" fill="#7a4d78" transform="rotate(34.7 1628.3 850.4)" opacity="0.8"/>
<ellipse cx="1655.4" cy="860.7" rx="19" ry="11" fill="none" transform="rotate(37.5 1655.4 860.7)" stroke="#c9805f" stroke-width="1.3" opacity="0.55"/>
<ellipse cx="1680.8" cy="871.7" rx="19" ry="11" fill="none" transform="rotate(11.6 1680.8 871.7)" stroke="#c9805f" stroke-width="1.3" opacity="0.55"/>
<ellipse cx="1681.8" cy="870" rx="5" ry="3.6" fill="#7a4d78" transform="rotate(49.6 1681.8 870)" opacity="0.8"/>
<ellipse cx="1701.3" cy="887.6" rx="19" ry="11" fill="none" transform="rotate(65 1701.3 887.6)" stroke="#c9805f" stroke-width="1.3" opacity="0.55"/>
<ellipse cx="1715.5" cy="908.2" rx="19" ry="11" fill="none" transform="rotate(50.5 1715.5 908.2)" stroke="#c9805f" stroke-width="1.3" opacity="0.55"/>
<ellipse cx="1717.3" cy="907.5" rx="5" ry="3.6" fill="#7a4d78" transform="rotate(88.5 1717.3 907.5)" opacity="0.8"/>
<ellipse cx="1715.8" cy="930.3" rx="19" ry="11" fill="none" transform="rotate(120.1 1715.8 930.3)" stroke="#c9805f" stroke-width="1.3" opacity="0.55"/>
<ellipse cx="1701.8" cy="949.9" rx="19" ry="11" fill="none" transform="rotate(109.1 1701.8 949.9)" stroke="#c9805f" stroke-width="1.3" opacity="0.55"/>
<ellipse cx="1703.4" cy="951.1" rx="5" ry="3.6" fill="#7a4d78" transform="rotate(147.1 1703.4 951.1)" opacity="0.8"/>
<ellipse cx="1662" cy="965" rx="19" ry="11" fill="none" transform="rotate(147.3 1662 965)" stroke="#c9805f" stroke-width="1.3" opacity="0.55"/>
<ellipse cx="1662.6" cy="967" rx="5" ry="3.6" fill="#7a4d78" transform="rotate(185.3 1662.6 967)" opacity="0.8"/>
<ellipse cx="1631.6" cy="975.2" rx="19" ry="11" fill="none" transform="rotate(174.1 1631.6 975.2)" stroke="#c9805f" stroke-width="1.3" opacity="0.55"/>
<ellipse cx="1603.8" cy="988.2" rx="19" ry="11" fill="none" transform="rotate(134.6 1603.8 988.2)" stroke="#c9805f" stroke-width="1.3" opacity="0.55"/>
<ellipse cx="1604.7" cy="990" rx="5" ry="3.6" fill="#7a4d78" transform="rotate(172.6 1604.7 990)" opacity="0.8"/>
<ellipse cx="1576.4" cy="1005.2" rx="19" ry="11" fill="none" transform="rotate(160.8 1576.4 1005.2)" stroke="#c9805f" stroke-width="1.3" opacity="0.55"/>
<ellipse cx="1552.5" cy="1025.6" rx="19" ry="11" fill="none" transform="rotate(118.4 1552.5 1025.6)" stroke="#c9805f" stroke-width="1.3" opacity="0.55"/>
<ellipse cx="1553.9" cy="1027.1" rx="5" ry="3.6" fill="#7a4d78" transform="rotate(156.4 1553.9 1027.1)" opacity="0.8"/>
<ellipse cx="1530.9" cy="1047.3" rx="19" ry="11" fill="none" transform="rotate(151.6 1530.9 1047.3)" stroke="#c9805f" stroke-width="1.3" opacity="0.55"/>
<ellipse cx="1510.2" cy="1069.4" rx="19" ry="11" fill="none" transform="rotate(114.4 1510.2 1069.4)" stroke="#c9805f" stroke-width="1.3" opacity="0.55"/>
<ellipse cx="1511.7" cy="1070.8" rx="5" ry="3.6" fill="#7a4d78" transform="rotate(152.4 1511.7 1070.8)" opacity="0.8"/>
<ellipse cx="1490.2" cy="1093.5" rx="19" ry="11" fill="none" transform="rotate(144.5 1490.2 1093.5)" stroke="#c9805f" stroke-width="1.3" opacity="0.55"/>
<ellipse cx="1473.6" cy="1121.3" rx="19" ry="11" fill="none" transform="rotate(97.9 1473.6 1121.3)" stroke="#c9805f" stroke-width="1.3" opacity="0.55"/>
<ellipse cx="1475.4" cy="1122.2" rx="5" ry="3.6" fill="#7a4d78" transform="rotate(135.9 1475.4 1122.2)" opacity="0.8"/>
<ellipse cx="1461.7" cy="1150.3" rx="19" ry="11" fill="none" transform="rotate(128 1461.7 1150.3)" stroke="#c9805f" stroke-width="1.3" opacity="0.55"/>
<ellipse cx="1451.6" cy="1178.4" rx="19" ry="11" fill="none" transform="rotate(92.3 1451.6 1178.4)" stroke="#c9805f" stroke-width="1.3" opacity="0.55"/>
<ellipse cx="1453.4" cy="1179.1" rx="5" ry="3.6" fill="#7a4d78" transform="rotate(130.3 1453.4 1179.1)" opacity="0.8"/>
<ellipse cx="1441.3" cy="1206.9" rx="19" ry="11" fill="none" transform="rotate(127.3 1441.3 1206.9)" stroke="#c9805f" stroke-width="1.3" opacity="0.55"/>
<ellipse cx="1431.6" cy="1235.5" rx="19" ry="11" fill="none" transform="rotate(90.1 1431.6 1235.5)" stroke="#c9805f" stroke-width="1.3" opacity="0.55"/>
<ellipse cx="1433.5" cy="1236.2" rx="5" ry="3.6" fill="#7a4d78" transform="rotate(128.1 1433.5 1236.2)" opacity="0.8"/>
<ellipse cx="1422.5" cy="1264.4" rx="19" ry="11" fill="none" transform="rotate(124.9 1422.5 1264.4)" stroke="#c9805f" stroke-width="1.3" opacity="0.55"/>
<ellipse cx="1414" cy="1293.4" rx="19" ry="11" fill="none" transform="rotate(87.9 1414 1293.4)" stroke="#c9805f" stroke-width="1.3" opacity="0.55"/>
<ellipse cx="1416" cy="1294" rx="5" ry="3.6" fill="#7a4d78" transform="rotate(125.9 1416 1294)" opacity="0.8"/>
<path d="M1232,1290C1232.8,1281.3 1234.5,1258.3 1237,1238C1239.5,1217.7 1240,1192.5 1247,1168C1254,1143.5 1267.3,1114.2 1279,1091C1290.7,1067.8 1302.5,1049.8 1317,1029C1331.5,1008.2 1347.5,985.2 1366,966C1384.5,946.8 1406,927.8 1428,914C1450,900.2 1474.7,890 1498,883C1521.3,876 1544.8,873.8 1568,872C1591.2,870.2 1617.8,869 1637,872C1656.2,875 1672.3,882.8 1683,890C1693.7,897.2 1698,910.8 1701,915C1698.8,918.8 1698.7,931.2 1688,938C1677.3,944.8 1657,951 1637,956C1617,961 1588.3,961.7 1568,968C1547.7,974.3 1532.5,981 1515,994C1497.5,1007 1477.5,1028.7 1463,1046C1448.5,1063.3 1437.8,1077.7 1428,1098C1418.2,1118.3 1412,1144.7 1404,1168C1396,1191.3 1387,1214.3 1380,1238C1373,1261.7 1365,1298 1362,1310Z" fill="#f4c6b8" stroke="#f4c6b8" stroke-width="26" stroke-linejoin="round"/>
<path d="M1232,1290C1232.8,1281.3 1234.5,1258.3 1237,1238C1239.5,1217.7 1240,1192.5 1247,1168C1254,1143.5 1267.3,1114.2 1279,1091C1290.7,1067.8 1302.5,1049.8 1317,1029C1331.5,1008.2 1347.5,985.2 1366,966C1384.5,946.8 1406,927.8 1428,914C1450,900.2 1474.7,890 1498,883C1521.3,876 1544.8,873.8 1568,872C1591.2,870.2 1617.8,869 1637,872C1656.2,875 1672.3,882.8 1683,890C1693.7,897.2 1698,910.8 1701,915C1698.8,918.8 1698.7,931.2 1688,938C1677.3,944.8 1657,951 1637,956C1617,961 1588.3,961.7 1568,968C1547.7,974.3 1532.5,981 1515,994C1497.5,1007 1477.5,1028.7 1463,1046C1448.5,1063.3 1437.8,1077.7 1428,1098C1418.2,1118.3 1412,1144.7 1404,1168C1396,1191.3 1387,1214.3 1380,1238C1373,1261.7 1365,1298 1362,1310Z" fill="none" stroke="#d99383" stroke-width="28.5" stroke-linejoin="round" opacity="0" />
<g clip-path="url(#caff)">
<path d="M1232,1290C1232.8,1281.3 1234.5,1258.3 1237,1238C1239.5,1217.7 1240,1192.5 1247,1168C1254,1143.5 1267.3,1114.2 1279,1091C1290.7,1067.8 1302.5,1049.8 1317,1029C1331.5,1008.2 1347.5,985.2 1366,966C1384.5,946.8 1406,927.8 1428,914C1450,900.2 1474.7,890 1498,883C1521.3,876 1544.8,873.8 1568,872C1591.2,870.2 1617.8,869 1637,872C1656.2,875 1672.3,882.8 1683,890C1693.7,897.2 1698,910.8 1701,915C1698.8,918.8 1698.7,931.2 1688,938C1677.3,944.8 1657,951 1637,956C1617,961 1588.3,961.7 1568,968C1547.7,974.3 1532.5,981 1515,994C1497.5,1007 1477.5,1028.7 1463,1046C1448.5,1063.3 1437.8,1077.7 1428,1098C1418.2,1118.3 1412,1144.7 1404,1168C1396,1191.3 1387,1214.3 1380,1238C1373,1261.7 1365,1298 1362,1310Z" fill="#eeb0a0"/>
<g fill="none" stroke="#a64438" stroke-opacity="0.050" stroke-linecap="round" stroke-linejoin="round"><use href="#ss2" stroke-width="175"/><use href="#ss2" stroke-width="168.3"/><use href="#ss2" stroke-width="161.5"/><use href="#ss2" stroke-width="154.8"/><use href="#ss2" stroke-width="148.1"/><use href="#ss2" stroke-width="141.3"/><use href="#ss2" stroke-width="134.6"/><use href="#ss2" stroke-width="127.9"/><use href="#ss2" stroke-width="121.2"/><use href="#ss2" stroke-width="114.4"/><use href="#ss2" stroke-width="107.7"/><use href="#ss2" stroke-width="101"/><use href="#ss2" stroke-width="94.2"/><use href="#ss2" stroke-width="87.5"/><use href="#ss2" stroke-width="80.8"/><use href="#ss2" stroke-width="74"/><use href="#ss2" stroke-width="67.3"/><use href="#ss2" stroke-width="60.6"/><use href="#ss2" stroke-width="53.8"/><use href="#ss2" stroke-width="47.1"/><use href="#ss2" stroke-width="40.4"/><use href="#ss2" stroke-width="33.7"/><use href="#ss2" stroke-width="26.9"/><use href="#ss2" stroke-width="20.2"/><use href="#ss2" stroke-width="13.5"/><use href="#ss2" stroke-width="6.7"/></g>
<circle cx="1640" cy="892" r="185" fill="url(#afftip)"/>
</g>
<path d="M1232,1290C1232.8,1281.3 1234.5,1258.3 1237,1238C1239.5,1217.7 1240,1192.5 1247,1168C1254,1143.5 1267.3,1114.2 1279,1091C1290.7,1067.8 1302.5,1049.8 1317,1029C1331.5,1008.2 1347.5,985.2 1366,966C1384.5,946.8 1406,927.8 1428,914C1450,900.2 1474.7,890 1498,883C1521.3,876 1544.8,873.8 1568,872C1591.2,870.2 1617.8,869 1637,872C1656.2,875 1672.3,882.8 1683,890C1693.7,897.2 1698,910.8 1701,915C1698.8,918.8 1698.7,931.2 1688,938C1677.3,944.8 1657,951 1637,956C1617,961 1588.3,961.7 1568,968C1547.7,974.3 1532.5,981 1515,994C1497.5,1007 1477.5,1028.7 1463,1046C1448.5,1063.3 1437.8,1077.7 1428,1098C1418.2,1118.3 1412,1144.7 1404,1168C1396,1191.3 1387,1214.3 1380,1238C1373,1261.7 1365,1298 1362,1310Z" fill="none" stroke="#c0705f" stroke-width="1.6" opacity="0.8"/>
<ellipse cx="1225.5" cy="1289.4" rx="5.2" ry="3.4" fill="#5b3e6e" transform="rotate(-84.7 1225.5 1289.4)" opacity="0.9"/>
<path d="M1232.6,1273 L1221.1,1271.9" fill="none" stroke="#e3a898" stroke-width="1.2" opacity="0.8"/>
<ellipse cx="1228.6" cy="1255.5" rx="5.2" ry="3.4" fill="#5b3e6e" transform="rotate(-84.3 1228.6 1255.5)" opacity="0.9"/>
<path d="M1235.7,1239.1 L1224.3,1238" fill="none" stroke="#e3a898" stroke-width="1.2" opacity="0.8"/>
<ellipse cx="1232.1" cy="1221.7" rx="5.2" ry="3.4" fill="#5b3e6e" transform="rotate(-84.8 1232.1 1221.7)" opacity="0.9"/>
<path d="M1239.2,1205.3 L1227.7,1204.3" fill="none" stroke="#e3a898" stroke-width="1.2" opacity="0.8"/>
<ellipse cx="1236.1" cy="1187.5" rx="5.2" ry="3.4" fill="#5b3e6e" transform="rotate(-80.7 1236.1 1187.5)" opacity="0.9"/>
<path d="M1244.3,1171.6 L1232.9,1169.8" fill="none" stroke="#e3a898" stroke-width="1.2" opacity="0.8"/>
<ellipse cx="1244.8" cy="1153.6" rx="5.2" ry="3.4" fill="#5b3e6e" transform="rotate(-71.2 1244.8 1153.6)" opacity="0.9"/>
<path d="M1255.5,1139.3 L1244.6,1135.5" fill="none" stroke="#e3a898" stroke-width="1.2" opacity="0.8"/>
<ellipse cx="1257.4" cy="1121.5" rx="5.2" ry="3.4" fill="#5b3e6e" transform="rotate(-66.6 1257.4 1121.5)" opacity="0.9"/>
<path d="M1269.2,1108 L1258.7,1103.5" fill="none" stroke="#e3a898" stroke-width="1.2" opacity="0.8"/>
<ellipse cx="1272" cy="1090.4" rx="5.2" ry="3.4" fill="#5b3e6e" transform="rotate(-63.5 1272 1090.4)" opacity="0.9"/>
<path d="M1284.6,1077.6 L1274.3,1072.5" fill="none" stroke="#e3a898" stroke-width="1.2" opacity="0.8"/>
<ellipse cx="1288.7" cy="1060.2" rx="5.2" ry="3.4" fill="#5b3e6e" transform="rotate(-59 1288.7 1060.2)" opacity="0.9"/>
<path d="M1302.2,1048.4 L1292.3,1042.5" fill="none" stroke="#e3a898" stroke-width="1.2" opacity="0.8"/>
<ellipse cx="1307.5" cy="1031.4" rx="5.2" ry="3.4" fill="#5b3e6e" transform="rotate(-55.5 1307.5 1031.4)" opacity="0.9"/>
<path d="M1321.6,1020.5 L1312.2,1013.9" fill="none" stroke="#e3a898" stroke-width="1.2" opacity="0.8"/>
<ellipse cx="1327.1" cy="1003.4" rx="5.2" ry="3.4" fill="#5b3e6e" transform="rotate(-54.1 1327.1 1003.4)" opacity="0.9"/>
<path d="M1341.5,992.9 L1332.2,986.1" fill="none" stroke="#e3a898" stroke-width="1.2" opacity="0.8"/>
<ellipse cx="1348.2" cy="976.1" rx="5.2" ry="3.4" fill="#5b3e6e" transform="rotate(-49.7 1348.2 976.1)" opacity="0.9"/>
<path d="M1363.4,966.7 L1354.6,959.3" fill="none" stroke="#e3a898" stroke-width="1.2" opacity="0.8"/>
<ellipse cx="1371.9" cy="950.9" rx="5.2" ry="3.4" fill="#5b3e6e" transform="rotate(-44.4 1371.9 950.9)" opacity="0.9"/>
<path d="M1387.9,942.9 L1379.8,934.7" fill="none" stroke="#e3a898" stroke-width="1.2" opacity="0.8"/>
<ellipse cx="1397.7" cy="927.9" rx="5.2" ry="3.4" fill="#5b3e6e" transform="rotate(-39.1 1397.7 927.9)" opacity="0.9"/>
<path d="M1414.4,921.4 L1407.1,912.5" fill="none" stroke="#e3a898" stroke-width="1.2" opacity="0.8"/>
<ellipse cx="1426" cy="907.6" rx="5.2" ry="3.4" fill="#5b3e6e" transform="rotate(-31.5 1426 907.6)" opacity="0.9"/>
<path d="M1443.4,903.4 L1437.4,893.6" fill="none" stroke="#e3a898" stroke-width="1.2" opacity="0.8"/>
<ellipse cx="1456.8" cy="891.4" rx="5.2" ry="3.4" fill="#5b3e6e" transform="rotate(-24 1456.8 891.4)" opacity="0.9"/>
<path d="M1474.6,889.5 L1469.9,879" fill="none" stroke="#e3a898" stroke-width="1.2" opacity="0.8"/>
<ellipse cx="1489.2" cy="878.9" rx="5.2" ry="3.4" fill="#5b3e6e" transform="rotate(-17.9 1489.2 878.9)" opacity="0.9"/>
<path d="M1507.1,879 L1503.5,868" fill="none" stroke="#e3a898" stroke-width="1.2" opacity="0.8"/>
<ellipse cx="1523" cy="870.6" rx="5.2" ry="3.4" fill="#5b3e6e" transform="rotate(-10.2 1523 870.6)" opacity="0.9"/>
<path d="M1540.7,873 L1538.7,861.6" fill="none" stroke="#e3a898" stroke-width="1.2" opacity="0.8"/>
<ellipse cx="1557.3" cy="866.4" rx="5.2" ry="3.4" fill="#5b3e6e" transform="rotate(-5 1557.3 866.4)" opacity="0.9"/>
<path d="M1574.7,870.3 L1573.7,858.9" fill="none" stroke="#e3a898" stroke-width="1.2" opacity="0.8"/>
<ellipse cx="1591.6" cy="864" rx="5.2" ry="3.4" fill="#5b3e6e" transform="rotate(-2.3 1591.6 864)" opacity="0.9"/>
<path d="M1608.8,868.9 L1608.3,857.4" fill="none" stroke="#e3a898" stroke-width="1.2" opacity="0.8"/>
<ellipse cx="1626.3" cy="864.3" rx="5.2" ry="3.4" fill="#5b3e6e" transform="rotate(4.8 1626.3 864.3)" opacity="0.9"/>
<path d="M1642.8,871.2 L1643.8,859.7" fill="none" stroke="#e3a898" stroke-width="1.2" opacity="0.8"/>
<ellipse cx="1661.2" cy="871.7" rx="5.2" ry="3.4" fill="#5b3e6e" transform="rotate(20.2 1661.2 871.7)" opacity="0.9"/>
<path d="M1675.2,882.7 L1679.2,871.9" fill="none" stroke="#e3a898" stroke-width="1.2" opacity="0.8"/>
<ellipse cx="1692.7" cy="889.3" rx="5.2" ry="3.4" fill="#5b3e6e" transform="rotate(40.2 1692.7 889.3)" opacity="0.9"/>
<path d="M1702.1,904.5 L1709.6,895.7" fill="none" stroke="#e3a898" stroke-width="1.2" opacity="0.8"/>
<ellipse cx="1706.1" cy="926.4" rx="5.2" ry="3.4" fill="#5b3e6e" transform="rotate(110.8 1706.1 926.4)" opacity="0.9"/>
<path d="M1694.9,940.4 L1705.7,944.5" fill="none" stroke="#e3a898" stroke-width="1.2" opacity="0.8"/>
<ellipse cx="1676.6" cy="950.7" rx="5.2" ry="3.4" fill="#5b3e6e" transform="rotate(158.6 1676.6 950.7)" opacity="0.9"/>
<path d="M1658.8,951.8 L1663,962.5" fill="none" stroke="#e3a898" stroke-width="1.2" opacity="0.8"/>
<ellipse cx="1643.5" cy="961.1" rx="5.2" ry="3.4" fill="#5b3e6e" transform="rotate(165.4 1643.5 961.1)" opacity="0.9"/>
<path d="M1625.6,960 L1628.5,971.2" fill="none" stroke="#e3a898" stroke-width="1.2" opacity="0.8"/>
<ellipse cx="1609.2" cy="967.2" rx="5.2" ry="3.4" fill="#5b3e6e" transform="rotate(172.6 1609.2 967.2)" opacity="0.9"/>
<path d="M1591.6,963.9 L1593.1,975.3" fill="none" stroke="#e3a898" stroke-width="1.2" opacity="0.8"/>
<ellipse cx="1576.4" cy="972.5" rx="5.2" ry="3.4" fill="#5b3e6e" transform="rotate(166.1 1576.4 972.5)" opacity="0.9"/>
<path d="M1558.6,971.2 L1561.3,982.4" fill="none" stroke="#e3a898" stroke-width="1.2" opacity="0.8"/>
<ellipse cx="1545.5" cy="983.3" rx="5.2" ry="3.4" fill="#5b3e6e" transform="rotate(155.1 1545.5 983.3)" opacity="0.9"/>
<path d="M1527.8,985.5 L1532.6,995.9" fill="none" stroke="#e3a898" stroke-width="1.2" opacity="0.8"/>
<ellipse cx="1517.7" cy="1000.1" rx="5.2" ry="3.4" fill="#5b3e6e" transform="rotate(142.5 1517.7 1000.1)" opacity="0.9"/>
<path d="M1500.9,1006.1 L1507.9,1015.2" fill="none" stroke="#e3a898" stroke-width="1.2" opacity="0.8"/>
<ellipse cx="1493.2" cy="1022.3" rx="5.2" ry="3.4" fill="#5b3e6e" transform="rotate(134.7 1493.2 1022.3)" opacity="0.9"/>
<path d="M1477.3,1030.5 L1485.5,1038.6" fill="none" stroke="#e3a898" stroke-width="1.2" opacity="0.8"/>
<ellipse cx="1470.6" cy="1047" rx="5.2" ry="3.4" fill="#5b3e6e" transform="rotate(130.1 1470.6 1047)" opacity="0.9"/>
<path d="M1455.5,1056.5 L1464.2,1063.9" fill="none" stroke="#e3a898" stroke-width="1.2" opacity="0.8"/>
<ellipse cx="1450" cy="1073.3" rx="5.2" ry="3.4" fill="#5b3e6e" transform="rotate(125 1450 1073.3)" opacity="0.9"/>
<path d="M1435.7,1084.1 L1445.1,1090.7" fill="none" stroke="#e3a898" stroke-width="1.2" opacity="0.8"/>
<ellipse cx="1433.5" cy="1101.7" rx="5.2" ry="3.4" fill="#5b3e6e" transform="rotate(114.9 1433.5 1101.7)" opacity="0.9"/>
<path d="M1421.3,1114.8 L1431.7,1119.6" fill="none" stroke="#e3a898" stroke-width="1.2" opacity="0.8"/>
<ellipse cx="1421.9" cy="1132.7" rx="5.2" ry="3.4" fill="#5b3e6e" transform="rotate(107.6 1421.9 1132.7)" opacity="0.9"/>
<path d="M1411.5,1147.3 L1422.4,1150.7" fill="none" stroke="#e3a898" stroke-width="1.2" opacity="0.8"/>
<ellipse cx="1411.8" cy="1165.2" rx="5.2" ry="3.4" fill="#5b3e6e" transform="rotate(107.9 1411.8 1165.2)" opacity="0.9"/>
<path d="M1401.3,1179.7 L1412.3,1183.2" fill="none" stroke="#e3a898" stroke-width="1.2" opacity="0.8"/>
<ellipse cx="1400.4" cy="1197.5" rx="5.2" ry="3.4" fill="#5b3e6e" transform="rotate(109.7 1400.4 1197.5)" opacity="0.9"/>
<path d="M1389.5,1211.6 L1400.4,1215.5" fill="none" stroke="#e3a898" stroke-width="1.2" opacity="0.8"/>
<ellipse cx="1389.5" cy="1229.4" rx="5.2" ry="3.4" fill="#5b3e6e" transform="rotate(107.8 1389.5 1229.4)" opacity="0.9"/>
<path d="M1379,1243.9 L1390,1247.5" fill="none" stroke="#e3a898" stroke-width="1.2" opacity="0.8"/>
<ellipse cx="1380.3" cy="1261.8" rx="5.2" ry="3.4" fill="#5b3e6e" transform="rotate(104.3 1380.3 1261.8)" opacity="0.9"/>
<path d="M1370.8,1276.9 L1381.9,1279.7" fill="none" stroke="#e3a898" stroke-width="1.2" opacity="0.8"/>
<ellipse cx="1372.3" cy="1294.7" rx="5.2" ry="3.4" fill="#5b3e6e" transform="rotate(103.2 1372.3 1294.7)" opacity="0.9"/>
<path d="M1363.1,1310 L1374.3,1312.6" fill="none" stroke="#e3a898" stroke-width="1.2" opacity="0.8"/>
</g>
<path d="M1580,700C1579,685.7 1580.2,662.7 1586,650C1591.8,637.3 1601.3,629.3 1615,624C1628.7,618.7 1651.2,618.7 1668,618C1684.8,617.3 1702.3,616.3 1716,620C1729.7,623.7 1740,632 1750,640C1760,648 1770.7,657.2 1776,668C1781.3,678.8 1782,692.2 1782,705C1782,717.8 1779.7,732.8 1776,745C1772.3,757.2 1769.3,770.2 1760,778C1750.7,785.8 1736.7,790.7 1720,792C1703.3,793.3 1677,790.3 1660,786C1643,781.7 1629.3,774.3 1618,766C1606.7,757.7 1598.3,747 1592,736C1585.7,725 1581,714.3 1580,700Z" fill="#f2cd70" stroke="#d29a3e" stroke-width="1.5"/>
<path d="M1730,600C1729.5,582.7 1734,567.7 1742,556C1750,544.3 1763.3,536.2 1778,530C1792.7,523.8 1811.3,519.7 1830,519C1848.7,518.3 1870.8,522.8 1890,526C1909.2,529.2 1929.7,532.3 1945,538C1960.3,543.7 1974.2,551.3 1982,560C1989.8,568.7 1992,579.2 1992,590C1992,600.8 1987.3,615.3 1982,625C1976.7,634.7 1968.7,641.3 1960,648C1951.3,654.7 1939.2,659.3 1930,665C1920.8,670.7 1918.3,677.8 1905,682C1891.7,686.2 1869.2,689.7 1850,690C1830.8,690.3 1807.5,689 1790,684C1772.5,679 1755,674 1745,660C1735,646 1730.5,617.3 1730,600Z" fill="#f2cd70" stroke="#d29a3e" stroke-width="1.5"/>
<path d="M1872,725C1872.7,712.8 1877.3,693.8 1884,682C1890.7,670.2 1899.3,661.7 1912,654C1924.7,646.3 1944.5,639.3 1960,636C1975.5,632.7 1988.3,630.3 2005,634C2021.7,637.7 2044.2,647 2060,658C2075.8,669 2091,688 2100,700C2109,712 2113.3,719.2 2114,730C2114.7,740.8 2110.5,755.3 2104,765C2097.5,774.7 2090.7,782.8 2075,788C2059.3,793.2 2030.8,795 2010,796C1989.2,797 1967.5,797 1950,794C1932.5,791 1916.7,784.5 1905,778C1893.3,771.5 1885.5,763.8 1880,755C1874.5,746.2 1871.3,737.2 1872,725Z" fill="#f2cd70" stroke="#d29a3e" stroke-width="1.5"/>
<path d="M1752,850C1752,837 1754,814.2 1762,802C1770,789.8 1783.7,782.3 1800,777C1816.3,771.7 1838.3,769.5 1860,770C1881.7,770.5 1906.7,773 1930,780C1953.3,787 1978.3,800 2000,812C2021.7,824 2043.7,839 2060,852C2076.3,865 2090.7,877.8 2098,890C2105.3,902.2 2106.7,914.2 2104,925C2101.3,935.8 2094.3,948.3 2082,955C2069.7,961.7 2047,963.8 2030,965C2013,966.2 2001.7,967 1980,962C1958.3,957 1923.3,944.5 1900,935C1876.7,925.5 1858.3,912.5 1840,905C1821.7,897.5 1803,894.2 1790,890C1777,885.8 1768.3,886.7 1762,880C1755.7,873.3 1752,863 1752,850Z" fill="#f2cd70" stroke="#d29a3e" stroke-width="1.5"/>
<path d="M1752,1050C1751.2,1034.2 1753.7,1015 1760,1000C1766.3,985 1776.7,970 1790,960C1803.3,950 1823.3,942.8 1840,940C1856.7,937.2 1874.2,940 1890,943C1905.8,946 1920.8,956.8 1935,958C1949.2,959.2 1960.8,951.7 1975,950C1989.2,948.3 2005.5,946.3 2020,948C2034.5,949.7 2056.7,951.3 2062,960C2067.3,968.7 2055,986.3 2052,1000C2049,1013.7 2049.3,1027.8 2044,1042C2038.7,1056.2 2030.7,1072.3 2020,1085C2009.3,1097.7 1992.5,1110.2 1980,1118C1967.5,1125.8 1955.8,1126.7 1945,1132C1934.2,1137.3 1925.8,1145.7 1915,1150C1904.2,1154.3 1892.5,1157.3 1880,1158C1867.5,1158.7 1854.2,1158.3 1840,1154C1825.8,1149.7 1807.5,1141.8 1795,1132C1782.5,1122.2 1772.2,1108.7 1765,1095C1757.8,1081.3 1752.8,1065.8 1752,1050Z" fill="#f2cd70" stroke="#d29a3e" stroke-width="1.5"/>
<path d="M1576,1070C1576.3,1057.8 1578.3,1042 1584,1032C1589.7,1022 1599,1015 1610,1010C1621,1005 1635,1001.7 1650,1002C1665,1002.3 1687,1005.7 1700,1012C1713,1018.3 1722,1027 1728,1040C1734,1053 1733.3,1073.3 1736,1090C1738.7,1106.7 1744.2,1125.8 1744,1140C1743.8,1154.2 1742.3,1167.5 1735,1175C1727.7,1182.5 1712.5,1184.5 1700,1185C1687.5,1185.5 1672.5,1182.2 1660,1178C1647.5,1173.8 1635,1167.2 1625,1160C1615,1152.8 1607.2,1144.2 1600,1135C1592.8,1125.8 1586,1115.8 1582,1105C1578,1094.2 1575.7,1082.2 1576,1070Z" fill="#f2cd70" stroke="#d29a3e" stroke-width="1.5"/>
<ellipse cx="1945" cy="585" rx="36" ry="52" fill="#f8dc8c" transform="rotate(-20 1945 585)" opacity="0.7" filter="url(#b4)"/>
<ellipse cx="1612" cy="660" rx="28" ry="40" fill="#f8dc8c" transform="rotate(30 1612 660)" opacity="0.7" filter="url(#b4)"/>
<ellipse cx="2015" cy="1030" rx="22" ry="55" fill="#f8dc8c" transform="rotate(12 2015 1030)" opacity="0.7" filter="url(#b4)"/>
<ellipse cx="1690" cy="1150" rx="45" ry="25" fill="#f8dc8c" transform="rotate(-10 1690 1150)" opacity="0.7" filter="url(#b4)"/>
<ellipse cx="2085" cy="735" rx="20" ry="45" fill="#f8dc8c" transform="rotate(-15 2085 735)" opacity="0.7" filter="url(#b4)"/>
<g clip-path="url(#p1clip)">
<path d="M1952,582 L1945.6,654.7" fill="none" stroke="#cf9548" stroke-width="4.8" opacity="0.85" stroke-linecap="round"/>
<path d="M1952,582 L1945.6,654.7" fill="none" stroke="#fbe8b4" stroke-width="2.8" stroke-linecap="round"/>
<path d="M1950.5,581.7 L1935.3,653.1" fill="none" stroke="#cf9548" stroke-width="4.8" opacity="0.85" stroke-linecap="round"/>
<path d="M1950.5,581.7 L1935.3,653.1" fill="none" stroke="#fbe8b4" stroke-width="2.8" stroke-linecap="round"/>
<path d="M1949.1,581.3 L1925.3,650.4" fill="none" stroke="#cf9548" stroke-width="4.8" opacity="0.85" stroke-linecap="round"/>
<path d="M1949.1,581.3 L1925.3,650.4" fill="none" stroke="#fbe8b4" stroke-width="2.8" stroke-linecap="round"/>
<path d="M1947.7,580.8 L1915.7,646.4" fill="none" stroke="#cf9548" stroke-width="4.8" opacity="0.85" stroke-linecap="round"/>
<path d="M1947.7,580.8 L1915.7,646.4" fill="none" stroke="#fbe8b4" stroke-width="2.8" stroke-linecap="round"/>
<path d="M1946.5,580.1 L1906.7,641.3" fill="none" stroke="#cf9548" stroke-width="4.8" opacity="0.85" stroke-linecap="round"/>
<path d="M1946.5,580.1 L1906.7,641.3" fill="none" stroke="#fbe8b4" stroke-width="2.8" stroke-linecap="round"/>
<path d="M1945.3,579.2 L1898.4,635.1" fill="none" stroke="#cf9548" stroke-width="4.8" opacity="0.85" stroke-linecap="round"/>
<path d="M1945.3,579.2 L1898.4,635.1" fill="none" stroke="#fbe8b4" stroke-width="2.8" stroke-linecap="round"/>
<path d="M1944.2,578.2 L1890.8,628" fill="none" stroke="#cf9548" stroke-width="4.8" opacity="0.85" stroke-linecap="round"/>
<path d="M1944.2,578.2 L1890.8,628" fill="none" stroke="#fbe8b4" stroke-width="2.8" stroke-linecap="round"/>
<path d="M1943.3,577.1 L1884.2,620" fill="none" stroke="#cf9548" stroke-width="4.8" opacity="0.85" stroke-linecap="round"/>
<path d="M1943.3,577.1 L1884.2,620" fill="none" stroke="#fbe8b4" stroke-width="2.8" stroke-linecap="round"/>
<path d="M1942.5,575.8 L1878.7,611.2" fill="none" stroke="#cf9548" stroke-width="4.8" opacity="0.85" stroke-linecap="round"/>
<path d="M1942.5,575.8 L1878.7,611.2" fill="none" stroke="#fbe8b4" stroke-width="2.8" stroke-linecap="round"/>
<path d="M1941.9,574.5 L1874.2,601.8" fill="none" stroke="#cf9548" stroke-width="4.8" opacity="0.85" stroke-linecap="round"/>
<path d="M1941.9,574.5 L1874.2,601.8" fill="none" stroke="#fbe8b4" stroke-width="2.8" stroke-linecap="round"/>
<path d="M1941.4,573.1 L1870.9,592" fill="none" stroke="#cf9548" stroke-width="4.8" opacity="0.85" stroke-linecap="round"/>
<path d="M1941.4,573.1 L1870.9,592" fill="none" stroke="#fbe8b4" stroke-width="2.8" stroke-linecap="round"/>
<path d="M1941.1,571.7 L1868.8,581.8" fill="none" stroke="#cf9548" stroke-width="4.8" opacity="0.85" stroke-linecap="round"/>
<path d="M1941.1,571.7 L1868.8,581.8" fill="none" stroke="#fbe8b4" stroke-width="2.8" stroke-linecap="round"/>
<path d="M1941,570.2 L1868,571.5" fill="none" stroke="#cf9548" stroke-width="4.8" opacity="0.85" stroke-linecap="round"/>
<path d="M1941,570.2 L1868,571.5" fill="none" stroke="#fbe8b4" stroke-width="2.8" stroke-linecap="round"/>
<path d="M1941.1,568.7 L1868.5,561.1" fill="none" stroke="#cf9548" stroke-width="4.8" opacity="0.85" stroke-linecap="round"/>
<path d="M1941.1,568.7 L1868.5,561.1" fill="none" stroke="#fbe8b4" stroke-width="2.8" stroke-linecap="round"/>
<path d="M1941.3,567.3 L1870.2,550.9" fill="none" stroke="#cf9548" stroke-width="4.8" opacity="0.85" stroke-linecap="round"/>
<path d="M1941.3,567.3 L1870.2,550.9" fill="none" stroke="#fbe8b4" stroke-width="2.8" stroke-linecap="round"/>
<path d="M1941.7,565.9 L1873.1,540.9" fill="none" stroke="#cf9548" stroke-width="4.8" opacity="0.85" stroke-linecap="round"/>
<path d="M1941.7,565.9 L1873.1,540.9" fill="none" stroke="#fbe8b4" stroke-width="2.8" stroke-linecap="round"/>
<path d="M1942.3,564.6 L1877.3,531.4" fill="none" stroke="#cf9548" stroke-width="4.8" opacity="0.85" stroke-linecap="round"/>
<path d="M1942.3,564.6 L1877.3,531.4" fill="none" stroke="#fbe8b4" stroke-width="2.8" stroke-linecap="round"/>
<path d="M1943.1,563.3 L1882.5,522.5" fill="none" stroke="#cf9548" stroke-width="4.8" opacity="0.85" stroke-linecap="round"/>
<path d="M1943.1,563.3 L1882.5,522.5" fill="none" stroke="#fbe8b4" stroke-width="2.8" stroke-linecap="round"/>
<path d="M1943.9,562.1 L1888.8,514.2" fill="none" stroke="#cf9548" stroke-width="4.8" opacity="0.85" stroke-linecap="round"/>
<path d="M1943.9,562.1 L1888.8,514.2" fill="none" stroke="#fbe8b4" stroke-width="2.8" stroke-linecap="round"/>
<path d="M1945,561.1 L1896.1,506.8" fill="none" stroke="#cf9548" stroke-width="4.8" opacity="0.85" stroke-linecap="round"/>
<path d="M1945,561.1 L1896.1,506.8" fill="none" stroke="#fbe8b4" stroke-width="2.8" stroke-linecap="round"/>
<path d="M1946.1,560.2 L1904.2,500.4" fill="none" stroke="#cf9548" stroke-width="4.8" opacity="0.85" stroke-linecap="round"/>
<path d="M1946.1,560.2 L1904.2,500.4" fill="none" stroke="#fbe8b4" stroke-width="2.8" stroke-linecap="round"/>
<path d="M1947.4,559.4 L1913.1,494.9" fill="none" stroke="#cf9548" stroke-width="4.8" opacity="0.85" stroke-linecap="round"/>
<path d="M1947.4,559.4 L1913.1,494.9" fill="none" stroke="#fbe8b4" stroke-width="2.8" stroke-linecap="round"/>
<path d="M1948.7,558.8 L1922.5,490.6" fill="none" stroke="#cf9548" stroke-width="4.8" opacity="0.85" stroke-linecap="round"/>
<path d="M1948.7,558.8 L1922.5,490.6" fill="none" stroke="#fbe8b4" stroke-width="2.8" stroke-linecap="round"/>
<path d="M1950.1,558.4 L1932.4,487.5" fill="none" stroke="#cf9548" stroke-width="4.8" opacity="0.85" stroke-linecap="round"/>
<path d="M1950.1,558.4 L1932.4,487.5" fill="none" stroke="#fbe8b4" stroke-width="2.8" stroke-linecap="round"/>
<path d="M1951.5,558.1 L1942.6,485.6" fill="none" stroke="#cf9548" stroke-width="4.8" opacity="0.85" stroke-linecap="round"/>
<path d="M1951.5,558.1 L1942.6,485.6" fill="none" stroke="#fbe8b4" stroke-width="2.8" stroke-linecap="round"/>
<path d="M1953,558 L1953,485" fill="none" stroke="#cf9548" stroke-width="4.8" opacity="0.85" stroke-linecap="round"/>
<path d="M1953,558 L1953,485" fill="none" stroke="#fbe8b4" stroke-width="2.8" stroke-linecap="round"/>
<path d="M1954.5,558.1 L1963.4,485.6" fill="none" stroke="#cf9548" stroke-width="4.8" opacity="0.85" stroke-linecap="round"/>
<path d="M1954.5,558.1 L1963.4,485.6" fill="none" stroke="#fbe8b4" stroke-width="2.8" stroke-linecap="round"/>
<path d="M1955.9,558.4 L1973.6,487.5" fill="none" stroke="#cf9548" stroke-width="4.8" opacity="0.85" stroke-linecap="round"/>
<path d="M1955.9,558.4 L1973.6,487.5" fill="none" stroke="#fbe8b4" stroke-width="2.8" stroke-linecap="round"/>
</g>
<path d="M1948,975C1951.3,967.7 1966.2,964.3 1975,966C1983.8,967.7 1997.2,974.3 2001,985C2004.8,995.7 2002.3,1017.5 1998,1030C1993.7,1042.5 1982.7,1057.5 1975,1060C1967.3,1062.5 1955.3,1053.3 1952,1045C1948.7,1036.7 1955.7,1021.7 1955,1010C1954.3,998.3 1944.7,982.3 1948,975Z" fill="#95a2d0" stroke="#7784b8" stroke-width="1.2"/>
<path d="M1960,795C1965,793 1985,799.7 2000,800C2015,800.3 2036.3,796 2050,797C2063.7,798 2077.3,800.2 2082,806C2086.7,811.8 2085,826.7 2078,832C2071,837.3 2053,839.7 2040,838C2027,836.3 2011.7,826.3 2000,822C1988.3,817.7 1976.7,816.5 1970,812C1963.3,807.5 1955,797 1960,795Z" fill="#b9c5e8" stroke="#8f9ccb" stroke-width="1.2"/>
<path d="M1727,985C1730.7,973.3 1752,959.2 1760,960C1768,960.8 1773.3,973.3 1775,990C1776.7,1006.7 1773.3,1040 1770,1060C1766.7,1080 1760.8,1105 1755,1110C1749.2,1115 1737.8,1103.3 1735,1090C1732.2,1076.7 1739.3,1047.5 1738,1030C1736.7,1012.5 1723.3,996.7 1727,985Z" fill="#9eaad5" stroke="#7f8cbe" stroke-width="1.2"/>
<path d="M1560,1000C1569.2,989.2 1589.2,985 1600,985C1610.8,985 1625,992.5 1625,1000C1625,1007.5 1608.3,1020 1600,1030C1591.7,1040 1582.5,1050 1575,1060C1567.5,1070 1560,1091.7 1555,1090C1550,1088.3 1544.2,1065 1545,1050C1545.8,1035 1550.8,1010.8 1560,1000Z" fill="#a9b5dc" stroke="#7f8cbe" stroke-width="1.2"/>
<path d="M1640,760C1636.7,752.5 1621.3,729.7 1620,715C1618.7,700.3 1624,683.2 1632,672C1640,660.8 1653.3,652.7 1668,648C1682.7,643.3 1705.5,642 1720,644C1734.5,646 1749.2,657.3 1755,660" fill="none" stroke="#c98650" stroke-width="27" stroke-linejoin="round" stroke-linecap="round" opacity="0.9"/>
<path d="M1640,760C1636.7,752.5 1621.3,729.7 1620,715C1618.7,700.3 1624,683.2 1632,672C1640,660.8 1653.3,652.7 1668,648C1682.7,643.3 1705.5,642 1720,644C1734.5,646 1749.2,657.3 1755,660" fill="none" stroke="#f4d49a" stroke-width="24" stroke-dasharray="3.4 2.4" stroke-linejoin="round"/>
<path d="M1625,714C1624.3,705 1627.3,695 1630,688C1632.7,681 1635.2,677 1641,672C1646.8,667 1656.5,661.2 1665,658C1673.5,654.8 1682.8,653.5 1692,653C1701.2,652.5 1711.2,653.5 1720,655C1728.8,656.5 1738.5,657 1745,662C1751.5,667 1755.7,678 1759,685C1762.3,692 1764.8,695.7 1765,704C1765.2,712.3 1762.7,727 1760,735C1757.3,743 1753.7,746.2 1749,752C1744.3,757.8 1738.7,765.7 1732,770C1725.3,774.3 1717.7,777.3 1709,778C1700.3,778.7 1689,776.7 1680,774C1671,771.3 1662.7,767.3 1655,762C1647.3,756.7 1639,750 1634,742C1629,734 1625.7,723 1625,714Z" fill="#f0b4a2" stroke="#dd9684" stroke-width="13" stroke-linejoin="round"/>
<path d="M1625,714C1624.3,705 1627.3,695 1630,688C1632.7,681 1635.2,677 1641,672C1646.8,667 1656.5,661.2 1665,658C1673.5,654.8 1682.8,653.5 1692,653C1701.2,652.5 1711.2,653.5 1720,655C1728.8,656.5 1738.5,657 1745,662C1751.5,667 1755.7,678 1759,685C1762.3,692 1764.8,695.7 1765,704C1765.2,712.3 1762.7,727 1760,735C1757.3,743 1753.7,746.2 1749,752C1744.3,757.8 1738.7,765.7 1732,770C1725.3,774.3 1717.7,777.3 1709,778C1700.3,778.7 1689,776.7 1680,774C1671,771.3 1662.7,767.3 1655,762C1647.3,756.7 1639,750 1634,742C1629,734 1625.7,723 1625,714Z" fill="none" stroke="#f0b4a2" stroke-width="10.5" stroke-linejoin="round"/>
<g clip-path="url(#clc2)">
<path d="M1625,714C1624.3,705 1627.3,695 1630,688C1632.7,681 1635.2,677 1641,672C1646.8,667 1656.5,661.2 1665,658C1673.5,654.8 1682.8,653.5 1692,653C1701.2,652.5 1711.2,653.5 1720,655C1728.8,656.5 1738.5,657 1745,662C1751.5,667 1755.7,678 1759,685C1762.3,692 1764.8,695.7 1765,704C1765.2,712.3 1762.7,727 1760,735C1757.3,743 1753.7,746.2 1749,752C1744.3,757.8 1738.7,765.7 1732,770C1725.3,774.3 1717.7,777.3 1709,778C1700.3,778.7 1689,776.7 1680,774C1671,771.3 1662.7,767.3 1655,762C1647.3,756.7 1639,750 1634,742C1629,734 1625.7,723 1625,714Z" fill="#ecae99"/>
<g fill="none" stroke="#c4604e" stroke-opacity="0.033" stroke-linecap="round" stroke-linejoin="round"><use href="#ss3" stroke-width="110"/><use href="#ss3" stroke-width="103.9"/><use href="#ss3" stroke-width="97.8"/><use href="#ss3" stroke-width="91.7"/><use href="#ss3" stroke-width="85.6"/><use href="#ss3" stroke-width="79.4"/><use href="#ss3" stroke-width="73.3"/><use href="#ss3" stroke-width="67.2"/><use href="#ss3" stroke-width="61.1"/><use href="#ss3" stroke-width="55"/><use href="#ss3" stroke-width="48.9"/><use href="#ss3" stroke-width="42.8"/><use href="#ss3" stroke-width="36.7"/><use href="#ss3" stroke-width="30.6"/><use href="#ss3" stroke-width="24.4"/><use href="#ss3" stroke-width="18.3"/><use href="#ss3" stroke-width="12.2"/><use href="#ss3" stroke-width="6.1"/></g>
</g>
<path d="M1625,714C1624.3,705 1627.3,695 1630,688C1632.7,681 1635.2,677 1641,672C1646.8,667 1656.5,661.2 1665,658C1673.5,654.8 1682.8,653.5 1692,653C1701.2,652.5 1711.2,653.5 1720,655C1728.8,656.5 1738.5,657 1745,662C1751.5,667 1755.7,678 1759,685C1762.3,692 1764.8,695.7 1765,704C1765.2,712.3 1762.7,727 1760,735C1757.3,743 1753.7,746.2 1749,752C1744.3,757.8 1738.7,765.7 1732,770C1725.3,774.3 1717.7,777.3 1709,778C1700.3,778.7 1689,776.7 1680,774C1671,771.3 1662.7,767.3 1655,762C1647.3,756.7 1639,750 1634,742C1629,734 1625.7,723 1625,714Z" fill="none" stroke="#cf7a68" stroke-width="1.5" opacity="0.7"/>
<ellipse cx="1704" cy="721" rx="25" ry="52" fill="url(#rbc1)" transform="rotate(-20 1704 721)" stroke="#a2372c" stroke-width="1.5"/>
<ellipse cx="1705.2" cy="723.1" rx="12.5" ry="29.9" fill="#8a2a22" transform="rotate(-20 1705.2 723.1)" opacity="0.85" filter="url(#b2)"/>
<ellipse cx="1696" cy="708" rx="5.5" ry="21.8" fill="#ee8a76" transform="rotate(-20 1696 708)" opacity="0.55" filter="url(#b2)"/>
<path d="M1738,640C1736.7,632.7 1728,609.3 1730,596C1732,582.7 1740,569.3 1750,560C1760,550.7 1775,544.7 1790,540C1805,535.3 1823.3,531.2 1840,532C1856.7,532.8 1877,536.2 1890,545C1903,553.8 1912.7,571.7 1918,585C1923.3,598.3 1923.3,613.3 1922,625C1920.7,636.7 1912,650 1910,655" fill="none" stroke="#c98650" stroke-width="29" stroke-linejoin="round" stroke-linecap="round" opacity="0.9"/>
<path d="M1738,640C1736.7,632.7 1728,609.3 1730,596C1732,582.7 1740,569.3 1750,560C1760,550.7 1775,544.7 1790,540C1805,535.3 1823.3,531.2 1840,532C1856.7,532.8 1877,536.2 1890,545C1903,553.8 1912.7,571.7 1918,585C1923.3,598.3 1923.3,613.3 1922,625C1920.7,636.7 1912,650 1910,655" fill="none" stroke="#f4d49a" stroke-width="26" stroke-dasharray="3.4 2.4" stroke-linejoin="round"/>
<path d="M1740,594C1740.7,583.3 1748.3,576.8 1755,570C1761.7,563.2 1766.8,557.3 1780,553C1793.2,548.7 1817.2,542.8 1834,544C1850.8,545.2 1869.2,552.3 1881,560C1892.8,567.7 1900.3,580.8 1905,590C1909.7,599.2 1909.7,605.5 1909,615C1908.3,624.5 1907.5,638.8 1901,647C1894.5,655.2 1881.2,660.2 1870,664C1858.8,667.8 1849,670.5 1834,670C1819,669.5 1793.8,667 1780,661C1766.2,655 1757.7,645.2 1751,634C1744.3,622.8 1739.3,604.7 1740,594Z" fill="#f0b4a2" stroke="#dd9684" stroke-width="13" stroke-linejoin="round"/>
<path d="M1740,594C1740.7,583.3 1748.3,576.8 1755,570C1761.7,563.2 1766.8,557.3 1780,553C1793.2,548.7 1817.2,542.8 1834,544C1850.8,545.2 1869.2,552.3 1881,560C1892.8,567.7 1900.3,580.8 1905,590C1909.7,599.2 1909.7,605.5 1909,615C1908.3,624.5 1907.5,638.8 1901,647C1894.5,655.2 1881.2,660.2 1870,664C1858.8,667.8 1849,670.5 1834,670C1819,669.5 1793.8,667 1780,661C1766.2,655 1757.7,645.2 1751,634C1744.3,622.8 1739.3,604.7 1740,594Z" fill="none" stroke="#f0b4a2" stroke-width="10.5" stroke-linejoin="round"/>
<g clip-path="url(#clc1)">
<path d="M1740,594C1740.7,583.3 1748.3,576.8 1755,570C1761.7,563.2 1766.8,557.3 1780,553C1793.2,548.7 1817.2,542.8 1834,544C1850.8,545.2 1869.2,552.3 1881,560C1892.8,567.7 1900.3,580.8 1905,590C1909.7,599.2 1909.7,605.5 1909,615C1908.3,624.5 1907.5,638.8 1901,647C1894.5,655.2 1881.2,660.2 1870,664C1858.8,667.8 1849,670.5 1834,670C1819,669.5 1793.8,667 1780,661C1766.2,655 1757.7,645.2 1751,634C1744.3,622.8 1739.3,604.7 1740,594Z" fill="#ecb09a"/>
<g fill="none" stroke="#c4604e" stroke-opacity="0.038" stroke-linecap="round" stroke-linejoin="round"><use href="#ss4" stroke-width="110"/><use href="#ss4" stroke-width="103.9"/><use href="#ss4" stroke-width="97.8"/><use href="#ss4" stroke-width="91.7"/><use href="#ss4" stroke-width="85.6"/><use href="#ss4" stroke-width="79.4"/><use href="#ss4" stroke-width="73.3"/><use href="#ss4" stroke-width="67.2"/><use href="#ss4" stroke-width="61.1"/><use href="#ss4" stroke-width="55"/><use href="#ss4" stroke-width="48.9"/><use href="#ss4" stroke-width="42.8"/><use href="#ss4" stroke-width="36.7"/><use href="#ss4" stroke-width="30.6"/><use href="#ss4" stroke-width="24.4"/><use href="#ss4" stroke-width="18.3"/><use href="#ss4" stroke-width="12.2"/><use href="#ss4" stroke-width="6.1"/></g>
</g>
<path d="M1740,594C1740.7,583.3 1748.3,576.8 1755,570C1761.7,563.2 1766.8,557.3 1780,553C1793.2,548.7 1817.2,542.8 1834,544C1850.8,545.2 1869.2,552.3 1881,560C1892.8,567.7 1900.3,580.8 1905,590C1909.7,599.2 1909.7,605.5 1909,615C1908.3,624.5 1907.5,638.8 1901,647C1894.5,655.2 1881.2,660.2 1870,664C1858.8,667.8 1849,670.5 1834,670C1819,669.5 1793.8,667 1780,661C1766.2,655 1757.7,645.2 1751,634C1744.3,622.8 1739.3,604.7 1740,594Z" fill="none" stroke="#cf7a68" stroke-width="1.5" opacity="0.7"/>
<g clip-path="url(#clc1)">
<path d="M1795,582C1801.7,579.8 1820.8,568.5 1835,569C1849.2,569.5 1868.3,576.8 1880,585C1891.7,593.2 1900.8,612.5 1905,618" fill="none" stroke="#b24234" stroke-width="26" stroke-linecap="round"/>
<g fill="none" stroke="#e67f6a" stroke-opacity="0.393" stroke-linecap="round" stroke-linejoin="round"><use href="#ss5" stroke-width="20"/><use href="#ss5" stroke-width="16.7"/><use href="#ss5" stroke-width="13.3"/><use href="#ss5" stroke-width="10"/><use href="#ss5" stroke-width="6.7"/><use href="#ss5" stroke-width="3.3"/></g>
</g>
<path d="M1960,640C1968.3,641 1995,640.7 2010,646C2025,651.3 2040,660.5 2050,672C2060,683.5 2068,700.7 2070,715C2072,729.3 2068.7,745.8 2062,758C2055.3,770.2 2042.8,781.3 2030,788C2017.2,794.7 2000,797.7 1985,798C1970,798.3 1953.3,794.7 1940,790C1926.7,785.3 1910.8,773.3 1905,770" fill="none" stroke="#c98650" stroke-width="29" stroke-linejoin="round" stroke-linecap="round" opacity="0.9"/>
<path d="M1960,640C1968.3,641 1995,640.7 2010,646C2025,651.3 2040,660.5 2050,672C2060,683.5 2068,700.7 2070,715C2072,729.3 2068.7,745.8 2062,758C2055.3,770.2 2042.8,781.3 2030,788C2017.2,794.7 2000,797.7 1985,798C1970,798.3 1953.3,794.7 1940,790C1926.7,785.3 1910.8,773.3 1905,770" fill="none" stroke="#f4d49a" stroke-width="26" stroke-dasharray="3.4 2.4" stroke-linejoin="round"/>
<path d="M1888,712C1888.7,703.2 1895.2,692.5 1900,685C1904.8,677.5 1910,671.8 1917,667C1924,662.2 1933.5,658.3 1942,656C1950.5,653.7 1958.3,652.3 1968,653C1977.7,653.7 1990.5,656.7 2000,660C2009.5,663.3 2017.7,667.2 2025,673C2032.3,678.8 2039.5,688.2 2044,695C2048.5,701.8 2051.2,706.2 2052,714C2052.8,721.8 2051,734.3 2049,742C2047,749.7 2045.2,754.2 2040,760C2034.8,765.8 2026,772.8 2018,777C2010,781.2 2003.3,784.8 1992,785C1980.7,785.2 1962,782 1950,778C1938,774 1929,767.7 1920,761C1911,754.3 1901.3,746.2 1896,738C1890.7,729.8 1887.3,720.8 1888,712Z" fill="#f0b4a2" stroke="#dd9684" stroke-width="13" stroke-linejoin="round"/>
<path d="M1888,712C1888.7,703.2 1895.2,692.5 1900,685C1904.8,677.5 1910,671.8 1917,667C1924,662.2 1933.5,658.3 1942,656C1950.5,653.7 1958.3,652.3 1968,653C1977.7,653.7 1990.5,656.7 2000,660C2009.5,663.3 2017.7,667.2 2025,673C2032.3,678.8 2039.5,688.2 2044,695C2048.5,701.8 2051.2,706.2 2052,714C2052.8,721.8 2051,734.3 2049,742C2047,749.7 2045.2,754.2 2040,760C2034.8,765.8 2026,772.8 2018,777C2010,781.2 2003.3,784.8 1992,785C1980.7,785.2 1962,782 1950,778C1938,774 1929,767.7 1920,761C1911,754.3 1901.3,746.2 1896,738C1890.7,729.8 1887.3,720.8 1888,712Z" fill="none" stroke="#f0b4a2" stroke-width="10.5" stroke-linejoin="round"/>
<g clip-path="url(#clc3)">
<path d="M1888,712C1888.7,703.2 1895.2,692.5 1900,685C1904.8,677.5 1910,671.8 1917,667C1924,662.2 1933.5,658.3 1942,656C1950.5,653.7 1958.3,652.3 1968,653C1977.7,653.7 1990.5,656.7 2000,660C2009.5,663.3 2017.7,667.2 2025,673C2032.3,678.8 2039.5,688.2 2044,695C2048.5,701.8 2051.2,706.2 2052,714C2052.8,721.8 2051,734.3 2049,742C2047,749.7 2045.2,754.2 2040,760C2034.8,765.8 2026,772.8 2018,777C2010,781.2 2003.3,784.8 1992,785C1980.7,785.2 1962,782 1950,778C1938,774 1929,767.7 1920,761C1911,754.3 1901.3,746.2 1896,738C1890.7,729.8 1887.3,720.8 1888,712Z" fill="#ecae99"/>
<g fill="none" stroke="#b84a3a" stroke-opacity="0.057" stroke-linecap="round" stroke-linejoin="round"><use href="#ss6" stroke-width="110"/><use href="#ss6" stroke-width="103.9"/><use href="#ss6" stroke-width="97.8"/><use href="#ss6" stroke-width="91.7"/><use href="#ss6" stroke-width="85.6"/><use href="#ss6" stroke-width="79.4"/><use href="#ss6" stroke-width="73.3"/><use href="#ss6" stroke-width="67.2"/><use href="#ss6" stroke-width="61.1"/><use href="#ss6" stroke-width="55"/><use href="#ss6" stroke-width="48.9"/><use href="#ss6" stroke-width="42.8"/><use href="#ss6" stroke-width="36.7"/><use href="#ss6" stroke-width="30.6"/><use href="#ss6" stroke-width="24.4"/><use href="#ss6" stroke-width="18.3"/><use href="#ss6" stroke-width="12.2"/><use href="#ss6" stroke-width="6.1"/></g>
</g>
<path d="M1888,712C1888.7,703.2 1895.2,692.5 1900,685C1904.8,677.5 1910,671.8 1917,667C1924,662.2 1933.5,658.3 1942,656C1950.5,653.7 1958.3,652.3 1968,653C1977.7,653.7 1990.5,656.7 2000,660C2009.5,663.3 2017.7,667.2 2025,673C2032.3,678.8 2039.5,688.2 2044,695C2048.5,701.8 2051.2,706.2 2052,714C2052.8,721.8 2051,734.3 2049,742C2047,749.7 2045.2,754.2 2040,760C2034.8,765.8 2026,772.8 2018,777C2010,781.2 2003.3,784.8 1992,785C1980.7,785.2 1962,782 1950,778C1938,774 1929,767.7 1920,761C1911,754.3 1901.3,746.2 1896,738C1890.7,729.8 1887.3,720.8 1888,712Z" fill="none" stroke="#cf7a68" stroke-width="1.5" opacity="0.7"/>
<ellipse cx="1941" cy="712" rx="37" ry="44" fill="url(#rbc2)" transform="rotate(20 1941 712)" stroke="#a2372c" stroke-width="1.5"/>
<ellipse cx="1942.8" cy="713.8" rx="20.4" ry="27.8" fill="#d9604e" transform="rotate(20 1942.8 713.8)" opacity="0.85" filter="url(#b2)"/>
<ellipse cx="1929.2" cy="701" rx="8.1" ry="18.5" fill="#ee8a76" transform="rotate(20 1929.2 701)" opacity="0.55" filter="url(#b2)"/>
<path d="M1912,690C1914.2,697.5 1917,724.7 1925,735C1933,745.3 1954.2,749.2 1960,752" fill="none" stroke="#a3372c" stroke-width="9" opacity="0.7" filter="url(#b1)" stroke-linecap="round"/>
<ellipse cx="2017" cy="729" rx="22" ry="40" fill="url(#rbc3)" transform="rotate(15 2017 729)" stroke="#a2372c" stroke-width="1.5"/>
<ellipse cx="2013" cy="727" rx="9" ry="30" fill="#dd6a58" transform="rotate(15 2013 727)" opacity="0.8" filter="url(#b2)"/>
<path d="M1790,880C1785.8,873.3 1767.5,853.3 1765,840C1762.5,826.7 1767.5,811.3 1775,800C1782.5,788.7 1804.2,776.7 1810,772" fill="none" stroke="#c98650" stroke-width="29" stroke-linejoin="round" stroke-linecap="round" opacity="0.9"/>
<path d="M1790,880C1785.8,873.3 1767.5,853.3 1765,840C1762.5,826.7 1767.5,811.3 1775,800C1782.5,788.7 1804.2,776.7 1810,772" fill="none" stroke="#f4d49a" stroke-width="26" stroke-dasharray="3.4 2.4" stroke-linejoin="round"/>
<path d="M1776,814C1777.7,804.3 1785.8,797.3 1793,792C1800.2,786.7 1807.8,784 1819,782C1830.2,780 1846.7,779.5 1860,780C1873.3,780.5 1884.8,781.2 1899,785C1913.2,788.8 1930,795.7 1945,803C1960,810.3 1976.5,820.8 1989,829C2001.5,837.2 2011,843.7 2020,852C2029,860.3 2039,870.5 2043,879C2047,887.5 2045.8,895.7 2044,903C2042.2,910.3 2039.3,918.2 2032,923C2024.7,927.8 2013.2,930.8 2000,932C1986.8,933.2 1969.7,934 1953,930C1936.3,926 1918,916.5 1900,908C1882,899.5 1860.8,886 1845,879C1829.2,872 1815.3,870.8 1805,866C1794.7,861.2 1787.8,858.7 1783,850C1778.2,841.3 1774.3,823.7 1776,814Z" fill="#f0b4a2" stroke="#dd9684" stroke-width="13" stroke-linejoin="round"/>
<path d="M1776,814C1777.7,804.3 1785.8,797.3 1793,792C1800.2,786.7 1807.8,784 1819,782C1830.2,780 1846.7,779.5 1860,780C1873.3,780.5 1884.8,781.2 1899,785C1913.2,788.8 1930,795.7 1945,803C1960,810.3 1976.5,820.8 1989,829C2001.5,837.2 2011,843.7 2020,852C2029,860.3 2039,870.5 2043,879C2047,887.5 2045.8,895.7 2044,903C2042.2,910.3 2039.3,918.2 2032,923C2024.7,927.8 2013.2,930.8 2000,932C1986.8,933.2 1969.7,934 1953,930C1936.3,926 1918,916.5 1900,908C1882,899.5 1860.8,886 1845,879C1829.2,872 1815.3,870.8 1805,866C1794.7,861.2 1787.8,858.7 1783,850C1778.2,841.3 1774.3,823.7 1776,814Z" fill="none" stroke="#f0b4a2" stroke-width="10.5" stroke-linejoin="round"/>
<g clip-path="url(#clc4)">
<path d="M1776,814C1777.7,804.3 1785.8,797.3 1793,792C1800.2,786.7 1807.8,784 1819,782C1830.2,780 1846.7,779.5 1860,780C1873.3,780.5 1884.8,781.2 1899,785C1913.2,788.8 1930,795.7 1945,803C1960,810.3 1976.5,820.8 1989,829C2001.5,837.2 2011,843.7 2020,852C2029,860.3 2039,870.5 2043,879C2047,887.5 2045.8,895.7 2044,903C2042.2,910.3 2039.3,918.2 2032,923C2024.7,927.8 2013.2,930.8 2000,932C1986.8,933.2 1969.7,934 1953,930C1936.3,926 1918,916.5 1900,908C1882,899.5 1860.8,886 1845,879C1829.2,872 1815.3,870.8 1805,866C1794.7,861.2 1787.8,858.7 1783,850C1778.2,841.3 1774.3,823.7 1776,814Z" fill="#ecae99"/>
<g fill="none" stroke="#b84a3a" stroke-opacity="0.065" stroke-linecap="round" stroke-linejoin="round"><use href="#ss7" stroke-width="110"/><use href="#ss7" stroke-width="103.9"/><use href="#ss7" stroke-width="97.8"/><use href="#ss7" stroke-width="91.7"/><use href="#ss7" stroke-width="85.6"/><use href="#ss7" stroke-width="79.4"/><use href="#ss7" stroke-width="73.3"/><use href="#ss7" stroke-width="67.2"/><use href="#ss7" stroke-width="61.1"/><use href="#ss7" stroke-width="55"/><use href="#ss7" stroke-width="48.9"/><use href="#ss7" stroke-width="42.8"/><use href="#ss7" stroke-width="36.7"/><use href="#ss7" stroke-width="30.6"/><use href="#ss7" stroke-width="24.4"/><use href="#ss7" stroke-width="18.3"/><use href="#ss7" stroke-width="12.2"/><use href="#ss7" stroke-width="6.1"/></g>
</g>
<path d="M1776,814C1777.7,804.3 1785.8,797.3 1793,792C1800.2,786.7 1807.8,784 1819,782C1830.2,780 1846.7,779.5 1860,780C1873.3,780.5 1884.8,781.2 1899,785C1913.2,788.8 1930,795.7 1945,803C1960,810.3 1976.5,820.8 1989,829C2001.5,837.2 2011,843.7 2020,852C2029,860.3 2039,870.5 2043,879C2047,887.5 2045.8,895.7 2044,903C2042.2,910.3 2039.3,918.2 2032,923C2024.7,927.8 2013.2,930.8 2000,932C1986.8,933.2 1969.7,934 1953,930C1936.3,926 1918,916.5 1900,908C1882,899.5 1860.8,886 1845,879C1829.2,872 1815.3,870.8 1805,866C1794.7,861.2 1787.8,858.7 1783,850C1778.2,841.3 1774.3,823.7 1776,814Z" fill="none" stroke="#cf7a68" stroke-width="1.5" opacity="0.7"/>
<path d="M1905,925C1913.3,928.3 1938.3,941.2 1955,945C1971.7,948.8 1990,950.5 2005,948C2020,945.5 2035.8,938.8 2045,930C2054.2,921.2 2059.2,906.7 2060,895C2060.8,883.3 2051.7,865.8 2050,860" fill="none" stroke="#c98650" stroke-width="29" stroke-linecap="round" opacity="0.9"/>
<path d="M1905,925C1913.3,928.3 1938.3,941.2 1955,945C1971.7,948.8 1990,950.5 2005,948C2020,945.5 2035.8,938.8 2045,930C2054.2,921.2 2059.2,906.7 2060,895C2060.8,883.3 2051.7,865.8 2050,860" fill="none" stroke="#f4d49a" stroke-width="26" stroke-dasharray="3.4 2.4"/>
<path d="M1776,814C1777.7,804.3 1785.8,797.3 1793,792C1800.2,786.7 1807.8,784 1819,782C1830.2,780 1846.7,779.5 1860,780C1873.3,780.5 1884.8,781.2 1899,785C1913.2,788.8 1930,795.7 1945,803C1960,810.3 1976.5,820.8 1989,829C2001.5,837.2 2011,843.7 2020,852C2029,860.3 2039,870.5 2043,879C2047,887.5 2045.8,895.7 2044,903C2042.2,910.3 2039.3,918.2 2032,923C2024.7,927.8 2013.2,930.8 2000,932C1986.8,933.2 1969.7,934 1953,930C1936.3,926 1918,916.5 1900,908C1882,899.5 1860.8,886 1845,879C1829.2,872 1815.3,870.8 1805,866C1794.7,861.2 1787.8,858.7 1783,850C1778.2,841.3 1774.3,823.7 1776,814Z" fill="#f0b4a2" stroke="#dd9684" stroke-width="13"/>
<path d="M1776,814C1777.7,804.3 1785.8,797.3 1793,792C1800.2,786.7 1807.8,784 1819,782C1830.2,780 1846.7,779.5 1860,780C1873.3,780.5 1884.8,781.2 1899,785C1913.2,788.8 1930,795.7 1945,803C1960,810.3 1976.5,820.8 1989,829C2001.5,837.2 2011,843.7 2020,852C2029,860.3 2039,870.5 2043,879C2047,887.5 2045.8,895.7 2044,903C2042.2,910.3 2039.3,918.2 2032,923C2024.7,927.8 2013.2,930.8 2000,932C1986.8,933.2 1969.7,934 1953,930C1936.3,926 1918,916.5 1900,908C1882,899.5 1860.8,886 1845,879C1829.2,872 1815.3,870.8 1805,866C1794.7,861.2 1787.8,858.7 1783,850C1778.2,841.3 1774.3,823.7 1776,814Z" fill="none" stroke="#f0b4a2" stroke-width="10.5"/>
<g clip-path="url(#clc4)">
<path d="M1776,814C1777.7,804.3 1785.8,797.3 1793,792C1800.2,786.7 1807.8,784 1819,782C1830.2,780 1846.7,779.5 1860,780C1873.3,780.5 1884.8,781.2 1899,785C1913.2,788.8 1930,795.7 1945,803C1960,810.3 1976.5,820.8 1989,829C2001.5,837.2 2011,843.7 2020,852C2029,860.3 2039,870.5 2043,879C2047,887.5 2045.8,895.7 2044,903C2042.2,910.3 2039.3,918.2 2032,923C2024.7,927.8 2013.2,930.8 2000,932C1986.8,933.2 1969.7,934 1953,930C1936.3,926 1918,916.5 1900,908C1882,899.5 1860.8,886 1845,879C1829.2,872 1815.3,870.8 1805,866C1794.7,861.2 1787.8,858.7 1783,850C1778.2,841.3 1774.3,823.7 1776,814Z" fill="#e9a893"/>
<g fill="none" stroke="#b84a3a" stroke-opacity="0.065" stroke-linecap="round" stroke-linejoin="round"><use href="#ss8" stroke-width="110"/><use href="#ss8" stroke-width="103.9"/><use href="#ss8" stroke-width="97.8"/><use href="#ss8" stroke-width="91.7"/><use href="#ss8" stroke-width="85.6"/><use href="#ss8" stroke-width="79.4"/><use href="#ss8" stroke-width="73.3"/><use href="#ss8" stroke-width="67.2"/><use href="#ss8" stroke-width="61.1"/><use href="#ss8" stroke-width="55"/><use href="#ss8" stroke-width="48.9"/><use href="#ss8" stroke-width="42.8"/><use href="#ss8" stroke-width="36.7"/><use href="#ss8" stroke-width="30.6"/><use href="#ss8" stroke-width="24.4"/><use href="#ss8" stroke-width="18.3"/><use href="#ss8" stroke-width="12.2"/><use href="#ss8" stroke-width="6.1"/></g>
<path d="M1780,820C1782.5,825 1786.7,841.3 1795,850C1803.3,858.7 1824.2,868.3 1830,872" fill="none" stroke="#c65a48" stroke-width="14" opacity="0.8" filter="url(#b1)"/>
</g>
<ellipse cx="1864" cy="849" rx="52" ry="28" fill="url(#rbc4)" transform="rotate(30 1864 849)" stroke="#a2372c" stroke-width="1.5"/>
<ellipse cx="1866.6" cy="850.1" rx="26" ry="16.1" fill="#8a2a22" transform="rotate(30 1866.6 850.1)" opacity="0.85" filter="url(#b2)"/>
<ellipse cx="1847.4" cy="842" rx="11.4" ry="11.8" fill="#ee8a76" transform="rotate(30 1847.4 842)" opacity="0.55" filter="url(#b2)"/>
<ellipse cx="1981" cy="869" rx="48" ry="41" fill="url(#rbc5)" transform="rotate(10 1981 869)" stroke="#a2372c" stroke-width="1.5"/>
<ellipse cx="1983.4" cy="870.6" rx="19.2" ry="18.9" fill="#6e1d18" transform="rotate(10 1983.4 870.6)" opacity="0.85" filter="url(#b2)"/>
<ellipse cx="1965.6" cy="858.8" rx="10.6" ry="17.2" fill="#ee8a76" transform="rotate(10 1965.6 858.8)" opacity="0.55" filter="url(#b2)"/>
<path d="M1781,1049C1779.5,1036.8 1782,1025.7 1786,1015C1790,1004.3 1797.7,992.5 1805,985C1812.3,977.5 1821.7,973.2 1830,970C1838.3,966.8 1845.8,965.2 1855,966C1864.2,966.8 1875.5,969.7 1885,975C1894.5,980.3 1904.8,989.7 1912,998C1919.2,1006.3 1924.8,1016.3 1928,1025C1931.2,1033.7 1932,1040.8 1931,1050C1930,1059.2 1927.2,1070.8 1922,1080C1916.8,1089.2 1907.8,1098.7 1900,1105C1892.2,1111.3 1883.3,1115.3 1875,1118C1866.7,1120.7 1859.2,1122 1850,1121C1840.8,1120 1829.2,1117.5 1820,1112C1810.8,1106.5 1801.5,1098.5 1795,1088C1788.5,1077.5 1782.5,1061.2 1781,1049Z" fill="none" stroke="#c98650" stroke-width="31" stroke-linejoin="round" stroke-linecap="round" opacity="0.9"/>
<path d="M1781,1049C1779.5,1036.8 1782,1025.7 1786,1015C1790,1004.3 1797.7,992.5 1805,985C1812.3,977.5 1821.7,973.2 1830,970C1838.3,966.8 1845.8,965.2 1855,966C1864.2,966.8 1875.5,969.7 1885,975C1894.5,980.3 1904.8,989.7 1912,998C1919.2,1006.3 1924.8,1016.3 1928,1025C1931.2,1033.7 1932,1040.8 1931,1050C1930,1059.2 1927.2,1070.8 1922,1080C1916.8,1089.2 1907.8,1098.7 1900,1105C1892.2,1111.3 1883.3,1115.3 1875,1118C1866.7,1120.7 1859.2,1122 1850,1121C1840.8,1120 1829.2,1117.5 1820,1112C1810.8,1106.5 1801.5,1098.5 1795,1088C1788.5,1077.5 1782.5,1061.2 1781,1049Z" fill="none" stroke="#f4d49a" stroke-width="28" stroke-dasharray="3.4 2.4" stroke-linejoin="round"/>
<path d="M1781,1049C1779.5,1036.8 1782,1025.7 1786,1015C1790,1004.3 1797.7,992.5 1805,985C1812.3,977.5 1821.7,973.2 1830,970C1838.3,966.8 1845.8,965.2 1855,966C1864.2,966.8 1875.5,969.7 1885,975C1894.5,980.3 1904.8,989.7 1912,998C1919.2,1006.3 1924.8,1016.3 1928,1025C1931.2,1033.7 1932,1040.8 1931,1050C1930,1059.2 1927.2,1070.8 1922,1080C1916.8,1089.2 1907.8,1098.7 1900,1105C1892.2,1111.3 1883.3,1115.3 1875,1118C1866.7,1120.7 1859.2,1122 1850,1121C1840.8,1120 1829.2,1117.5 1820,1112C1810.8,1106.5 1801.5,1098.5 1795,1088C1788.5,1077.5 1782.5,1061.2 1781,1049Z" fill="#f0b4a2" stroke="#dd9684" stroke-width="13" stroke-linejoin="round"/>
<path d="M1781,1049C1779.5,1036.8 1782,1025.7 1786,1015C1790,1004.3 1797.7,992.5 1805,985C1812.3,977.5 1821.7,973.2 1830,970C1838.3,966.8 1845.8,965.2 1855,966C1864.2,966.8 1875.5,969.7 1885,975C1894.5,980.3 1904.8,989.7 1912,998C1919.2,1006.3 1924.8,1016.3 1928,1025C1931.2,1033.7 1932,1040.8 1931,1050C1930,1059.2 1927.2,1070.8 1922,1080C1916.8,1089.2 1907.8,1098.7 1900,1105C1892.2,1111.3 1883.3,1115.3 1875,1118C1866.7,1120.7 1859.2,1122 1850,1121C1840.8,1120 1829.2,1117.5 1820,1112C1810.8,1106.5 1801.5,1098.5 1795,1088C1788.5,1077.5 1782.5,1061.2 1781,1049Z" fill="none" stroke="#f0b4a2" stroke-width="10.5" stroke-linejoin="round"/>
<g clip-path="url(#clc5)">
<path d="M1781,1049C1779.5,1036.8 1782,1025.7 1786,1015C1790,1004.3 1797.7,992.5 1805,985C1812.3,977.5 1821.7,973.2 1830,970C1838.3,966.8 1845.8,965.2 1855,966C1864.2,966.8 1875.5,969.7 1885,975C1894.5,980.3 1904.8,989.7 1912,998C1919.2,1006.3 1924.8,1016.3 1928,1025C1931.2,1033.7 1932,1040.8 1931,1050C1930,1059.2 1927.2,1070.8 1922,1080C1916.8,1089.2 1907.8,1098.7 1900,1105C1892.2,1111.3 1883.3,1115.3 1875,1118C1866.7,1120.7 1859.2,1122 1850,1121C1840.8,1120 1829.2,1117.5 1820,1112C1810.8,1106.5 1801.5,1098.5 1795,1088C1788.5,1077.5 1782.5,1061.2 1781,1049Z" fill="#ecae99"/>
<g fill="none" stroke="#c4604e" stroke-opacity="0.028" stroke-linecap="round" stroke-linejoin="round"><use href="#ss9" stroke-width="110"/><use href="#ss9" stroke-width="103.9"/><use href="#ss9" stroke-width="97.8"/><use href="#ss9" stroke-width="91.7"/><use href="#ss9" stroke-width="85.6"/><use href="#ss9" stroke-width="79.4"/><use href="#ss9" stroke-width="73.3"/><use href="#ss9" stroke-width="67.2"/><use href="#ss9" stroke-width="61.1"/><use href="#ss9" stroke-width="55"/><use href="#ss9" stroke-width="48.9"/><use href="#ss9" stroke-width="42.8"/><use href="#ss9" stroke-width="36.7"/><use href="#ss9" stroke-width="30.6"/><use href="#ss9" stroke-width="24.4"/><use href="#ss9" stroke-width="18.3"/><use href="#ss9" stroke-width="12.2"/><use href="#ss9" stroke-width="6.1"/></g>
</g>
<path d="M1781,1049C1779.5,1036.8 1782,1025.7 1786,1015C1790,1004.3 1797.7,992.5 1805,985C1812.3,977.5 1821.7,973.2 1830,970C1838.3,966.8 1845.8,965.2 1855,966C1864.2,966.8 1875.5,969.7 1885,975C1894.5,980.3 1904.8,989.7 1912,998C1919.2,1006.3 1924.8,1016.3 1928,1025C1931.2,1033.7 1932,1040.8 1931,1050C1930,1059.2 1927.2,1070.8 1922,1080C1916.8,1089.2 1907.8,1098.7 1900,1105C1892.2,1111.3 1883.3,1115.3 1875,1118C1866.7,1120.7 1859.2,1122 1850,1121C1840.8,1120 1829.2,1117.5 1820,1112C1810.8,1106.5 1801.5,1098.5 1795,1088C1788.5,1077.5 1782.5,1061.2 1781,1049Z" fill="none" stroke="#cf7a68" stroke-width="1.5" opacity="0.7"/>
<ellipse cx="1845" cy="1049" rx="36" ry="51" fill="url(#rbc6)" transform="rotate(8 1845 1049)" stroke="#a2372c" stroke-width="1.5"/>
<ellipse cx="1846.8" cy="1051" rx="18" ry="29.3" fill="#8a2a22" transform="rotate(8 1846.8 1051)" opacity="0.85" filter="url(#b2)"/>
<ellipse cx="1833.5" cy="1036.2" rx="7.9" ry="21.4" fill="#ee8a76" transform="rotate(8 1833.5 1036.2)" opacity="0.55" filter="url(#b2)"/>
<path d="M1590,1050C1593.3,1045.3 1600,1029 1610,1022C1620,1015 1635.8,1009 1650,1008C1664.2,1007 1683,1009.8 1695,1016C1707,1022.2 1716.5,1033.5 1722,1045C1727.5,1056.5 1727,1078.3 1728,1085" fill="none" stroke="#c98650" stroke-width="25" stroke-linejoin="round" stroke-linecap="round" opacity="0.9"/>
<path d="M1590,1050C1593.3,1045.3 1600,1029 1610,1022C1620,1015 1635.8,1009 1650,1008C1664.2,1007 1683,1009.8 1695,1016C1707,1022.2 1716.5,1033.5 1722,1045C1727.5,1056.5 1727,1078.3 1728,1085" fill="none" stroke="#f4d49a" stroke-width="22" stroke-dasharray="3.4 2.4" stroke-linejoin="round"/>
<path d="M1583,1066C1582.5,1059 1585.2,1053.3 1588,1048C1590.8,1042.7 1594.3,1038.3 1600,1034C1605.7,1029.7 1614.3,1024.7 1622,1022C1629.7,1019.3 1637.7,1018.3 1646,1018C1654.3,1017.7 1664,1018.7 1672,1020C1680,1021.3 1687.3,1022 1694,1026C1700.7,1030 1707.5,1037.3 1712,1044C1716.5,1050.7 1720.2,1058.3 1721,1066C1721.8,1073.7 1719.3,1082.8 1717,1090C1714.7,1097.2 1711.8,1103.8 1707,1109C1702.2,1114.2 1695.5,1118 1688,1121C1680.5,1124 1671.2,1126.7 1662,1127C1652.8,1127.3 1642,1125.7 1633,1123C1624,1120.3 1615,1116.5 1608,1111C1601,1105.5 1595.2,1097.5 1591,1090C1586.8,1082.5 1583.5,1073 1583,1066Z" fill="#f0b4a2" stroke="#dd9684" stroke-width="13" stroke-linejoin="round"/>
<path d="M1583,1066C1582.5,1059 1585.2,1053.3 1588,1048C1590.8,1042.7 1594.3,1038.3 1600,1034C1605.7,1029.7 1614.3,1024.7 1622,1022C1629.7,1019.3 1637.7,1018.3 1646,1018C1654.3,1017.7 1664,1018.7 1672,1020C1680,1021.3 1687.3,1022 1694,1026C1700.7,1030 1707.5,1037.3 1712,1044C1716.5,1050.7 1720.2,1058.3 1721,1066C1721.8,1073.7 1719.3,1082.8 1717,1090C1714.7,1097.2 1711.8,1103.8 1707,1109C1702.2,1114.2 1695.5,1118 1688,1121C1680.5,1124 1671.2,1126.7 1662,1127C1652.8,1127.3 1642,1125.7 1633,1123C1624,1120.3 1615,1116.5 1608,1111C1601,1105.5 1595.2,1097.5 1591,1090C1586.8,1082.5 1583.5,1073 1583,1066Z" fill="none" stroke="#f0b4a2" stroke-width="10.5" stroke-linejoin="round"/>
<g clip-path="url(#clc6)">
<path d="M1583,1066C1582.5,1059 1585.2,1053.3 1588,1048C1590.8,1042.7 1594.3,1038.3 1600,1034C1605.7,1029.7 1614.3,1024.7 1622,1022C1629.7,1019.3 1637.7,1018.3 1646,1018C1654.3,1017.7 1664,1018.7 1672,1020C1680,1021.3 1687.3,1022 1694,1026C1700.7,1030 1707.5,1037.3 1712,1044C1716.5,1050.7 1720.2,1058.3 1721,1066C1721.8,1073.7 1719.3,1082.8 1717,1090C1714.7,1097.2 1711.8,1103.8 1707,1109C1702.2,1114.2 1695.5,1118 1688,1121C1680.5,1124 1671.2,1126.7 1662,1127C1652.8,1127.3 1642,1125.7 1633,1123C1624,1120.3 1615,1116.5 1608,1111C1601,1105.5 1595.2,1097.5 1591,1090C1586.8,1082.5 1583.5,1073 1583,1066Z" fill="#ecae99"/>
<g fill="none" stroke="#c4604e" stroke-opacity="0.028" stroke-linecap="round" stroke-linejoin="round"><use href="#ss10" stroke-width="110"/><use href="#ss10" stroke-width="103.9"/><use href="#ss10" stroke-width="97.8"/><use href="#ss10" stroke-width="91.7"/><use href="#ss10" stroke-width="85.6"/><use href="#ss10" stroke-width="79.4"/><use href="#ss10" stroke-width="73.3"/><use href="#ss10" stroke-width="67.2"/><use href="#ss10" stroke-width="61.1"/><use href="#ss10" stroke-width="55"/><use href="#ss10" stroke-width="48.9"/><use href="#ss10" stroke-width="42.8"/><use href="#ss10" stroke-width="36.7"/><use href="#ss10" stroke-width="30.6"/><use href="#ss10" stroke-width="24.4"/><use href="#ss10" stroke-width="18.3"/><use href="#ss10" stroke-width="12.2"/><use href="#ss10" stroke-width="6.1"/></g>
</g>
<path d="M1583,1066C1582.5,1059 1585.2,1053.3 1588,1048C1590.8,1042.7 1594.3,1038.3 1600,1034C1605.7,1029.7 1614.3,1024.7 1622,1022C1629.7,1019.3 1637.7,1018.3 1646,1018C1654.3,1017.7 1664,1018.7 1672,1020C1680,1021.3 1687.3,1022 1694,1026C1700.7,1030 1707.5,1037.3 1712,1044C1716.5,1050.7 1720.2,1058.3 1721,1066C1721.8,1073.7 1719.3,1082.8 1717,1090C1714.7,1097.2 1711.8,1103.8 1707,1109C1702.2,1114.2 1695.5,1118 1688,1121C1680.5,1124 1671.2,1126.7 1662,1127C1652.8,1127.3 1642,1125.7 1633,1123C1624,1120.3 1615,1116.5 1608,1111C1601,1105.5 1595.2,1097.5 1591,1090C1586.8,1082.5 1583.5,1073 1583,1066Z" fill="none" stroke="#cf7a68" stroke-width="1.5" opacity="0.7"/>
<ellipse cx="1676" cy="1071" rx="27" ry="45" fill="url(#rbc7)" transform="rotate(-20 1676 1071)" stroke="#a2372c" stroke-width="1.5"/>
<ellipse cx="1677.3" cy="1072.8" rx="13.5" ry="25.9" fill="#8a2a22" transform="rotate(-20 1677.3 1072.8)" opacity="0.85" filter="url(#b2)"/>
<ellipse cx="1667.4" cy="1059.8" rx="5.9" ry="18.9" fill="#ee8a76" transform="rotate(-20 1667.4 1059.8)" opacity="0.55" filter="url(#b2)"/>
<path d="M1600,745C1603,750 1611.7,766.3 1618,775C1624.3,783.7 1631,793.5 1638,797C1645,800.5 1652.7,797.2 1660,796C1667.3,794.8 1678.3,791 1682,790" fill="none" stroke="#d29a3e" stroke-width="13.5" stroke-linecap="round" opacity="0.85"/>
<path d="M1600,745C1603,750 1611.7,766.3 1618,775C1624.3,783.7 1631,793.5 1638,797C1645,800.5 1652.7,797.2 1660,796C1667.3,794.8 1678.3,791 1682,790" fill="none" stroke="#f2cd70" stroke-width="11" stroke-linecap="round"/>
<path d="M1600,745C1603,750 1611.7,766.3 1618,775C1624.3,783.7 1631,793.5 1638,797C1645,800.5 1652.7,797.2 1660,796C1667.3,794.8 1678.3,791 1682,790" fill="none" stroke="#f9e3a0" stroke-width="3.8" stroke-linecap="round" opacity="0.8"/>
<path d="M1638,797C1634.2,799.5 1622.2,808.5 1615,812C1607.8,815.5 1598.3,817 1595,818" fill="none" stroke="#d29a3e" stroke-width="11.5" stroke-linecap="round" opacity="0.85"/>
<path d="M1638,797C1634.2,799.5 1622.2,808.5 1615,812C1607.8,815.5 1598.3,817 1595,818" fill="none" stroke="#f2cd70" stroke-width="9" stroke-linecap="round"/>
<path d="M1638,797C1634.2,799.5 1622.2,808.5 1615,812C1607.8,815.5 1598.3,817 1595,818" fill="none" stroke="#f9e3a0" stroke-width="3.1" stroke-linecap="round" opacity="0.8"/>
<path d="M1652,841C1659.8,838.7 1685.3,834.3 1699,827C1712.7,819.7 1722.3,806.3 1734,797C1745.7,787.7 1757.5,777.3 1769,771C1780.5,764.7 1797.3,761 1803,759" fill="none" stroke="#d29a3e" stroke-width="12.5" stroke-linecap="round" opacity="0.85"/>
<path d="M1652,841C1659.8,838.7 1685.3,834.3 1699,827C1712.7,819.7 1722.3,806.3 1734,797C1745.7,787.7 1757.5,777.3 1769,771C1780.5,764.7 1797.3,761 1803,759" fill="none" stroke="#f2cd70" stroke-width="10" stroke-linecap="round"/>
<path d="M1652,841C1659.8,838.7 1685.3,834.3 1699,827C1712.7,819.7 1722.3,806.3 1734,797C1745.7,787.7 1757.5,777.3 1769,771C1780.5,764.7 1797.3,761 1803,759" fill="none" stroke="#f9e3a0" stroke-width="3.5" stroke-linecap="round" opacity="0.8"/>
<path d="M1727,905C1730.8,905.2 1742.2,907.3 1750,906C1757.8,904.7 1770,898.5 1774,897" fill="none" stroke="#d29a3e" stroke-width="11.5" stroke-linecap="round" opacity="0.85"/>
<path d="M1727,905C1730.8,905.2 1742.2,907.3 1750,906C1757.8,904.7 1770,898.5 1774,897" fill="none" stroke="#f2cd70" stroke-width="9" stroke-linecap="round"/>
<path d="M1727,905C1730.8,905.2 1742.2,907.3 1750,906C1757.8,904.7 1770,898.5 1774,897" fill="none" stroke="#f9e3a0" stroke-width="3.1" stroke-linecap="round" opacity="0.8"/>
<path d="M1711,964C1717.7,965.2 1738.5,973.5 1751,971C1763.5,968.5 1775.8,955.7 1786,949C1796.2,942.3 1799.7,933.7 1812,931C1824.3,928.3 1843.7,930.7 1860,933C1876.3,935.3 1901.7,943 1910,945" fill="none" stroke="#d29a3e" stroke-width="13.5" stroke-linecap="round" opacity="0.85"/>
<path d="M1711,964C1717.7,965.2 1738.5,973.5 1751,971C1763.5,968.5 1775.8,955.7 1786,949C1796.2,942.3 1799.7,933.7 1812,931C1824.3,928.3 1843.7,930.7 1860,933C1876.3,935.3 1901.7,943 1910,945" fill="none" stroke="#f2cd70" stroke-width="11" stroke-linecap="round"/>
<path d="M1711,964C1717.7,965.2 1738.5,973.5 1751,971C1763.5,968.5 1775.8,955.7 1786,949C1796.2,942.3 1799.7,933.7 1812,931C1824.3,928.3 1843.7,930.7 1860,933C1876.3,935.3 1901.7,943 1910,945" fill="none" stroke="#f9e3a0" stroke-width="3.8" stroke-linecap="round" opacity="0.8"/>
<path d="M1716,964C1717,967.5 1721.3,978.2 1722,985C1722.7,991.8 1720.3,1001.7 1720,1005" fill="none" stroke="#d29a3e" stroke-width="10.5" stroke-linecap="round" opacity="0.85"/>
<path d="M1716,964C1717,967.5 1721.3,978.2 1722,985C1722.7,991.8 1720.3,1001.7 1720,1005" fill="none" stroke="#f2cd70" stroke-width="8" stroke-linecap="round"/>
<path d="M1716,964C1717,967.5 1721.3,978.2 1722,985C1722.7,991.8 1720.3,1001.7 1720,1005" fill="none" stroke="#f9e3a0" stroke-width="2.8" stroke-linecap="round" opacity="0.8"/>
<path d="M1781,676C1784.2,680 1791,694 1800,700C1809,706 1823.3,712 1835,712C1846.7,712 1864.2,702 1870,700" fill="none" stroke="#d29a3e" stroke-width="11.5" stroke-linecap="round" opacity="0.85"/>
<path d="M1781,676C1784.2,680 1791,694 1800,700C1809,706 1823.3,712 1835,712C1846.7,712 1864.2,702 1870,700" fill="none" stroke="#f2cd70" stroke-width="9" stroke-linecap="round"/>
<path d="M1781,676C1784.2,680 1791,694 1800,700C1809,706 1823.3,712 1835,712C1846.7,712 1864.2,702 1870,700" fill="none" stroke="#f9e3a0" stroke-width="3.1" stroke-linecap="round" opacity="0.8"/>
<path d="M1810,706C1807.5,709.7 1801.3,722.7 1795,728C1788.7,733.3 1775.8,736.3 1772,738" fill="none" stroke="#d29a3e" stroke-width="10.5" stroke-linecap="round" opacity="0.85"/>
<path d="M1810,706C1807.5,709.7 1801.3,722.7 1795,728C1788.7,733.3 1775.8,736.3 1772,738" fill="none" stroke="#f2cd70" stroke-width="8" stroke-linecap="round"/>
<path d="M1810,706C1807.5,709.7 1801.3,722.7 1795,728C1788.7,733.3 1775.8,736.3 1772,738" fill="none" stroke="#f9e3a0" stroke-width="2.8" stroke-linecap="round" opacity="0.8"/>
<ellipse cx="1964" cy="572" rx="7" ry="14" fill="#d9806c" transform="rotate(-10 1964 572)" stroke="#c06652" stroke-width="1.2" filter="url(#b1)"/>
<ellipse cx="1635" cy="634" rx="12" ry="6" fill="#d9806c" transform="rotate(-10 1635 634)" stroke="#c06652" stroke-width="1.2" filter="url(#b1)"/>
<ellipse cx="2097" cy="740" rx="6" ry="11" fill="#d9806c" transform="rotate(15 2097 740)" stroke="#c06652" stroke-width="1.2" filter="url(#b1)"/>
<ellipse cx="2007" cy="1045" rx="8" ry="14" fill="#d9806c" transform="rotate(20 2007 1045)" stroke="#c06652" stroke-width="1.2" filter="url(#b1)"/>
<ellipse cx="1699.5" cy="1153" rx="14" ry="8" fill="#d9806c" transform="rotate(-8 1699.5 1153)" stroke="#c06652" stroke-width="1.2" filter="url(#b1)"/>
<ellipse cx="2095" cy="900" rx="5" ry="10" fill="#d9806c" stroke="#c06652" stroke-width="1.2" filter="url(#b1)"/>
<ellipse cx="1772" cy="650" rx="8" ry="5" fill="#a792c8" transform="rotate(30 1772 650)" filter="url(#b1)"/>
<ellipse cx="1806" cy="541" rx="8" ry="4" fill="#a792c8" transform="rotate(-15 1806 541)" filter="url(#b1)"/>
<ellipse cx="1907" cy="598" rx="5" ry="9" fill="#a792c8" transform="rotate(10 1907 598)" filter="url(#b1)"/>
<ellipse cx="1843" cy="678" rx="9" ry="4" fill="#a792c8" filter="url(#b1)"/>
<ellipse cx="1757" cy="700" rx="4" ry="8" fill="#a792c8" filter="url(#b1)"/>
<ellipse cx="1668" cy="655" rx="8" ry="4" fill="#a792c8" transform="rotate(-25 1668 655)" filter="url(#b1)"/>
<ellipse cx="1660" cy="770" rx="8" ry="4" fill="#a792c8" transform="rotate(20 1660 770)" filter="url(#b1)"/>
<ellipse cx="2003" cy="657" rx="8" ry="4" fill="#a792c8" transform="rotate(25 2003 657)" filter="url(#b1)"/>
<ellipse cx="1925" cy="765" rx="8" ry="4" fill="#a792c8" transform="rotate(30 1925 765)" filter="url(#b1)"/>
<ellipse cx="2040" cy="770" rx="7" ry="4" fill="#a792c8" transform="rotate(-40 2040 770)" filter="url(#b1)"/>
<ellipse cx="1860" cy="776" rx="8" ry="4" fill="#a792c8" filter="url(#b1)"/>
<ellipse cx="1787" cy="845" rx="4" ry="8" fill="#a792c8" filter="url(#b1)"/>
<ellipse cx="1900" cy="912" rx="9" ry="4" fill="#a792c8" transform="rotate(20 1900 912)" filter="url(#b1)"/>
<ellipse cx="2040" cy="905" rx="5" ry="8" fill="#a792c8" transform="rotate(10 2040 905)" filter="url(#b1)"/>
<ellipse cx="1905" cy="988" rx="5" ry="8" fill="#a792c8" transform="rotate(-40 1905 988)" filter="url(#b1)"/>
<ellipse cx="1850" cy="1124" rx="9" ry="4" fill="#a792c8" filter="url(#b1)"/>
<ellipse cx="1783" cy="1010" rx="4" ry="8" fill="#a792c8" transform="rotate(20 1783 1010)" filter="url(#b1)"/>
<ellipse cx="1620" cy="1020" rx="8" ry="4" fill="#a792c8" transform="rotate(-25 1620 1020)" filter="url(#b1)"/>
<ellipse cx="1717" cy="1070" rx="4" ry="8" fill="#a792c8" filter="url(#b1)"/>
<g id="leaders">
<path d="M306.6,149.9 L432.6,149.9 L449.6,277.6" fill="none" stroke="#ffffff" stroke-width="4" stroke-linejoin="miter" opacity="0.55"/>
<path d="M305,149.3 L431,149.3 L448,277" fill="none" stroke="#333" stroke-width="2.8" stroke-linejoin="miter" />
<path d="M560.6,186.6 L522.1,186.6 L466.6,310" fill="none" stroke="#ffffff" stroke-width="4" stroke-linejoin="miter" opacity="0.55"/>
<path d="M559,186 L520.5,186 L465,309.4" fill="none" stroke="#2b2b2b" stroke-width="2.8" stroke-linejoin="miter" />
<path d="M240.3,243.8 L386.6,243.8" fill="none" stroke="#ffffff" stroke-width="4" stroke-linejoin="miter" opacity="0.55"/>
<path d="M238.7,243.2 L385,243.2" fill="none" stroke="#444" stroke-width="2.8" stroke-linejoin="miter" />
<path d="M292.6,473.2 L351.1,473.2 L466.6,396.2" fill="none" stroke="#ffffff" stroke-width="4" stroke-linejoin="miter" opacity="0.55"/>
<path d="M291,472.6 L349.5,472.6 L465,395.6" fill="none" stroke="#2b2b2b" stroke-width="2.8" stroke-linejoin="miter" />
<path d="M1458.6,284 L1501.3,284 L1609.6,499.1" fill="none" stroke="#ffffff" stroke-width="3.8" stroke-linejoin="miter" opacity="0.55"/>
<path d="M1457,283.4 L1499.7,283.4 L1608,498.5" fill="none" stroke="#444" stroke-width="2.6" stroke-linejoin="miter" />
<path d="M1524.6,433 L1533.4,433 L1608.2,570.4" fill="none" stroke="#ffffff" stroke-width="3.8" stroke-linejoin="miter" opacity="0.55"/>
<path d="M1523,432.4 L1531.8,432.4 L1606.6,569.8" fill="none" stroke="#444" stroke-width="2.6" stroke-linejoin="miter" />
<path d="M1837.6,207.6 L1794.9,207.6 L1796.4,672.1" fill="none" stroke="#ffffff" stroke-width="3.8" stroke-linejoin="miter" opacity="0.55"/>
<path d="M1836,207 L1793.3,207 L1794.8,671.5" fill="none" stroke="#555" stroke-width="2.6" stroke-linejoin="miter" />
<path d="M1795.1,209.6 L1882.9,524.6" fill="none" stroke="#ffffff" stroke-width="3.8" stroke-linejoin="miter" opacity="0.55"/>
<path d="M1793.5,209 L1881.3,524" fill="none" stroke="#444" stroke-width="2.6" stroke-linejoin="miter" />
<path d="M2031.9,348.1 L1975,348.1 L1942.9,543.9" fill="none" stroke="#ffffff" stroke-width="3.8" stroke-linejoin="miter" opacity="0.55"/>
<path d="M2030.3,347.5 L1973.4,347.5 L1941.3,543.3" fill="none" stroke="#444" stroke-width="2.6" stroke-linejoin="miter" />
<path d="M2137.6,473.6 L2085.4,473.6 L1943.9,717.9" fill="none" stroke="#ffffff" stroke-width="4" stroke-linejoin="miter" opacity="0.55"/>
<path d="M2136,473 L2083.8,473 L1942.3,717.3" fill="none" stroke="#3a3a3a" stroke-width="2.8" stroke-linejoin="miter" />
<path d="M2337.2,605 L2337.2,667" fill="none" stroke="#ffffff" stroke-width="4" stroke-linejoin="miter" opacity="0.55"/>
<path d="M2335.6,604.4 L2335.6,666.4" fill="none" stroke="#555" stroke-width="2.8" stroke-linejoin="miter" />
<path d="M2204.9,1006.9 L1912.4,1006.9" fill="none" stroke="#ffffff" stroke-width="3.8" stroke-linejoin="miter" opacity="0.55"/>
<path d="M2203.3,1006.3 L1910.8,1006.3" fill="none" stroke="#4a4a4a" stroke-width="2.6" stroke-linejoin="miter" />
<path d="M2164.2,1006.9 L2037,918.8" fill="none" stroke="#ffffff" stroke-width="3.8" stroke-linejoin="miter" opacity="0.55"/>
<path d="M2162.6,1006.3 L2035.4,918.2" fill="none" stroke="#3a3a3a" stroke-width="2.6" stroke-linejoin="miter" />
<path d="M2110.8,1168.1 L2077.6,1168.1 L1866.6,1124.9" fill="none" stroke="#ffffff" stroke-width="3.8" stroke-linejoin="miter" opacity="0.55"/>
<path d="M2109.2,1167.5 L2076,1167.5 L1865,1124.3" fill="none" stroke="#444" stroke-width="2.6" stroke-linejoin="miter" />
<path d="M1747.1,942.8 L1747.1,1330.9 L1779.6,1330.9" fill="none" stroke="#ffffff" stroke-width="3.8" stroke-linejoin="miter" opacity="0.55"/>
<path d="M1745.5,942.2 L1745.5,1330.3 L1778,1330.3" fill="none" stroke="#666" stroke-width="2.6" stroke-linejoin="miter" />
<path d="M1027,859.5 L1234,859.5" fill="none" stroke="#ffffff" stroke-width="5.5" stroke-linejoin="miter" opacity="0.8"/>
<path d="M1260,771 L1234,771 L1234,949 L1260,949" fill="none" stroke="#ffffff" stroke-width="6" stroke-linejoin="miter" opacity="0.8"/>
<path d="M1028.6,860.1 L1235.6,860.1" fill="none" stroke="#ffffff" stroke-width="3.8" stroke-linejoin="miter" opacity="0.55"/>
<path d="M1027,859.5 L1234,859.5" fill="none" stroke="#666" stroke-width="2.6" stroke-linejoin="miter" />
<path d="M1261.6,771.6 L1235.6,771.6 L1235.6,949.6 L1261.6,949.6" fill="none" stroke="#ffffff" stroke-width="4" stroke-linejoin="miter" opacity="0.55"/>
<path d="M1260,771 L1234,771 L1234,949 L1260,949" fill="none" stroke="#777" stroke-width="2.8" stroke-linejoin="miter" />
<path d="M1063.3,1060.3 L1152.3,1060.3 L1404.4,846.6" fill="none" stroke="#ffffff" stroke-width="3.8" stroke-linejoin="miter" opacity="0.55"/>
<path d="M1061.7,1059.7 L1150.7,1059.7 L1402.8,846" fill="none" stroke="#444" stroke-width="2.6" stroke-linejoin="miter" />
<path d="M911.2,1146.2 L1103,1146.2 L1346.8,985.9" fill="none" stroke="#ffffff" stroke-width="3.8" stroke-linejoin="miter" opacity="0.55"/>
<path d="M909.6,1145.6 L1101.4,1145.6 L1345.2,985.3" fill="none" stroke="#444" stroke-width="2.6" stroke-linejoin="miter" />
<path d="M1103,1146.2 L1463.1,1100.8" fill="none" stroke="#ffffff" stroke-width="3.8" stroke-linejoin="miter" opacity="0.55"/>
<path d="M1101.4,1145.6 L1461.5,1100.2" fill="none" stroke="#444" stroke-width="2.6" stroke-linejoin="miter" />
<path d="M1230.2,1213.4 L1276.9,1213.4" fill="none" stroke="#ffffff" stroke-width="3.8" stroke-linejoin="miter" opacity="0.55"/>
<path d="M1228.6,1212.8 L1275.3,1212.8" fill="none" stroke="#777" stroke-width="2.6" stroke-linejoin="miter" />
<path d="M1123.1,541.1 L1221.1,541.1" fill="none" stroke="#ffffff" stroke-width="4" stroke-linejoin="miter" opacity="0.55"/>
<path d="M1121.5,540.5 L1219.5,540.5" fill="none" stroke="#777" stroke-width="2.8" stroke-linejoin="miter" />
<path d="M1057.2,1380.6 L1057.2,1407.2 L1517.1,1407.2 L1517.1,1380.6" fill="none" stroke="#ffffff" stroke-width="4.5" stroke-linejoin="miter" opacity="0.55"/>
<path d="M1055.6,1380 L1055.6,1406.6 L1515.5,1406.6 L1515.5,1380" fill="none" stroke="#5c5c5c" stroke-width="3.3" stroke-linejoin="miter" />
<path d="M1286.6,1407.2 L1286.6,1417.6" fill="none" stroke="#ffffff" stroke-width="4.5" stroke-linejoin="miter" opacity="0.55"/>
<path d="M1285,1406.6 L1285,1417" fill="none" stroke="#5c5c5c" stroke-width="3.3" stroke-linejoin="miter" />
<path d="M1529.8,1380.6 L1529.8,1407.2 L2174.4,1407.2 L2174.4,1399.6" fill="none" stroke="#ffffff" stroke-width="4.5" stroke-linejoin="miter" opacity="0.55"/>
<path d="M1528.2,1380 L1528.2,1406.6 L2172.8,1406.6 L2172.8,1399" fill="none" stroke="#5c5c5c" stroke-width="3.3" stroke-linejoin="miter" />
<path d="M1849.8,1407.2 L1849.8,1417.6" fill="none" stroke="#ffffff" stroke-width="4.5" stroke-linejoin="miter" opacity="0.55"/>
<path d="M1848.2,1406.6 L1848.2,1417" fill="none" stroke="#5c5c5c" stroke-width="3.3" stroke-linejoin="miter" />
</g>
<path d="M1239.4,525 L1215.3,468.2" fill="none" stroke="#1a1a1a" stroke-width="4.2"/>
<path d="M1206.7,448 L1225.6,468.2 L1214.5,466.4 L1208.1,475.6Z" fill="#1a1a1a"/>
<path d="M1288.5,1277.7 L1315.8,1224.2" fill="none" stroke="#1a1a1a" stroke-width="4.2"/>
<path d="M1325.8,1204.6 L1322.4,1232.1 L1316.7,1222.4 L1305.5,1223.4Z" fill="#1a1a1a"/>
<g id="labels" stroke="#fff" stroke-width="0.8">
<text x="52" y="158" font-size="46.3" font-weight="bold" fill="#231f20">Glomerular</text>
<text x="52" y="201" font-size="46.3" font-weight="bold" fill="#231f20">capsule</text>
<text x="52" y="255.5" font-size="46.3" font-weight="bold" fill="#231f20">Efferent</text>
<text x="52" y="298.6" font-size="46.3" font-weight="bold" fill="#231f20">arteriole</text>
<text x="112" y="486.5" font-size="46.3" font-weight="bold" fill="#231f20">Afferent</text>
<text x="112" y="529.6" font-size="46.3" font-weight="bold" fill="#231f20">arteriole</text>
<text x="570" y="201" font-size="46.3" font-weight="bold" fill="#231f20">Glomerulus</text>
<text x="1163" y="294" font-size="46.3" font-weight="bold" fill="#231f20">Parietal layer</text>
<text x="1163" y="338" font-size="46.3" font-weight="bold" fill="#231f20">of glomerular</text>
<text x="1163" y="381" font-size="46.3" font-weight="bold" fill="#231f20">capsule</text>
<text x="2041" y="361" font-size="46.3" font-weight="bold" fill="#231f20">Podocyte cell body</text>
<text x="2041" y="405" font-size="46.3" font-weight="bold" fill="#231f20">(visceral layer)</text>
<text x="2149" y="487.5" font-size="46.3" font-weight="bold" fill="#231f20">Red blood cell</text>
<text x="2224.6" y="548.5" font-size="46.3" font-weight="bold" fill="#231f20">Proximal</text>
<text x="2224.6" y="593.5" font-size="46.3" font-weight="bold" fill="#231f20">tubule cell</text>
<text x="2218.6" y="1021" font-size="46.3" font-weight="bold" fill="#231f20">Lumens of</text>
<text x="2218.6" y="1066" font-size="46.3" font-weight="bold" fill="#231f20">glomerular</text>
<text x="2218.6" y="1108.3" font-size="46.3" font-weight="bold" fill="#231f20">capillaries</text>
<text x="2121" y="1182" font-size="46.3" font-weight="bold" fill="#231f20">Endothelial cell</text>
<text x="2121" y="1225.6" font-size="46.3" font-weight="bold" fill="#231f20">of glomerular</text>
<text x="2121" y="1268.6" font-size="46.3" font-weight="bold" fill="#231f20">capillary</text>
<text x="594.3" y="759.6" font-size="43" font-weight="bold" fill="#231f20" textLength="421" lengthAdjust="spacingAndGlyphs" stroke="#231f20" stroke-width="1.3" stroke-linejoin="round">Juxtaglomerular</text>
<text x="594.3" y="802.3" font-size="43" font-weight="bold" fill="#231f20" textLength="220" lengthAdjust="spacingAndGlyphs" stroke="#231f20" stroke-width="1.3" stroke-linejoin="round">complex</text>
<text x="633.8" y="955.7" font-size="46.3" font-weight="bold" fill="#231f20">of the ascending</text>
<text x="633.8" y="998.3" font-size="46.3" font-weight="bold" fill="#231f20">limb of nephron loop</text>
<circle cx="605.3" cy="1043.3" r="8" fill="#231f20"/>
<circle cx="605.3" cy="1139" r="8" fill="#231f20"/>
<rect x="645" y="1121.3" width="14" height="1.6" fill="#231f20" opacity="0.7"/><rect x="790" y="1121.3" width="13" height="1.6" fill="#231f20" opacity="0.7"/>
</g>
<g id="boxes">
<rect x="1837" y="178" width="296" height="143" fill="#fff" stroke="#000" stroke-width="5"/>
<text x="1985" y="259.8" font-size="27" font-weight="normal" fill="#000" text-anchor="middle">1</text>
<rect x="1312" y="409.5" width="209" height="88" fill="#fff" stroke="#000" stroke-width="5"/>
<text x="1416.5" y="463.8" font-size="27" font-weight="normal" fill="#000" text-anchor="middle">2</text>
<rect x="910" y="516" width="209" height="89" fill="#fff" stroke="#000" stroke-width="5"/>
<text x="1014.5" y="570.8" font-size="27" font-weight="normal" fill="#000" text-anchor="middle">3</text>
<rect x="590.8" y="825.5" width="434" height="95.5" fill="#fff" stroke="#000" stroke-width="5"/>
<text x="807.8" y="883.5" font-size="27" font-weight="normal" fill="#000" text-anchor="middle">4</text>
<rect x="624.2" y="1021.5" width="435" height="96.2" fill="#fff" stroke="#000" stroke-width="5"/>
<text x="841.7" y="1079.9" font-size="27" font-weight="normal" fill="#000" text-anchor="middle">5</text>
<rect x="624.2" y="1125.8" width="282.9" height="96.2" fill="#fff" stroke="#000" stroke-width="5"/>
<text x="765.7" y="1184.2" font-size="27" font-weight="normal" fill="#000" text-anchor="middle">6</text>
<rect x="943.6" y="1186.8" width="282.5" height="95.2" fill="#fff" stroke="#000" stroke-width="5"/>
<text x="1084.8" y="1244.7" font-size="27" font-weight="normal" fill="#000" text-anchor="middle">7</text>
<rect x="933.5" y="1418.3" width="684.3" height="91.5" fill="#fff" stroke="#000" stroke-width="5"/>
<text x="1275.7" y="1474.3" font-size="27" font-weight="normal" fill="#000" text-anchor="middle">8</text>
<rect x="1710.8" y="1418.3" width="367.9" height="91.5" fill="#fff" stroke="#000" stroke-width="5"/>
<text x="1894.8" y="1474.3" font-size="27" font-weight="normal" fill="#000" text-anchor="middle">9</text>
<rect x="1778.5" y="1299.8" width="521.5" height="95.7" fill="#fff" stroke="#000" stroke-width="5"/>
<text x="2039.2" y="1358" font-size="27" font-weight="normal" fill="#000" text-anchor="middle">10</text>
</g></svg></body></html>
